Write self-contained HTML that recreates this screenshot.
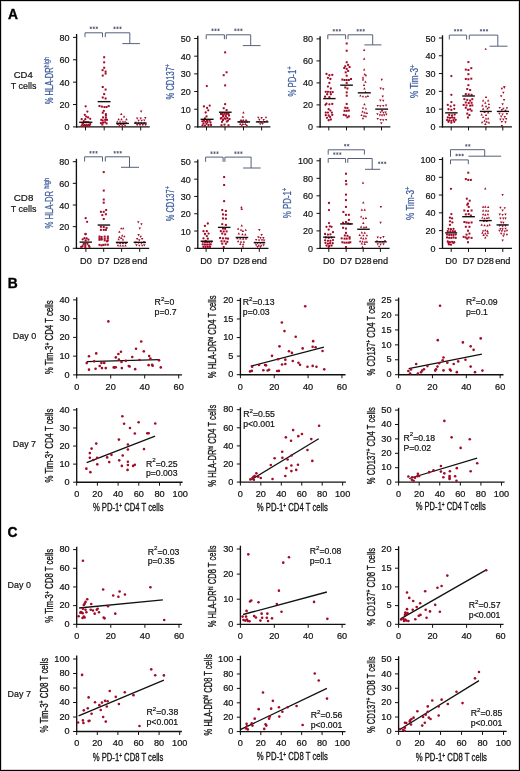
<!DOCTYPE html>
<html><head><meta charset="utf-8"><style>
html,body{margin:0;padding:0;background:#fff;}
svg{display:block;font-family:"Liberation Sans", sans-serif;will-change:transform;}
</style></head><body>
<svg width="520" height="771" viewBox="0 0 520 771">
<rect width="520" height="771" fill="#fff"/>
<rect x="1.5" y="1.5" width="517" height="768" fill="none" stroke="#d6d6d6" stroke-width="1"/>
<rect x="0.5" y="0.5" width="519" height="770" fill="none" stroke="#000" stroke-width="1"/>
<text x="7.70" y="287.80" font-size="13.8" text-anchor="start" fill="#000" font-weight="bold" stroke="#000" stroke-width="0.35" >B</text>
<text x="7.50" y="537.00" font-size="13.8" text-anchor="start" fill="#000" font-weight="bold" stroke="#000" stroke-width="0.35" >C</text>
<text x="8.10" y="18.80" font-size="13.8" text-anchor="start" fill="#000" font-weight="bold" stroke="#000" stroke-width="0.35" >A</text>
<text x="23.25" y="77.70" font-size="9.9" text-anchor="middle" fill="#111" font-weight="normal" stroke="#111" stroke-width="0.2" textLength="19.0" lengthAdjust="spacingAndGlyphs" >CD4</text>
<text x="23.55" y="88.50" font-size="9.9" text-anchor="middle" fill="#111" font-weight="normal" stroke="#111" stroke-width="0.2" textLength="25.6" lengthAdjust="spacingAndGlyphs" >T cells</text>
<text x="23.55" y="200.60" font-size="9.9" text-anchor="middle" fill="#111" font-weight="normal" stroke="#111" stroke-width="0.2" textLength="19.6" lengthAdjust="spacingAndGlyphs" >CD8</text>
<text x="23.55" y="211.70" font-size="9.9" text-anchor="middle" fill="#111" font-weight="normal" stroke="#111" stroke-width="0.2" textLength="25.6" lengthAdjust="spacingAndGlyphs" >T cells</text>
<line x1="76.60" y1="34.00" x2="76.60" y2="127.50" stroke="#111" stroke-width="1.35" />
<line x1="76.00" y1="126.90" x2="149.80" y2="126.90" stroke="#111" stroke-width="1.35" />
<line x1="73.00" y1="126.90" x2="76.60" y2="126.90" stroke="#111" stroke-width="1.0" />
<text x="69.60" y="130.40" font-size="9.8" text-anchor="end" fill="#111" font-weight="normal" stroke="#111" stroke-width="0.2" textLength="5.01" lengthAdjust="spacingAndGlyphs" >0</text>
<line x1="73.00" y1="104.53" x2="76.60" y2="104.53" stroke="#111" stroke-width="1.0" />
<text x="69.60" y="108.03" font-size="9.8" text-anchor="end" fill="#111" font-weight="normal" stroke="#111" stroke-width="0.2" textLength="10.03" lengthAdjust="spacingAndGlyphs" >20</text>
<line x1="73.00" y1="82.15" x2="76.60" y2="82.15" stroke="#111" stroke-width="1.0" />
<text x="69.60" y="85.65" font-size="9.8" text-anchor="end" fill="#111" font-weight="normal" stroke="#111" stroke-width="0.2" textLength="10.03" lengthAdjust="spacingAndGlyphs" >40</text>
<line x1="73.00" y1="59.78" x2="76.60" y2="59.78" stroke="#111" stroke-width="1.0" />
<text x="69.60" y="63.28" font-size="9.8" text-anchor="end" fill="#111" font-weight="normal" stroke="#111" stroke-width="0.2" textLength="10.03" lengthAdjust="spacingAndGlyphs" >60</text>
<line x1="73.00" y1="37.40" x2="76.60" y2="37.40" stroke="#111" stroke-width="1.0" />
<text x="69.60" y="40.90" font-size="9.8" text-anchor="end" fill="#111" font-weight="normal" stroke="#111" stroke-width="0.2" textLength="10.03" lengthAdjust="spacingAndGlyphs" >80</text>
<line x1="85.50" y1="126.90" x2="85.50" y2="130.40" stroke="#111" stroke-width="1.0" />
<line x1="104.20" y1="126.90" x2="104.20" y2="130.40" stroke="#111" stroke-width="1.0" />
<line x1="122.30" y1="126.90" x2="122.30" y2="130.40" stroke="#111" stroke-width="1.0" />
<line x1="140.70" y1="126.90" x2="140.70" y2="130.40" stroke="#111" stroke-width="1.0" />
<line x1="197.80" y1="35.80" x2="197.80" y2="127.50" stroke="#111" stroke-width="1.35" />
<line x1="197.20" y1="126.90" x2="270.40" y2="126.90" stroke="#111" stroke-width="1.35" />
<line x1="194.20" y1="126.90" x2="197.80" y2="126.90" stroke="#111" stroke-width="1.0" />
<text x="190.80" y="130.40" font-size="9.8" text-anchor="end" fill="#111" font-weight="normal" stroke="#111" stroke-width="0.2" textLength="5.01" lengthAdjust="spacingAndGlyphs" >0</text>
<line x1="194.20" y1="109.22" x2="197.80" y2="109.22" stroke="#111" stroke-width="1.0" />
<text x="190.80" y="112.72" font-size="9.8" text-anchor="end" fill="#111" font-weight="normal" stroke="#111" stroke-width="0.2" textLength="10.03" lengthAdjust="spacingAndGlyphs" >10</text>
<line x1="194.20" y1="91.54" x2="197.80" y2="91.54" stroke="#111" stroke-width="1.0" />
<text x="190.80" y="95.04" font-size="9.8" text-anchor="end" fill="#111" font-weight="normal" stroke="#111" stroke-width="0.2" textLength="10.03" lengthAdjust="spacingAndGlyphs" >20</text>
<line x1="194.20" y1="73.86" x2="197.80" y2="73.86" stroke="#111" stroke-width="1.0" />
<text x="190.80" y="77.36" font-size="9.8" text-anchor="end" fill="#111" font-weight="normal" stroke="#111" stroke-width="0.2" textLength="10.03" lengthAdjust="spacingAndGlyphs" >30</text>
<line x1="194.20" y1="56.18" x2="197.80" y2="56.18" stroke="#111" stroke-width="1.0" />
<text x="190.80" y="59.68" font-size="9.8" text-anchor="end" fill="#111" font-weight="normal" stroke="#111" stroke-width="0.2" textLength="10.03" lengthAdjust="spacingAndGlyphs" >40</text>
<line x1="194.20" y1="38.50" x2="197.80" y2="38.50" stroke="#111" stroke-width="1.0" />
<text x="190.80" y="42.00" font-size="9.8" text-anchor="end" fill="#111" font-weight="normal" stroke="#111" stroke-width="0.2" textLength="10.03" lengthAdjust="spacingAndGlyphs" >50</text>
<line x1="206.50" y1="126.90" x2="206.50" y2="130.40" stroke="#111" stroke-width="1.0" />
<line x1="225.00" y1="126.90" x2="225.00" y2="130.40" stroke="#111" stroke-width="1.0" />
<line x1="243.50" y1="126.90" x2="243.50" y2="130.40" stroke="#111" stroke-width="1.0" />
<line x1="261.60" y1="126.90" x2="261.60" y2="130.40" stroke="#111" stroke-width="1.0" />
<line x1="320.10" y1="36.20" x2="320.10" y2="127.50" stroke="#111" stroke-width="1.35" />
<line x1="319.50" y1="126.90" x2="390.40" y2="126.90" stroke="#111" stroke-width="1.35" />
<line x1="316.50" y1="126.90" x2="320.10" y2="126.90" stroke="#111" stroke-width="1.0" />
<text x="313.10" y="130.40" font-size="9.8" text-anchor="end" fill="#111" font-weight="normal" stroke="#111" stroke-width="0.2" textLength="5.01" lengthAdjust="spacingAndGlyphs" >0</text>
<line x1="316.50" y1="104.90" x2="320.10" y2="104.90" stroke="#111" stroke-width="1.0" />
<text x="313.10" y="108.40" font-size="9.8" text-anchor="end" fill="#111" font-weight="normal" stroke="#111" stroke-width="0.2" textLength="10.03" lengthAdjust="spacingAndGlyphs" >20</text>
<line x1="316.50" y1="82.90" x2="320.10" y2="82.90" stroke="#111" stroke-width="1.0" />
<text x="313.10" y="86.40" font-size="9.8" text-anchor="end" fill="#111" font-weight="normal" stroke="#111" stroke-width="0.2" textLength="10.03" lengthAdjust="spacingAndGlyphs" >40</text>
<line x1="316.50" y1="60.90" x2="320.10" y2="60.90" stroke="#111" stroke-width="1.0" />
<text x="313.10" y="64.40" font-size="9.8" text-anchor="end" fill="#111" font-weight="normal" stroke="#111" stroke-width="0.2" textLength="10.03" lengthAdjust="spacingAndGlyphs" >60</text>
<line x1="316.50" y1="38.90" x2="320.10" y2="38.90" stroke="#111" stroke-width="1.0" />
<text x="313.10" y="42.40" font-size="9.8" text-anchor="end" fill="#111" font-weight="normal" stroke="#111" stroke-width="0.2" textLength="10.03" lengthAdjust="spacingAndGlyphs" >80</text>
<line x1="328.80" y1="126.90" x2="328.80" y2="130.40" stroke="#111" stroke-width="1.0" />
<line x1="346.50" y1="126.90" x2="346.50" y2="130.40" stroke="#111" stroke-width="1.0" />
<line x1="364.20" y1="126.90" x2="364.20" y2="130.40" stroke="#111" stroke-width="1.0" />
<line x1="381.50" y1="126.90" x2="381.50" y2="130.40" stroke="#111" stroke-width="1.0" />
<line x1="442.50" y1="35.30" x2="442.50" y2="127.50" stroke="#111" stroke-width="1.35" />
<line x1="441.90" y1="126.90" x2="511.90" y2="126.90" stroke="#111" stroke-width="1.35" />
<line x1="438.90" y1="126.90" x2="442.50" y2="126.90" stroke="#111" stroke-width="1.0" />
<text x="435.50" y="130.40" font-size="9.8" text-anchor="end" fill="#111" font-weight="normal" stroke="#111" stroke-width="0.2" textLength="5.01" lengthAdjust="spacingAndGlyphs" >0</text>
<line x1="438.90" y1="109.12" x2="442.50" y2="109.12" stroke="#111" stroke-width="1.0" />
<text x="435.50" y="112.62" font-size="9.8" text-anchor="end" fill="#111" font-weight="normal" stroke="#111" stroke-width="0.2" textLength="10.03" lengthAdjust="spacingAndGlyphs" >10</text>
<line x1="438.90" y1="91.34" x2="442.50" y2="91.34" stroke="#111" stroke-width="1.0" />
<text x="435.50" y="94.84" font-size="9.8" text-anchor="end" fill="#111" font-weight="normal" stroke="#111" stroke-width="0.2" textLength="10.03" lengthAdjust="spacingAndGlyphs" >20</text>
<line x1="438.90" y1="73.56" x2="442.50" y2="73.56" stroke="#111" stroke-width="1.0" />
<text x="435.50" y="77.06" font-size="9.8" text-anchor="end" fill="#111" font-weight="normal" stroke="#111" stroke-width="0.2" textLength="10.03" lengthAdjust="spacingAndGlyphs" >30</text>
<line x1="438.90" y1="55.78" x2="442.50" y2="55.78" stroke="#111" stroke-width="1.0" />
<text x="435.50" y="59.28" font-size="9.8" text-anchor="end" fill="#111" font-weight="normal" stroke="#111" stroke-width="0.2" textLength="10.03" lengthAdjust="spacingAndGlyphs" >40</text>
<line x1="438.90" y1="38.00" x2="442.50" y2="38.00" stroke="#111" stroke-width="1.0" />
<text x="435.50" y="41.50" font-size="9.8" text-anchor="end" fill="#111" font-weight="normal" stroke="#111" stroke-width="0.2" textLength="10.03" lengthAdjust="spacingAndGlyphs" >50</text>
<line x1="451.20" y1="126.90" x2="451.20" y2="130.40" stroke="#111" stroke-width="1.0" />
<line x1="468.50" y1="126.90" x2="468.50" y2="130.40" stroke="#111" stroke-width="1.0" />
<line x1="485.90" y1="126.90" x2="485.90" y2="130.40" stroke="#111" stroke-width="1.0" />
<line x1="502.80" y1="126.90" x2="502.80" y2="130.40" stroke="#111" stroke-width="1.0" />
<line x1="76.40" y1="158.80" x2="76.40" y2="248.90" stroke="#111" stroke-width="1.35" />
<line x1="75.80" y1="248.30" x2="149.20" y2="248.30" stroke="#111" stroke-width="1.35" />
<line x1="72.80" y1="248.30" x2="76.40" y2="248.30" stroke="#111" stroke-width="1.0" />
<text x="69.40" y="251.80" font-size="9.8" text-anchor="end" fill="#111" font-weight="normal" stroke="#111" stroke-width="0.2" textLength="5.01" lengthAdjust="spacingAndGlyphs" >0</text>
<line x1="72.80" y1="226.65" x2="76.40" y2="226.65" stroke="#111" stroke-width="1.0" />
<text x="69.40" y="230.15" font-size="9.8" text-anchor="end" fill="#111" font-weight="normal" stroke="#111" stroke-width="0.2" textLength="10.03" lengthAdjust="spacingAndGlyphs" >20</text>
<line x1="72.80" y1="205.00" x2="76.40" y2="205.00" stroke="#111" stroke-width="1.0" />
<text x="69.40" y="208.50" font-size="9.8" text-anchor="end" fill="#111" font-weight="normal" stroke="#111" stroke-width="0.2" textLength="10.03" lengthAdjust="spacingAndGlyphs" >40</text>
<line x1="72.80" y1="183.35" x2="76.40" y2="183.35" stroke="#111" stroke-width="1.0" />
<text x="69.40" y="186.85" font-size="9.8" text-anchor="end" fill="#111" font-weight="normal" stroke="#111" stroke-width="0.2" textLength="10.03" lengthAdjust="spacingAndGlyphs" >60</text>
<line x1="72.80" y1="161.70" x2="76.40" y2="161.70" stroke="#111" stroke-width="1.0" />
<text x="69.40" y="165.20" font-size="9.8" text-anchor="end" fill="#111" font-weight="normal" stroke="#111" stroke-width="0.2" textLength="10.03" lengthAdjust="spacingAndGlyphs" >80</text>
<line x1="85.90" y1="248.30" x2="85.90" y2="251.80" stroke="#111" stroke-width="1.0" />
<line x1="103.70" y1="248.30" x2="103.70" y2="251.80" stroke="#111" stroke-width="1.0" />
<line x1="121.60" y1="248.30" x2="121.60" y2="251.80" stroke="#111" stroke-width="1.0" />
<line x1="139.70" y1="248.30" x2="139.70" y2="251.80" stroke="#111" stroke-width="1.0" />
<text x="85.90" y="263.80" font-size="9.2" text-anchor="middle" fill="#111" font-weight="normal" stroke="#111" stroke-width="0.2" >D0</text>
<text x="103.70" y="263.80" font-size="9.2" text-anchor="middle" fill="#111" font-weight="normal" stroke="#111" stroke-width="0.2" >D7</text>
<text x="121.60" y="263.80" font-size="9.2" text-anchor="middle" fill="#111" font-weight="normal" stroke="#111" stroke-width="0.2" >D28</text>
<text x="139.70" y="263.80" font-size="9.2" text-anchor="middle" fill="#111" font-weight="normal" stroke="#111" stroke-width="0.2" >end</text>
<line x1="197.80" y1="159.40" x2="197.80" y2="248.90" stroke="#111" stroke-width="1.35" />
<line x1="197.20" y1="248.30" x2="268.50" y2="248.30" stroke="#111" stroke-width="1.35" />
<line x1="194.20" y1="248.30" x2="197.80" y2="248.30" stroke="#111" stroke-width="1.0" />
<text x="190.80" y="251.80" font-size="9.8" text-anchor="end" fill="#111" font-weight="normal" stroke="#111" stroke-width="0.2" textLength="5.01" lengthAdjust="spacingAndGlyphs" >0</text>
<line x1="194.20" y1="231.02" x2="197.80" y2="231.02" stroke="#111" stroke-width="1.0" />
<text x="190.80" y="234.52" font-size="9.8" text-anchor="end" fill="#111" font-weight="normal" stroke="#111" stroke-width="0.2" textLength="10.03" lengthAdjust="spacingAndGlyphs" >10</text>
<line x1="194.20" y1="213.74" x2="197.80" y2="213.74" stroke="#111" stroke-width="1.0" />
<text x="190.80" y="217.24" font-size="9.8" text-anchor="end" fill="#111" font-weight="normal" stroke="#111" stroke-width="0.2" textLength="10.03" lengthAdjust="spacingAndGlyphs" >20</text>
<line x1="194.20" y1="196.46" x2="197.80" y2="196.46" stroke="#111" stroke-width="1.0" />
<text x="190.80" y="199.96" font-size="9.8" text-anchor="end" fill="#111" font-weight="normal" stroke="#111" stroke-width="0.2" textLength="10.03" lengthAdjust="spacingAndGlyphs" >30</text>
<line x1="194.20" y1="179.18" x2="197.80" y2="179.18" stroke="#111" stroke-width="1.0" />
<text x="190.80" y="182.68" font-size="9.8" text-anchor="end" fill="#111" font-weight="normal" stroke="#111" stroke-width="0.2" textLength="10.03" lengthAdjust="spacingAndGlyphs" >40</text>
<line x1="194.20" y1="161.90" x2="197.80" y2="161.90" stroke="#111" stroke-width="1.0" />
<text x="190.80" y="165.40" font-size="9.8" text-anchor="end" fill="#111" font-weight="normal" stroke="#111" stroke-width="0.2" textLength="10.03" lengthAdjust="spacingAndGlyphs" >50</text>
<line x1="206.10" y1="248.30" x2="206.10" y2="251.80" stroke="#111" stroke-width="1.0" />
<line x1="223.50" y1="248.30" x2="223.50" y2="251.80" stroke="#111" stroke-width="1.0" />
<line x1="241.50" y1="248.30" x2="241.50" y2="251.80" stroke="#111" stroke-width="1.0" />
<line x1="259.30" y1="248.30" x2="259.30" y2="251.80" stroke="#111" stroke-width="1.0" />
<text x="206.10" y="263.80" font-size="9.2" text-anchor="middle" fill="#111" font-weight="normal" stroke="#111" stroke-width="0.2" >D0</text>
<text x="223.50" y="263.80" font-size="9.2" text-anchor="middle" fill="#111" font-weight="normal" stroke="#111" stroke-width="0.2" >D7</text>
<text x="241.50" y="263.80" font-size="9.2" text-anchor="middle" fill="#111" font-weight="normal" stroke="#111" stroke-width="0.2" >D28</text>
<text x="259.30" y="263.80" font-size="9.2" text-anchor="middle" fill="#111" font-weight="normal" stroke="#111" stroke-width="0.2" >end</text>
<line x1="320.10" y1="158.00" x2="320.10" y2="249.00" stroke="#111" stroke-width="1.35" />
<line x1="319.50" y1="248.40" x2="389.60" y2="248.40" stroke="#111" stroke-width="1.35" />
<line x1="316.50" y1="248.40" x2="320.10" y2="248.40" stroke="#111" stroke-width="1.0" />
<text x="313.10" y="251.90" font-size="9.8" text-anchor="end" fill="#111" font-weight="normal" stroke="#111" stroke-width="0.2" textLength="5.01" lengthAdjust="spacingAndGlyphs" >0</text>
<line x1="316.50" y1="230.88" x2="320.10" y2="230.88" stroke="#111" stroke-width="1.0" />
<text x="313.10" y="234.38" font-size="9.8" text-anchor="end" fill="#111" font-weight="normal" stroke="#111" stroke-width="0.2" textLength="10.03" lengthAdjust="spacingAndGlyphs" >20</text>
<line x1="316.50" y1="213.36" x2="320.10" y2="213.36" stroke="#111" stroke-width="1.0" />
<text x="313.10" y="216.86" font-size="9.8" text-anchor="end" fill="#111" font-weight="normal" stroke="#111" stroke-width="0.2" textLength="10.03" lengthAdjust="spacingAndGlyphs" >40</text>
<line x1="316.50" y1="195.84" x2="320.10" y2="195.84" stroke="#111" stroke-width="1.0" />
<text x="313.10" y="199.34" font-size="9.8" text-anchor="end" fill="#111" font-weight="normal" stroke="#111" stroke-width="0.2" textLength="10.03" lengthAdjust="spacingAndGlyphs" >60</text>
<line x1="316.50" y1="178.32" x2="320.10" y2="178.32" stroke="#111" stroke-width="1.0" />
<text x="313.10" y="181.82" font-size="9.8" text-anchor="end" fill="#111" font-weight="normal" stroke="#111" stroke-width="0.2" textLength="10.03" lengthAdjust="spacingAndGlyphs" >80</text>
<line x1="316.50" y1="160.80" x2="320.10" y2="160.80" stroke="#111" stroke-width="1.0" />
<text x="313.10" y="164.30" font-size="9.8" text-anchor="end" fill="#111" font-weight="normal" stroke="#111" stroke-width="0.2" textLength="15.04" lengthAdjust="spacingAndGlyphs" >100</text>
<line x1="328.80" y1="248.40" x2="328.80" y2="251.90" stroke="#111" stroke-width="1.0" />
<line x1="346.20" y1="248.40" x2="346.20" y2="251.90" stroke="#111" stroke-width="1.0" />
<line x1="363.20" y1="248.40" x2="363.20" y2="251.90" stroke="#111" stroke-width="1.0" />
<line x1="380.40" y1="248.40" x2="380.40" y2="251.90" stroke="#111" stroke-width="1.0" />
<text x="328.80" y="263.80" font-size="9.2" text-anchor="middle" fill="#111" font-weight="normal" stroke="#111" stroke-width="0.2" >D0</text>
<text x="346.20" y="263.80" font-size="9.2" text-anchor="middle" fill="#111" font-weight="normal" stroke="#111" stroke-width="0.2" >D7</text>
<text x="363.20" y="263.80" font-size="9.2" text-anchor="middle" fill="#111" font-weight="normal" stroke="#111" stroke-width="0.2" >D28</text>
<text x="380.40" y="263.80" font-size="9.2" text-anchor="middle" fill="#111" font-weight="normal" stroke="#111" stroke-width="0.2" >end</text>
<line x1="442.50" y1="157.30" x2="442.50" y2="249.00" stroke="#111" stroke-width="1.35" />
<line x1="441.90" y1="248.40" x2="511.90" y2="248.40" stroke="#111" stroke-width="1.35" />
<line x1="438.90" y1="248.40" x2="442.50" y2="248.40" stroke="#111" stroke-width="1.0" />
<text x="435.50" y="251.90" font-size="9.8" text-anchor="end" fill="#111" font-weight="normal" stroke="#111" stroke-width="0.2" textLength="5.01" lengthAdjust="spacingAndGlyphs" >0</text>
<line x1="438.90" y1="230.62" x2="442.50" y2="230.62" stroke="#111" stroke-width="1.0" />
<text x="435.50" y="234.12" font-size="9.8" text-anchor="end" fill="#111" font-weight="normal" stroke="#111" stroke-width="0.2" textLength="10.03" lengthAdjust="spacingAndGlyphs" >20</text>
<line x1="438.90" y1="212.84" x2="442.50" y2="212.84" stroke="#111" stroke-width="1.0" />
<text x="435.50" y="216.34" font-size="9.8" text-anchor="end" fill="#111" font-weight="normal" stroke="#111" stroke-width="0.2" textLength="10.03" lengthAdjust="spacingAndGlyphs" >40</text>
<line x1="438.90" y1="195.06" x2="442.50" y2="195.06" stroke="#111" stroke-width="1.0" />
<text x="435.50" y="198.56" font-size="9.8" text-anchor="end" fill="#111" font-weight="normal" stroke="#111" stroke-width="0.2" textLength="10.03" lengthAdjust="spacingAndGlyphs" >60</text>
<line x1="438.90" y1="177.28" x2="442.50" y2="177.28" stroke="#111" stroke-width="1.0" />
<text x="435.50" y="180.78" font-size="9.8" text-anchor="end" fill="#111" font-weight="normal" stroke="#111" stroke-width="0.2" textLength="10.03" lengthAdjust="spacingAndGlyphs" >80</text>
<line x1="438.90" y1="159.50" x2="442.50" y2="159.50" stroke="#111" stroke-width="1.0" />
<text x="435.50" y="163.00" font-size="9.8" text-anchor="end" fill="#111" font-weight="normal" stroke="#111" stroke-width="0.2" textLength="15.04" lengthAdjust="spacingAndGlyphs" >100</text>
<line x1="451.20" y1="248.40" x2="451.20" y2="251.90" stroke="#111" stroke-width="1.0" />
<line x1="468.50" y1="248.40" x2="468.50" y2="251.90" stroke="#111" stroke-width="1.0" />
<line x1="485.50" y1="248.40" x2="485.50" y2="251.90" stroke="#111" stroke-width="1.0" />
<line x1="502.80" y1="248.40" x2="502.80" y2="251.90" stroke="#111" stroke-width="1.0" />
<text x="451.20" y="263.80" font-size="9.2" text-anchor="middle" fill="#111" font-weight="normal" stroke="#111" stroke-width="0.2" >D0</text>
<text x="468.50" y="263.80" font-size="9.2" text-anchor="middle" fill="#111" font-weight="normal" stroke="#111" stroke-width="0.2" >D7</text>
<text x="485.50" y="263.80" font-size="9.2" text-anchor="middle" fill="#111" font-weight="normal" stroke="#111" stroke-width="0.2" >D28</text>
<text x="502.80" y="263.80" font-size="9.2" text-anchor="middle" fill="#111" font-weight="normal" stroke="#111" stroke-width="0.2" >end</text>
<text transform="translate(52.80,104.20) rotate(-90)" x="0" y="0" font-size="10.2" fill="#3d5d9c" font-weight="normal" stroke="#3d5d9c" stroke-width="0.25" textLength="47.40" lengthAdjust="spacingAndGlyphs">% HLA-DR<tspan dy="-3.9" font-size="7.6">high</tspan></text>
<text transform="translate(173.90,99.40) rotate(-90)" x="0" y="0" font-size="10.2" fill="#3d5d9c" font-weight="normal" stroke="#3d5d9c" stroke-width="0.25" textLength="35.50" lengthAdjust="spacingAndGlyphs">% CD137<tspan dy="-3.9" font-size="7.6">+</tspan></text>
<text transform="translate(296.30,96.60) rotate(-90)" x="0" y="0" font-size="10.2" fill="#3d5d9c" font-weight="normal" stroke="#3d5d9c" stroke-width="0.25" textLength="30.30" lengthAdjust="spacingAndGlyphs">% PD-1<tspan dy="-3.9" font-size="7.6">+</tspan></text>
<text transform="translate(418.40,98.10) rotate(-90)" x="0" y="0" font-size="10.2" fill="#3d5d9c" font-weight="normal" stroke="#3d5d9c" stroke-width="0.25" textLength="33.60" lengthAdjust="spacingAndGlyphs">% Tim-3<tspan dy="-3.9" font-size="7.6">+</tspan></text>
<text transform="translate(53.00,228.50) rotate(-90)" x="0" y="0" font-size="10.2" fill="#3d5d9c" font-weight="normal" stroke="#3d5d9c" stroke-width="0.25" textLength="50.70" lengthAdjust="spacingAndGlyphs">% HLA-DR <tspan dy="-3.9" font-size="7.6">high</tspan></text>
<text transform="translate(173.90,221.30) rotate(-90)" x="0" y="0" font-size="10.2" fill="#3d5d9c" font-weight="normal" stroke="#3d5d9c" stroke-width="0.25" textLength="35.20" lengthAdjust="spacingAndGlyphs">% CD137<tspan dy="-3.9" font-size="7.6">+</tspan></text>
<text transform="translate(291.00,218.20) rotate(-90)" x="0" y="0" font-size="10.2" fill="#3d5d9c" font-weight="normal" stroke="#3d5d9c" stroke-width="0.25" textLength="30.50" lengthAdjust="spacingAndGlyphs">% PD-1<tspan dy="-3.9" font-size="7.6">+</tspan></text>
<text transform="translate(413.60,220.00) rotate(-90)" x="0" y="0" font-size="10.2" fill="#3d5d9c" font-weight="normal" stroke="#3d5d9c" stroke-width="0.25" textLength="33.50" lengthAdjust="spacingAndGlyphs">% Tim-3<tspan dy="-3.9" font-size="7.6">+</tspan></text>
<polyline points="85.00,37.20 85.00,32.80 102.50,32.80 102.50,37.20" fill="none" stroke="#56607a" stroke-width="1.0"/>
<polyline points="105.30,37.20 105.30,32.80 129.80,32.80 129.80,43.60" fill="none" stroke="#56607a" stroke-width="1.0"/>
<line x1="122.30" y1="43.60" x2="139.90" y2="43.60" stroke="#56607a" stroke-width="1.0" />
<path d="M90.80,26.55L90.80,29.05M89.72,27.18L91.88,28.43M89.72,28.43L91.88,27.18M93.80,26.55L93.80,29.05M92.72,27.18L94.88,28.43M92.72,28.43L94.88,27.18M96.80,26.55L96.80,29.05M95.72,27.18L97.88,28.43M95.72,28.43L97.88,27.18" stroke="#56607a" stroke-width="0.85" fill="none"/>
<path d="M114.50,26.55L114.50,29.05M113.42,27.18L115.58,28.43M113.42,28.43L115.58,27.18M117.50,26.55L117.50,29.05M116.42,27.18L118.58,28.43M116.42,28.43L118.58,27.18M120.50,26.55L120.50,29.05M119.42,27.18L121.58,28.43M119.42,28.43L121.58,27.18" stroke="#56607a" stroke-width="0.85" fill="none"/>
<polyline points="206.20,39.20 206.20,34.80 224.40,34.80 224.40,39.20" fill="none" stroke="#56607a" stroke-width="1.0"/>
<polyline points="226.30,39.20 226.30,34.80 250.70,34.80 250.70,45.60" fill="none" stroke="#56607a" stroke-width="1.0"/>
<line x1="242.80" y1="45.60" x2="260.60" y2="45.60" stroke="#56607a" stroke-width="1.0" />
<path d="M212.50,28.55L212.50,31.05M211.42,29.18L213.58,30.43M211.42,30.43L213.58,29.18M215.50,28.55L215.50,31.05M214.42,29.18L216.58,30.43M214.42,30.43L216.58,29.18M218.50,28.55L218.50,31.05M217.42,29.18L219.58,30.43M217.42,30.43L219.58,29.18" stroke="#56607a" stroke-width="0.85" fill="none"/>
<path d="M235.40,28.55L235.40,31.05M234.32,29.18L236.48,30.43M234.32,30.43L236.48,29.18M238.40,28.55L238.40,31.05M237.32,29.18L239.48,30.43M237.32,30.43L239.48,29.18M241.40,28.55L241.40,31.05M240.32,29.18L242.48,30.43M240.32,30.43L242.48,29.18" stroke="#56607a" stroke-width="0.85" fill="none"/>
<polyline points="327.80,39.20 327.80,34.80 345.60,34.80 345.60,39.20" fill="none" stroke="#56607a" stroke-width="1.0"/>
<polyline points="348.00,39.20 348.00,34.80 372.70,34.80 372.70,44.90" fill="none" stroke="#56607a" stroke-width="1.0"/>
<line x1="364.40" y1="44.90" x2="381.50" y2="44.90" stroke="#56607a" stroke-width="1.0" />
<path d="M333.80,29.05L333.80,31.55M332.72,29.68L334.88,30.93M332.72,30.93L334.88,29.68M336.80,29.05L336.80,31.55M335.72,29.68L337.88,30.93M335.72,30.93L337.88,29.68M339.80,29.05L339.80,31.55M338.72,29.68L340.88,30.93M338.72,30.93L340.88,29.68" stroke="#56607a" stroke-width="0.85" fill="none"/>
<path d="M357.70,29.05L357.70,31.55M356.62,29.68L358.78,30.93M356.62,30.93L358.78,29.68M360.70,29.05L360.70,31.55M359.62,29.68L361.78,30.93M359.62,30.93L361.78,29.68M363.70,29.05L363.70,31.55M362.62,29.68L364.78,30.93M362.62,30.93L364.78,29.68" stroke="#56607a" stroke-width="0.85" fill="none"/>
<polyline points="449.30,39.50 449.30,35.10 466.60,35.10 466.60,39.50" fill="none" stroke="#56607a" stroke-width="1.0"/>
<polyline points="469.30,39.50 469.30,35.10 497.80,35.10 497.80,46.20" fill="none" stroke="#56607a" stroke-width="1.0"/>
<line x1="489.50" y1="46.20" x2="507.50" y2="46.20" stroke="#56607a" stroke-width="1.0" />
<path d="M455.10,29.05L455.10,31.55M454.02,29.68L456.18,30.93M454.02,30.93L456.18,29.68M458.10,29.05L458.10,31.55M457.02,29.68L459.18,30.93M457.02,30.93L459.18,29.68M461.10,29.05L461.10,31.55M460.02,29.68L462.18,30.93M460.02,30.93L462.18,29.68" stroke="#56607a" stroke-width="0.85" fill="none"/>
<path d="M481.00,29.05L481.00,31.55M479.92,29.68L482.08,30.93M479.92,30.93L482.08,29.68M484.00,29.05L484.00,31.55M482.92,29.68L485.08,30.93M482.92,30.93L485.08,29.68M487.00,29.05L487.00,31.55M485.92,29.68L488.08,30.93M485.92,30.93L488.08,29.68" stroke="#56607a" stroke-width="0.85" fill="none"/>
<polyline points="84.60,161.50 84.60,156.80 102.50,156.80 102.50,161.50" fill="none" stroke="#56607a" stroke-width="1.0"/>
<polyline points="105.30,161.50 105.30,156.80 129.50,156.80 129.50,167.30" fill="none" stroke="#56607a" stroke-width="1.0"/>
<line x1="121.00" y1="167.30" x2="139.00" y2="167.30" stroke="#56607a" stroke-width="1.0" />
<path d="M90.50,151.05L90.50,153.55M89.42,151.68L91.58,152.93M89.42,152.93L91.58,151.68M93.50,151.05L93.50,153.55M92.42,151.68L94.58,152.93M92.42,152.93L94.58,151.68M96.50,151.05L96.50,153.55M95.42,151.68L97.58,152.93M95.42,152.93L97.58,151.68" stroke="#56607a" stroke-width="0.85" fill="none"/>
<path d="M114.70,151.05L114.70,153.55M113.62,151.68L115.78,152.93M113.62,152.93L115.78,151.68M117.70,151.05L117.70,153.55M116.62,151.68L118.78,152.93M116.62,152.93L118.78,151.68M120.70,151.05L120.70,153.55M119.62,151.68L121.78,152.93M119.62,152.93L121.78,151.68" stroke="#56607a" stroke-width="0.85" fill="none"/>
<polyline points="205.60,161.80 205.60,157.10 223.10,157.10 223.10,161.80" fill="none" stroke="#56607a" stroke-width="1.0"/>
<polyline points="224.90,161.80 224.90,157.10 251.10,157.10 251.10,168.00" fill="none" stroke="#56607a" stroke-width="1.0"/>
<line x1="243.10" y1="168.00" x2="260.60" y2="168.00" stroke="#56607a" stroke-width="1.0" />
<path d="M211.50,151.45L211.50,153.95M210.42,152.07L212.58,153.32M210.42,153.32L212.58,152.07M214.50,151.45L214.50,153.95M213.42,152.07L215.58,153.32M213.42,153.32L215.58,152.07M217.50,151.45L217.50,153.95M216.42,152.07L218.58,153.32M216.42,153.32L218.58,152.07" stroke="#56607a" stroke-width="0.85" fill="none"/>
<path d="M235.40,151.45L235.40,153.95M234.32,152.07L236.48,153.32M234.32,153.32L236.48,152.07M238.40,151.45L238.40,153.95M237.32,152.07L239.48,153.32M237.32,153.32L239.48,152.07M241.40,151.45L241.40,153.95M240.32,152.07L242.48,153.32M240.32,153.32L242.48,152.07" stroke="#56607a" stroke-width="0.85" fill="none"/>
<polyline points="328.20,154.60 328.20,149.80 364.40,149.80 364.40,154.60" fill="none" stroke="#56607a" stroke-width="1.0"/>
<path d="M345.20,143.95L345.20,146.45M344.12,144.57L346.28,145.82M344.12,145.82L346.28,144.57M348.20,143.95L348.20,146.45M347.12,144.57L349.28,145.82M347.12,145.82L349.28,144.57" stroke="#56607a" stroke-width="0.85" fill="none"/>
<path d="M334.30,152.35L334.30,154.85M333.22,152.97L335.38,154.22M333.22,154.22L335.38,152.97M337.30,152.35L337.30,154.85M336.22,152.97L338.38,154.22M336.22,154.22L338.38,152.97M340.30,152.35L340.30,154.85M339.22,152.97L341.38,154.22M339.22,154.22L341.38,152.97" stroke="#56607a" stroke-width="0.85" fill="none"/>
<polyline points="328.20,162.80 328.20,158.50 345.60,158.50 345.60,162.80" fill="none" stroke="#56607a" stroke-width="1.0"/>
<polyline points="347.80,162.80 347.80,158.50 372.20,158.50 372.20,169.30" fill="none" stroke="#56607a" stroke-width="1.0"/>
<line x1="365.00" y1="169.30" x2="380.20" y2="169.30" stroke="#56607a" stroke-width="1.0" />
<path d="M379.20,161.55L379.20,164.05M378.12,162.18L380.28,163.43M378.12,163.43L380.28,162.18M382.20,161.55L382.20,164.05M381.12,162.18L383.28,163.43M381.12,163.43L383.28,162.18M385.20,161.55L385.20,164.05M384.12,162.18L386.28,163.43M384.12,163.43L386.28,162.18" stroke="#56607a" stroke-width="0.85" fill="none"/>
<polyline points="450.50,156.80 450.50,149.70 484.70,149.70 484.70,156.20" fill="none" stroke="#56607a" stroke-width="1.0"/>
<line x1="468.50" y1="156.20" x2="501.20" y2="156.20" stroke="#56607a" stroke-width="1.0" />
<path d="M466.30,144.15L466.30,146.65M465.22,144.78L467.38,146.03M465.22,146.03L467.38,144.78M469.30,144.15L469.30,146.65M468.22,144.78L470.38,146.03M468.22,146.03L470.38,144.78" stroke="#56607a" stroke-width="0.85" fill="none"/>
<path d="M456.60,153.75L456.60,156.25M455.52,154.38L457.68,155.62M455.52,155.62L457.68,154.38M459.60,153.75L459.60,156.25M458.52,154.38L460.68,155.62M458.52,155.62L460.68,154.38M462.60,153.75L462.60,156.25M461.52,154.38L463.68,155.62M461.52,155.62L463.68,154.38" stroke="#56607a" stroke-width="0.85" fill="none"/>
<polyline points="450.50,164.20 450.50,159.90 468.30,159.90 468.30,164.20" fill="none" stroke="#56607a" stroke-width="1.0"/>
<line x1="76.70" y1="297.20" x2="76.70" y2="375.50" stroke="#111" stroke-width="1.35" />
<line x1="76.10" y1="374.90" x2="182.00" y2="374.90" stroke="#111" stroke-width="1.35" />
<line x1="73.10" y1="374.90" x2="76.70" y2="374.90" stroke="#111" stroke-width="1.0" />
<text x="69.70" y="377.60" font-size="8.5" text-anchor="end" fill="#111" font-weight="normal" stroke="#111" stroke-width="0.2" textLength="5.10" lengthAdjust="spacingAndGlyphs" >0</text>
<line x1="73.10" y1="356.15" x2="76.70" y2="356.15" stroke="#111" stroke-width="1.0" />
<text x="69.70" y="358.85" font-size="8.5" text-anchor="end" fill="#111" font-weight="normal" stroke="#111" stroke-width="0.2" textLength="10.21" lengthAdjust="spacingAndGlyphs" >10</text>
<line x1="73.10" y1="337.40" x2="76.70" y2="337.40" stroke="#111" stroke-width="1.0" />
<text x="69.70" y="340.10" font-size="8.5" text-anchor="end" fill="#111" font-weight="normal" stroke="#111" stroke-width="0.2" textLength="10.21" lengthAdjust="spacingAndGlyphs" >20</text>
<line x1="73.10" y1="318.65" x2="76.70" y2="318.65" stroke="#111" stroke-width="1.0" />
<text x="69.70" y="321.35" font-size="8.5" text-anchor="end" fill="#111" font-weight="normal" stroke="#111" stroke-width="0.2" textLength="10.21" lengthAdjust="spacingAndGlyphs" >30</text>
<line x1="73.10" y1="299.90" x2="76.70" y2="299.90" stroke="#111" stroke-width="1.0" />
<text x="69.70" y="302.60" font-size="8.5" text-anchor="end" fill="#111" font-weight="normal" stroke="#111" stroke-width="0.2" textLength="10.21" lengthAdjust="spacingAndGlyphs" >40</text>
<line x1="76.70" y1="374.90" x2="76.70" y2="378.40" stroke="#111" stroke-width="1.0" />
<text x="76.70" y="389.60" font-size="8.5" text-anchor="middle" fill="#111" font-weight="normal" stroke="#111" stroke-width="0.2" textLength="5.10" lengthAdjust="spacingAndGlyphs" >0</text>
<line x1="110.70" y1="374.90" x2="110.70" y2="378.40" stroke="#111" stroke-width="1.0" />
<text x="110.70" y="389.60" font-size="8.5" text-anchor="middle" fill="#111" font-weight="normal" stroke="#111" stroke-width="0.2" textLength="10.21" lengthAdjust="spacingAndGlyphs" >20</text>
<line x1="144.70" y1="374.90" x2="144.70" y2="378.40" stroke="#111" stroke-width="1.0" />
<text x="144.70" y="389.60" font-size="8.5" text-anchor="middle" fill="#111" font-weight="normal" stroke="#111" stroke-width="0.2" textLength="10.21" lengthAdjust="spacingAndGlyphs" >40</text>
<line x1="178.70" y1="374.90" x2="178.70" y2="378.40" stroke="#111" stroke-width="1.0" />
<text x="178.70" y="389.60" font-size="8.5" text-anchor="middle" fill="#111" font-weight="normal" stroke="#111" stroke-width="0.2" textLength="10.21" lengthAdjust="spacingAndGlyphs" >60</text>
<line x1="240.40" y1="298.00" x2="240.40" y2="375.30" stroke="#111" stroke-width="1.35" />
<line x1="239.80" y1="374.70" x2="345.50" y2="374.70" stroke="#111" stroke-width="1.35" />
<line x1="236.80" y1="374.70" x2="240.40" y2="374.70" stroke="#111" stroke-width="1.0" />
<text x="233.40" y="377.40" font-size="8.5" text-anchor="end" fill="#111" font-weight="normal" stroke="#111" stroke-width="0.2" textLength="5.10" lengthAdjust="spacingAndGlyphs" >0</text>
<line x1="236.80" y1="356.12" x2="240.40" y2="356.12" stroke="#111" stroke-width="1.0" />
<text x="233.40" y="358.82" font-size="8.5" text-anchor="end" fill="#111" font-weight="normal" stroke="#111" stroke-width="0.2" textLength="5.10" lengthAdjust="spacingAndGlyphs" >5</text>
<line x1="236.80" y1="337.55" x2="240.40" y2="337.55" stroke="#111" stroke-width="1.0" />
<text x="233.40" y="340.25" font-size="8.5" text-anchor="end" fill="#111" font-weight="normal" stroke="#111" stroke-width="0.2" textLength="10.21" lengthAdjust="spacingAndGlyphs" >10</text>
<line x1="236.80" y1="318.97" x2="240.40" y2="318.97" stroke="#111" stroke-width="1.0" />
<text x="233.40" y="321.67" font-size="8.5" text-anchor="end" fill="#111" font-weight="normal" stroke="#111" stroke-width="0.2" textLength="10.21" lengthAdjust="spacingAndGlyphs" >15</text>
<line x1="236.80" y1="300.40" x2="240.40" y2="300.40" stroke="#111" stroke-width="1.0" />
<text x="233.40" y="303.10" font-size="8.5" text-anchor="end" fill="#111" font-weight="normal" stroke="#111" stroke-width="0.2" textLength="10.21" lengthAdjust="spacingAndGlyphs" >20</text>
<line x1="240.40" y1="374.70" x2="240.40" y2="378.20" stroke="#111" stroke-width="1.0" />
<text x="240.40" y="389.60" font-size="8.5" text-anchor="middle" fill="#111" font-weight="normal" stroke="#111" stroke-width="0.2" textLength="5.10" lengthAdjust="spacingAndGlyphs" >0</text>
<line x1="274.25" y1="374.70" x2="274.25" y2="378.20" stroke="#111" stroke-width="1.0" />
<text x="274.25" y="389.60" font-size="8.5" text-anchor="middle" fill="#111" font-weight="normal" stroke="#111" stroke-width="0.2" textLength="10.21" lengthAdjust="spacingAndGlyphs" >20</text>
<line x1="308.10" y1="374.70" x2="308.10" y2="378.20" stroke="#111" stroke-width="1.0" />
<text x="308.10" y="389.60" font-size="8.5" text-anchor="middle" fill="#111" font-weight="normal" stroke="#111" stroke-width="0.2" textLength="10.21" lengthAdjust="spacingAndGlyphs" >40</text>
<line x1="341.95" y1="374.70" x2="341.95" y2="378.20" stroke="#111" stroke-width="1.0" />
<text x="341.95" y="389.60" font-size="8.5" text-anchor="middle" fill="#111" font-weight="normal" stroke="#111" stroke-width="0.2" textLength="10.21" lengthAdjust="spacingAndGlyphs" >60</text>
<line x1="398.60" y1="297.60" x2="398.60" y2="375.30" stroke="#111" stroke-width="1.35" />
<line x1="398.00" y1="374.70" x2="503.50" y2="374.70" stroke="#111" stroke-width="1.35" />
<line x1="395.00" y1="374.70" x2="398.60" y2="374.70" stroke="#111" stroke-width="1.0" />
<text x="391.60" y="377.40" font-size="8.5" text-anchor="end" fill="#111" font-weight="normal" stroke="#111" stroke-width="0.2" textLength="5.10" lengthAdjust="spacingAndGlyphs" >0</text>
<line x1="395.00" y1="359.78" x2="398.60" y2="359.78" stroke="#111" stroke-width="1.0" />
<text x="391.60" y="362.48" font-size="8.5" text-anchor="end" fill="#111" font-weight="normal" stroke="#111" stroke-width="0.2" textLength="5.10" lengthAdjust="spacingAndGlyphs" >5</text>
<line x1="395.00" y1="344.86" x2="398.60" y2="344.86" stroke="#111" stroke-width="1.0" />
<text x="391.60" y="347.56" font-size="8.5" text-anchor="end" fill="#111" font-weight="normal" stroke="#111" stroke-width="0.2" textLength="10.21" lengthAdjust="spacingAndGlyphs" >10</text>
<line x1="395.00" y1="329.94" x2="398.60" y2="329.94" stroke="#111" stroke-width="1.0" />
<text x="391.60" y="332.64" font-size="8.5" text-anchor="end" fill="#111" font-weight="normal" stroke="#111" stroke-width="0.2" textLength="10.21" lengthAdjust="spacingAndGlyphs" >15</text>
<line x1="395.00" y1="315.02" x2="398.60" y2="315.02" stroke="#111" stroke-width="1.0" />
<text x="391.60" y="317.72" font-size="8.5" text-anchor="end" fill="#111" font-weight="normal" stroke="#111" stroke-width="0.2" textLength="10.21" lengthAdjust="spacingAndGlyphs" >20</text>
<line x1="395.00" y1="300.10" x2="398.60" y2="300.10" stroke="#111" stroke-width="1.0" />
<text x="391.60" y="302.80" font-size="8.5" text-anchor="end" fill="#111" font-weight="normal" stroke="#111" stroke-width="0.2" textLength="10.21" lengthAdjust="spacingAndGlyphs" >25</text>
<line x1="398.60" y1="374.70" x2="398.60" y2="378.20" stroke="#111" stroke-width="1.0" />
<text x="398.60" y="389.60" font-size="8.5" text-anchor="middle" fill="#111" font-weight="normal" stroke="#111" stroke-width="0.2" textLength="5.10" lengthAdjust="spacingAndGlyphs" >0</text>
<line x1="432.45" y1="374.70" x2="432.45" y2="378.20" stroke="#111" stroke-width="1.0" />
<text x="432.45" y="389.60" font-size="8.5" text-anchor="middle" fill="#111" font-weight="normal" stroke="#111" stroke-width="0.2" textLength="10.21" lengthAdjust="spacingAndGlyphs" >20</text>
<line x1="466.30" y1="374.70" x2="466.30" y2="378.20" stroke="#111" stroke-width="1.0" />
<text x="466.30" y="389.60" font-size="8.5" text-anchor="middle" fill="#111" font-weight="normal" stroke="#111" stroke-width="0.2" textLength="10.21" lengthAdjust="spacingAndGlyphs" >40</text>
<line x1="500.15" y1="374.70" x2="500.15" y2="378.20" stroke="#111" stroke-width="1.0" />
<text x="500.15" y="389.60" font-size="8.5" text-anchor="middle" fill="#111" font-weight="normal" stroke="#111" stroke-width="0.2" textLength="10.21" lengthAdjust="spacingAndGlyphs" >60</text>
<line x1="76.70" y1="408.00" x2="76.70" y2="482.80" stroke="#111" stroke-width="1.35" />
<line x1="76.10" y1="482.20" x2="182.60" y2="482.20" stroke="#111" stroke-width="1.35" />
<line x1="73.10" y1="482.20" x2="76.70" y2="482.20" stroke="#111" stroke-width="1.0" />
<text x="69.70" y="484.90" font-size="8.5" text-anchor="end" fill="#111" font-weight="normal" stroke="#111" stroke-width="0.2" textLength="5.10" lengthAdjust="spacingAndGlyphs" >0</text>
<line x1="73.10" y1="464.12" x2="76.70" y2="464.12" stroke="#111" stroke-width="1.0" />
<text x="69.70" y="466.82" font-size="8.5" text-anchor="end" fill="#111" font-weight="normal" stroke="#111" stroke-width="0.2" textLength="10.21" lengthAdjust="spacingAndGlyphs" >10</text>
<line x1="73.10" y1="446.05" x2="76.70" y2="446.05" stroke="#111" stroke-width="1.0" />
<text x="69.70" y="448.75" font-size="8.5" text-anchor="end" fill="#111" font-weight="normal" stroke="#111" stroke-width="0.2" textLength="10.21" lengthAdjust="spacingAndGlyphs" >20</text>
<line x1="73.10" y1="427.97" x2="76.70" y2="427.97" stroke="#111" stroke-width="1.0" />
<text x="69.70" y="430.67" font-size="8.5" text-anchor="end" fill="#111" font-weight="normal" stroke="#111" stroke-width="0.2" textLength="10.21" lengthAdjust="spacingAndGlyphs" >30</text>
<line x1="73.10" y1="409.90" x2="76.70" y2="409.90" stroke="#111" stroke-width="1.0" />
<text x="69.70" y="412.60" font-size="8.5" text-anchor="end" fill="#111" font-weight="normal" stroke="#111" stroke-width="0.2" textLength="10.21" lengthAdjust="spacingAndGlyphs" >40</text>
<line x1="76.70" y1="482.20" x2="76.70" y2="485.70" stroke="#111" stroke-width="1.0" />
<text x="76.70" y="497.20" font-size="8.5" text-anchor="middle" fill="#111" font-weight="normal" stroke="#111" stroke-width="0.2" textLength="5.10" lengthAdjust="spacingAndGlyphs" >0</text>
<line x1="97.40" y1="482.20" x2="97.40" y2="485.70" stroke="#111" stroke-width="1.0" />
<text x="97.40" y="497.20" font-size="8.5" text-anchor="middle" fill="#111" font-weight="normal" stroke="#111" stroke-width="0.2" textLength="10.21" lengthAdjust="spacingAndGlyphs" >20</text>
<line x1="118.10" y1="482.20" x2="118.10" y2="485.70" stroke="#111" stroke-width="1.0" />
<text x="118.10" y="497.20" font-size="8.5" text-anchor="middle" fill="#111" font-weight="normal" stroke="#111" stroke-width="0.2" textLength="10.21" lengthAdjust="spacingAndGlyphs" >40</text>
<line x1="138.80" y1="482.20" x2="138.80" y2="485.70" stroke="#111" stroke-width="1.0" />
<text x="138.80" y="497.20" font-size="8.5" text-anchor="middle" fill="#111" font-weight="normal" stroke="#111" stroke-width="0.2" textLength="10.21" lengthAdjust="spacingAndGlyphs" >60</text>
<line x1="159.50" y1="482.20" x2="159.50" y2="485.70" stroke="#111" stroke-width="1.0" />
<text x="159.50" y="497.20" font-size="8.5" text-anchor="middle" fill="#111" font-weight="normal" stroke="#111" stroke-width="0.2" textLength="10.21" lengthAdjust="spacingAndGlyphs" >80</text>
<line x1="180.20" y1="482.20" x2="180.20" y2="485.70" stroke="#111" stroke-width="1.0" />
<text x="180.20" y="497.20" font-size="8.5" text-anchor="middle" fill="#111" font-weight="normal" stroke="#111" stroke-width="0.2" textLength="15.31" lengthAdjust="spacingAndGlyphs" >100</text>
<line x1="240.40" y1="407.40" x2="240.40" y2="482.70" stroke="#111" stroke-width="1.35" />
<line x1="239.80" y1="482.10" x2="345.90" y2="482.10" stroke="#111" stroke-width="1.35" />
<line x1="236.80" y1="482.10" x2="240.40" y2="482.10" stroke="#111" stroke-width="1.0" />
<text x="233.40" y="484.80" font-size="8.5" text-anchor="end" fill="#111" font-weight="normal" stroke="#111" stroke-width="0.2" textLength="5.10" lengthAdjust="spacingAndGlyphs" >0</text>
<line x1="236.80" y1="464.00" x2="240.40" y2="464.00" stroke="#111" stroke-width="1.0" />
<text x="233.40" y="466.70" font-size="8.5" text-anchor="end" fill="#111" font-weight="normal" stroke="#111" stroke-width="0.2" textLength="10.21" lengthAdjust="spacingAndGlyphs" >20</text>
<line x1="236.80" y1="445.90" x2="240.40" y2="445.90" stroke="#111" stroke-width="1.0" />
<text x="233.40" y="448.60" font-size="8.5" text-anchor="end" fill="#111" font-weight="normal" stroke="#111" stroke-width="0.2" textLength="10.21" lengthAdjust="spacingAndGlyphs" >40</text>
<line x1="236.80" y1="427.80" x2="240.40" y2="427.80" stroke="#111" stroke-width="1.0" />
<text x="233.40" y="430.50" font-size="8.5" text-anchor="end" fill="#111" font-weight="normal" stroke="#111" stroke-width="0.2" textLength="10.21" lengthAdjust="spacingAndGlyphs" >60</text>
<line x1="236.80" y1="409.70" x2="240.40" y2="409.70" stroke="#111" stroke-width="1.0" />
<text x="233.40" y="412.40" font-size="8.5" text-anchor="end" fill="#111" font-weight="normal" stroke="#111" stroke-width="0.2" textLength="10.21" lengthAdjust="spacingAndGlyphs" >80</text>
<line x1="240.40" y1="482.10" x2="240.40" y2="485.60" stroke="#111" stroke-width="1.0" />
<text x="240.40" y="497.20" font-size="8.5" text-anchor="middle" fill="#111" font-weight="normal" stroke="#111" stroke-width="0.2" textLength="5.10" lengthAdjust="spacingAndGlyphs" >0</text>
<line x1="260.85" y1="482.10" x2="260.85" y2="485.60" stroke="#111" stroke-width="1.0" />
<text x="260.85" y="497.20" font-size="8.5" text-anchor="middle" fill="#111" font-weight="normal" stroke="#111" stroke-width="0.2" textLength="10.21" lengthAdjust="spacingAndGlyphs" >20</text>
<line x1="281.30" y1="482.10" x2="281.30" y2="485.60" stroke="#111" stroke-width="1.0" />
<text x="281.30" y="497.20" font-size="8.5" text-anchor="middle" fill="#111" font-weight="normal" stroke="#111" stroke-width="0.2" textLength="10.21" lengthAdjust="spacingAndGlyphs" >40</text>
<line x1="301.75" y1="482.10" x2="301.75" y2="485.60" stroke="#111" stroke-width="1.0" />
<text x="301.75" y="497.20" font-size="8.5" text-anchor="middle" fill="#111" font-weight="normal" stroke="#111" stroke-width="0.2" textLength="10.21" lengthAdjust="spacingAndGlyphs" >60</text>
<line x1="322.20" y1="482.10" x2="322.20" y2="485.60" stroke="#111" stroke-width="1.0" />
<text x="322.20" y="497.20" font-size="8.5" text-anchor="middle" fill="#111" font-weight="normal" stroke="#111" stroke-width="0.2" textLength="10.21" lengthAdjust="spacingAndGlyphs" >80</text>
<line x1="342.65" y1="482.10" x2="342.65" y2="485.60" stroke="#111" stroke-width="1.0" />
<text x="342.65" y="497.20" font-size="8.5" text-anchor="middle" fill="#111" font-weight="normal" stroke="#111" stroke-width="0.2" textLength="15.31" lengthAdjust="spacingAndGlyphs" >100</text>
<line x1="398.60" y1="407.80" x2="398.60" y2="482.70" stroke="#111" stroke-width="1.35" />
<line x1="398.00" y1="482.10" x2="504.60" y2="482.10" stroke="#111" stroke-width="1.35" />
<line x1="395.00" y1="482.10" x2="398.60" y2="482.10" stroke="#111" stroke-width="1.0" />
<text x="391.60" y="484.80" font-size="8.5" text-anchor="end" fill="#111" font-weight="normal" stroke="#111" stroke-width="0.2" textLength="5.10" lengthAdjust="spacingAndGlyphs" >0</text>
<line x1="395.00" y1="467.70" x2="398.60" y2="467.70" stroke="#111" stroke-width="1.0" />
<text x="391.60" y="470.40" font-size="8.5" text-anchor="end" fill="#111" font-weight="normal" stroke="#111" stroke-width="0.2" textLength="10.21" lengthAdjust="spacingAndGlyphs" >10</text>
<line x1="395.00" y1="453.30" x2="398.60" y2="453.30" stroke="#111" stroke-width="1.0" />
<text x="391.60" y="456.00" font-size="8.5" text-anchor="end" fill="#111" font-weight="normal" stroke="#111" stroke-width="0.2" textLength="10.21" lengthAdjust="spacingAndGlyphs" >20</text>
<line x1="395.00" y1="438.90" x2="398.60" y2="438.90" stroke="#111" stroke-width="1.0" />
<text x="391.60" y="441.60" font-size="8.5" text-anchor="end" fill="#111" font-weight="normal" stroke="#111" stroke-width="0.2" textLength="10.21" lengthAdjust="spacingAndGlyphs" >30</text>
<line x1="395.00" y1="424.50" x2="398.60" y2="424.50" stroke="#111" stroke-width="1.0" />
<text x="391.60" y="427.20" font-size="8.5" text-anchor="end" fill="#111" font-weight="normal" stroke="#111" stroke-width="0.2" textLength="10.21" lengthAdjust="spacingAndGlyphs" >40</text>
<line x1="395.00" y1="410.10" x2="398.60" y2="410.10" stroke="#111" stroke-width="1.0" />
<text x="391.60" y="412.80" font-size="8.5" text-anchor="end" fill="#111" font-weight="normal" stroke="#111" stroke-width="0.2" textLength="10.21" lengthAdjust="spacingAndGlyphs" >50</text>
<line x1="398.60" y1="482.10" x2="398.60" y2="485.60" stroke="#111" stroke-width="1.0" />
<text x="398.60" y="497.20" font-size="8.5" text-anchor="middle" fill="#111" font-weight="normal" stroke="#111" stroke-width="0.2" textLength="5.10" lengthAdjust="spacingAndGlyphs" >0</text>
<line x1="419.18" y1="482.10" x2="419.18" y2="485.60" stroke="#111" stroke-width="1.0" />
<text x="419.18" y="497.20" font-size="8.5" text-anchor="middle" fill="#111" font-weight="normal" stroke="#111" stroke-width="0.2" textLength="10.21" lengthAdjust="spacingAndGlyphs" >20</text>
<line x1="439.76" y1="482.10" x2="439.76" y2="485.60" stroke="#111" stroke-width="1.0" />
<text x="439.76" y="497.20" font-size="8.5" text-anchor="middle" fill="#111" font-weight="normal" stroke="#111" stroke-width="0.2" textLength="10.21" lengthAdjust="spacingAndGlyphs" >40</text>
<line x1="460.34" y1="482.10" x2="460.34" y2="485.60" stroke="#111" stroke-width="1.0" />
<text x="460.34" y="497.20" font-size="8.5" text-anchor="middle" fill="#111" font-weight="normal" stroke="#111" stroke-width="0.2" textLength="10.21" lengthAdjust="spacingAndGlyphs" >60</text>
<line x1="480.92" y1="482.10" x2="480.92" y2="485.60" stroke="#111" stroke-width="1.0" />
<text x="480.92" y="497.20" font-size="8.5" text-anchor="middle" fill="#111" font-weight="normal" stroke="#111" stroke-width="0.2" textLength="10.21" lengthAdjust="spacingAndGlyphs" >80</text>
<line x1="501.50" y1="482.10" x2="501.50" y2="485.60" stroke="#111" stroke-width="1.0" />
<text x="501.50" y="497.20" font-size="8.5" text-anchor="middle" fill="#111" font-weight="normal" stroke="#111" stroke-width="0.2" textLength="15.31" lengthAdjust="spacingAndGlyphs" >100</text>
<line x1="76.70" y1="546.80" x2="76.70" y2="624.90" stroke="#111" stroke-width="1.35" />
<line x1="76.10" y1="624.30" x2="181.90" y2="624.30" stroke="#111" stroke-width="1.35" />
<line x1="73.10" y1="624.30" x2="76.70" y2="624.30" stroke="#111" stroke-width="1.0" />
<text x="69.70" y="627.00" font-size="8.5" text-anchor="end" fill="#111" font-weight="normal" stroke="#111" stroke-width="0.2" textLength="5.10" lengthAdjust="spacingAndGlyphs" >0</text>
<line x1="73.10" y1="605.62" x2="76.70" y2="605.62" stroke="#111" stroke-width="1.0" />
<text x="69.70" y="608.33" font-size="8.5" text-anchor="end" fill="#111" font-weight="normal" stroke="#111" stroke-width="0.2" textLength="10.21" lengthAdjust="spacingAndGlyphs" >20</text>
<line x1="73.10" y1="586.95" x2="76.70" y2="586.95" stroke="#111" stroke-width="1.0" />
<text x="69.70" y="589.65" font-size="8.5" text-anchor="end" fill="#111" font-weight="normal" stroke="#111" stroke-width="0.2" textLength="10.21" lengthAdjust="spacingAndGlyphs" >40</text>
<line x1="73.10" y1="568.27" x2="76.70" y2="568.27" stroke="#111" stroke-width="1.0" />
<text x="69.70" y="570.98" font-size="8.5" text-anchor="end" fill="#111" font-weight="normal" stroke="#111" stroke-width="0.2" textLength="10.21" lengthAdjust="spacingAndGlyphs" >60</text>
<line x1="73.10" y1="549.60" x2="76.70" y2="549.60" stroke="#111" stroke-width="1.0" />
<text x="69.70" y="552.30" font-size="8.5" text-anchor="end" fill="#111" font-weight="normal" stroke="#111" stroke-width="0.2" textLength="10.21" lengthAdjust="spacingAndGlyphs" >80</text>
<line x1="76.70" y1="624.30" x2="76.70" y2="627.80" stroke="#111" stroke-width="1.0" />
<text x="76.70" y="638.80" font-size="8.5" text-anchor="middle" fill="#111" font-weight="normal" stroke="#111" stroke-width="0.2" textLength="5.10" lengthAdjust="spacingAndGlyphs" >0</text>
<line x1="110.80" y1="624.30" x2="110.80" y2="627.80" stroke="#111" stroke-width="1.0" />
<text x="110.80" y="638.80" font-size="8.5" text-anchor="middle" fill="#111" font-weight="normal" stroke="#111" stroke-width="0.2" textLength="10.21" lengthAdjust="spacingAndGlyphs" >20</text>
<line x1="144.90" y1="624.30" x2="144.90" y2="627.80" stroke="#111" stroke-width="1.0" />
<text x="144.90" y="638.80" font-size="8.5" text-anchor="middle" fill="#111" font-weight="normal" stroke="#111" stroke-width="0.2" textLength="10.21" lengthAdjust="spacingAndGlyphs" >40</text>
<line x1="179.00" y1="624.30" x2="179.00" y2="627.80" stroke="#111" stroke-width="1.0" />
<text x="179.00" y="638.80" font-size="8.5" text-anchor="middle" fill="#111" font-weight="normal" stroke="#111" stroke-width="0.2" textLength="10.21" lengthAdjust="spacingAndGlyphs" >60</text>
<line x1="240.40" y1="545.70" x2="240.40" y2="624.90" stroke="#111" stroke-width="1.35" />
<line x1="239.80" y1="624.30" x2="345.50" y2="624.30" stroke="#111" stroke-width="1.35" />
<line x1="236.80" y1="624.30" x2="240.40" y2="624.30" stroke="#111" stroke-width="1.0" />
<text x="233.40" y="627.00" font-size="8.5" text-anchor="end" fill="#111" font-weight="normal" stroke="#111" stroke-width="0.2" textLength="5.10" lengthAdjust="spacingAndGlyphs" >0</text>
<line x1="236.80" y1="599.20" x2="240.40" y2="599.20" stroke="#111" stroke-width="1.0" />
<text x="233.40" y="601.90" font-size="8.5" text-anchor="end" fill="#111" font-weight="normal" stroke="#111" stroke-width="0.2" textLength="10.21" lengthAdjust="spacingAndGlyphs" >10</text>
<line x1="236.80" y1="574.10" x2="240.40" y2="574.10" stroke="#111" stroke-width="1.0" />
<text x="233.40" y="576.80" font-size="8.5" text-anchor="end" fill="#111" font-weight="normal" stroke="#111" stroke-width="0.2" textLength="10.21" lengthAdjust="spacingAndGlyphs" >20</text>
<line x1="236.80" y1="549.00" x2="240.40" y2="549.00" stroke="#111" stroke-width="1.0" />
<text x="233.40" y="551.70" font-size="8.5" text-anchor="end" fill="#111" font-weight="normal" stroke="#111" stroke-width="0.2" textLength="10.21" lengthAdjust="spacingAndGlyphs" >30</text>
<line x1="240.40" y1="624.30" x2="240.40" y2="627.80" stroke="#111" stroke-width="1.0" />
<text x="240.40" y="638.80" font-size="8.5" text-anchor="middle" fill="#111" font-weight="normal" stroke="#111" stroke-width="0.2" textLength="5.10" lengthAdjust="spacingAndGlyphs" >0</text>
<line x1="274.30" y1="624.30" x2="274.30" y2="627.80" stroke="#111" stroke-width="1.0" />
<text x="274.30" y="638.80" font-size="8.5" text-anchor="middle" fill="#111" font-weight="normal" stroke="#111" stroke-width="0.2" textLength="10.21" lengthAdjust="spacingAndGlyphs" >20</text>
<line x1="308.20" y1="624.30" x2="308.20" y2="627.80" stroke="#111" stroke-width="1.0" />
<text x="308.20" y="638.80" font-size="8.5" text-anchor="middle" fill="#111" font-weight="normal" stroke="#111" stroke-width="0.2" textLength="10.21" lengthAdjust="spacingAndGlyphs" >40</text>
<line x1="342.10" y1="624.30" x2="342.10" y2="627.80" stroke="#111" stroke-width="1.0" />
<text x="342.10" y="638.80" font-size="8.5" text-anchor="middle" fill="#111" font-weight="normal" stroke="#111" stroke-width="0.2" textLength="10.21" lengthAdjust="spacingAndGlyphs" >60</text>
<line x1="398.60" y1="546.20" x2="398.60" y2="624.90" stroke="#111" stroke-width="1.35" />
<line x1="398.00" y1="624.30" x2="503.50" y2="624.30" stroke="#111" stroke-width="1.35" />
<line x1="395.00" y1="624.30" x2="398.60" y2="624.30" stroke="#111" stroke-width="1.0" />
<text x="391.60" y="627.00" font-size="8.5" text-anchor="end" fill="#111" font-weight="normal" stroke="#111" stroke-width="0.2" textLength="5.10" lengthAdjust="spacingAndGlyphs" >0</text>
<line x1="395.00" y1="605.60" x2="398.60" y2="605.60" stroke="#111" stroke-width="1.0" />
<text x="391.60" y="608.30" font-size="8.5" text-anchor="end" fill="#111" font-weight="normal" stroke="#111" stroke-width="0.2" textLength="5.10" lengthAdjust="spacingAndGlyphs" >5</text>
<line x1="395.00" y1="586.90" x2="398.60" y2="586.90" stroke="#111" stroke-width="1.0" />
<text x="391.60" y="589.60" font-size="8.5" text-anchor="end" fill="#111" font-weight="normal" stroke="#111" stroke-width="0.2" textLength="10.21" lengthAdjust="spacingAndGlyphs" >10</text>
<line x1="395.00" y1="568.20" x2="398.60" y2="568.20" stroke="#111" stroke-width="1.0" />
<text x="391.60" y="570.90" font-size="8.5" text-anchor="end" fill="#111" font-weight="normal" stroke="#111" stroke-width="0.2" textLength="10.21" lengthAdjust="spacingAndGlyphs" >15</text>
<line x1="395.00" y1="549.50" x2="398.60" y2="549.50" stroke="#111" stroke-width="1.0" />
<text x="391.60" y="552.20" font-size="8.5" text-anchor="end" fill="#111" font-weight="normal" stroke="#111" stroke-width="0.2" textLength="10.21" lengthAdjust="spacingAndGlyphs" >20</text>
<line x1="398.60" y1="624.30" x2="398.60" y2="627.80" stroke="#111" stroke-width="1.0" />
<text x="398.60" y="638.80" font-size="8.5" text-anchor="middle" fill="#111" font-weight="normal" stroke="#111" stroke-width="0.2" textLength="5.10" lengthAdjust="spacingAndGlyphs" >0</text>
<line x1="432.60" y1="624.30" x2="432.60" y2="627.80" stroke="#111" stroke-width="1.0" />
<text x="432.60" y="638.80" font-size="8.5" text-anchor="middle" fill="#111" font-weight="normal" stroke="#111" stroke-width="0.2" textLength="10.21" lengthAdjust="spacingAndGlyphs" >20</text>
<line x1="466.60" y1="624.30" x2="466.60" y2="627.80" stroke="#111" stroke-width="1.0" />
<text x="466.60" y="638.80" font-size="8.5" text-anchor="middle" fill="#111" font-weight="normal" stroke="#111" stroke-width="0.2" textLength="10.21" lengthAdjust="spacingAndGlyphs" >40</text>
<line x1="500.60" y1="624.30" x2="500.60" y2="627.80" stroke="#111" stroke-width="1.0" />
<text x="500.60" y="638.80" font-size="8.5" text-anchor="middle" fill="#111" font-weight="normal" stroke="#111" stroke-width="0.2" textLength="10.21" lengthAdjust="spacingAndGlyphs" >60</text>
<line x1="76.70" y1="655.60" x2="76.70" y2="732.10" stroke="#111" stroke-width="1.35" />
<line x1="76.10" y1="731.50" x2="181.90" y2="731.50" stroke="#111" stroke-width="1.35" />
<line x1="73.10" y1="731.50" x2="76.70" y2="731.50" stroke="#111" stroke-width="1.0" />
<text x="69.70" y="734.20" font-size="8.5" text-anchor="end" fill="#111" font-weight="normal" stroke="#111" stroke-width="0.2" textLength="5.10" lengthAdjust="spacingAndGlyphs" >0</text>
<line x1="73.10" y1="717.00" x2="76.70" y2="717.00" stroke="#111" stroke-width="1.0" />
<text x="69.70" y="719.70" font-size="8.5" text-anchor="end" fill="#111" font-weight="normal" stroke="#111" stroke-width="0.2" textLength="10.21" lengthAdjust="spacingAndGlyphs" >20</text>
<line x1="73.10" y1="702.50" x2="76.70" y2="702.50" stroke="#111" stroke-width="1.0" />
<text x="69.70" y="705.20" font-size="8.5" text-anchor="end" fill="#111" font-weight="normal" stroke="#111" stroke-width="0.2" textLength="10.21" lengthAdjust="spacingAndGlyphs" >40</text>
<line x1="73.10" y1="688.00" x2="76.70" y2="688.00" stroke="#111" stroke-width="1.0" />
<text x="69.70" y="690.70" font-size="8.5" text-anchor="end" fill="#111" font-weight="normal" stroke="#111" stroke-width="0.2" textLength="10.21" lengthAdjust="spacingAndGlyphs" >60</text>
<line x1="73.10" y1="673.50" x2="76.70" y2="673.50" stroke="#111" stroke-width="1.0" />
<text x="69.70" y="676.20" font-size="8.5" text-anchor="end" fill="#111" font-weight="normal" stroke="#111" stroke-width="0.2" textLength="10.21" lengthAdjust="spacingAndGlyphs" >80</text>
<line x1="73.10" y1="659.00" x2="76.70" y2="659.00" stroke="#111" stroke-width="1.0" />
<text x="69.70" y="661.70" font-size="8.5" text-anchor="end" fill="#111" font-weight="normal" stroke="#111" stroke-width="0.2" textLength="15.31" lengthAdjust="spacingAndGlyphs" >100</text>
<line x1="76.70" y1="731.50" x2="76.70" y2="735.00" stroke="#111" stroke-width="1.0" />
<text x="76.70" y="745.80" font-size="8.5" text-anchor="middle" fill="#111" font-weight="normal" stroke="#111" stroke-width="0.2" textLength="5.10" lengthAdjust="spacingAndGlyphs" >0</text>
<line x1="97.30" y1="731.50" x2="97.30" y2="735.00" stroke="#111" stroke-width="1.0" />
<text x="97.30" y="745.80" font-size="8.5" text-anchor="middle" fill="#111" font-weight="normal" stroke="#111" stroke-width="0.2" textLength="10.21" lengthAdjust="spacingAndGlyphs" >20</text>
<line x1="117.90" y1="731.50" x2="117.90" y2="735.00" stroke="#111" stroke-width="1.0" />
<text x="117.90" y="745.80" font-size="8.5" text-anchor="middle" fill="#111" font-weight="normal" stroke="#111" stroke-width="0.2" textLength="10.21" lengthAdjust="spacingAndGlyphs" >40</text>
<line x1="138.50" y1="731.50" x2="138.50" y2="735.00" stroke="#111" stroke-width="1.0" />
<text x="138.50" y="745.80" font-size="8.5" text-anchor="middle" fill="#111" font-weight="normal" stroke="#111" stroke-width="0.2" textLength="10.21" lengthAdjust="spacingAndGlyphs" >60</text>
<line x1="159.10" y1="731.50" x2="159.10" y2="735.00" stroke="#111" stroke-width="1.0" />
<text x="159.10" y="745.80" font-size="8.5" text-anchor="middle" fill="#111" font-weight="normal" stroke="#111" stroke-width="0.2" textLength="10.21" lengthAdjust="spacingAndGlyphs" >80</text>
<line x1="179.70" y1="731.50" x2="179.70" y2="735.00" stroke="#111" stroke-width="1.0" />
<text x="179.70" y="745.80" font-size="8.5" text-anchor="middle" fill="#111" font-weight="normal" stroke="#111" stroke-width="0.2" textLength="15.31" lengthAdjust="spacingAndGlyphs" >100</text>
<line x1="240.40" y1="655.70" x2="240.40" y2="732.20" stroke="#111" stroke-width="1.35" />
<line x1="239.80" y1="731.60" x2="345.50" y2="731.60" stroke="#111" stroke-width="1.35" />
<line x1="236.80" y1="731.60" x2="240.40" y2="731.60" stroke="#111" stroke-width="1.0" />
<text x="233.40" y="734.30" font-size="8.5" text-anchor="end" fill="#111" font-weight="normal" stroke="#111" stroke-width="0.2" textLength="5.10" lengthAdjust="spacingAndGlyphs" >0</text>
<line x1="236.80" y1="717.20" x2="240.40" y2="717.20" stroke="#111" stroke-width="1.0" />
<text x="233.40" y="719.90" font-size="8.5" text-anchor="end" fill="#111" font-weight="normal" stroke="#111" stroke-width="0.2" textLength="10.21" lengthAdjust="spacingAndGlyphs" >20</text>
<line x1="236.80" y1="702.80" x2="240.40" y2="702.80" stroke="#111" stroke-width="1.0" />
<text x="233.40" y="705.50" font-size="8.5" text-anchor="end" fill="#111" font-weight="normal" stroke="#111" stroke-width="0.2" textLength="10.21" lengthAdjust="spacingAndGlyphs" >40</text>
<line x1="236.80" y1="688.40" x2="240.40" y2="688.40" stroke="#111" stroke-width="1.0" />
<text x="233.40" y="691.10" font-size="8.5" text-anchor="end" fill="#111" font-weight="normal" stroke="#111" stroke-width="0.2" textLength="10.21" lengthAdjust="spacingAndGlyphs" >60</text>
<line x1="236.80" y1="674.00" x2="240.40" y2="674.00" stroke="#111" stroke-width="1.0" />
<text x="233.40" y="676.70" font-size="8.5" text-anchor="end" fill="#111" font-weight="normal" stroke="#111" stroke-width="0.2" textLength="10.21" lengthAdjust="spacingAndGlyphs" >80</text>
<line x1="236.80" y1="659.60" x2="240.40" y2="659.60" stroke="#111" stroke-width="1.0" />
<text x="233.40" y="662.30" font-size="8.5" text-anchor="end" fill="#111" font-weight="normal" stroke="#111" stroke-width="0.2" textLength="15.31" lengthAdjust="spacingAndGlyphs" >100</text>
<line x1="240.40" y1="731.60" x2="240.40" y2="735.10" stroke="#111" stroke-width="1.0" />
<text x="240.40" y="745.80" font-size="8.5" text-anchor="middle" fill="#111" font-weight="normal" stroke="#111" stroke-width="0.2" textLength="5.10" lengthAdjust="spacingAndGlyphs" >0</text>
<line x1="260.82" y1="731.60" x2="260.82" y2="735.10" stroke="#111" stroke-width="1.0" />
<text x="260.82" y="745.80" font-size="8.5" text-anchor="middle" fill="#111" font-weight="normal" stroke="#111" stroke-width="0.2" textLength="10.21" lengthAdjust="spacingAndGlyphs" >20</text>
<line x1="281.24" y1="731.60" x2="281.24" y2="735.10" stroke="#111" stroke-width="1.0" />
<text x="281.24" y="745.80" font-size="8.5" text-anchor="middle" fill="#111" font-weight="normal" stroke="#111" stroke-width="0.2" textLength="10.21" lengthAdjust="spacingAndGlyphs" >40</text>
<line x1="301.66" y1="731.60" x2="301.66" y2="735.10" stroke="#111" stroke-width="1.0" />
<text x="301.66" y="745.80" font-size="8.5" text-anchor="middle" fill="#111" font-weight="normal" stroke="#111" stroke-width="0.2" textLength="10.21" lengthAdjust="spacingAndGlyphs" >60</text>
<line x1="322.08" y1="731.60" x2="322.08" y2="735.10" stroke="#111" stroke-width="1.0" />
<text x="322.08" y="745.80" font-size="8.5" text-anchor="middle" fill="#111" font-weight="normal" stroke="#111" stroke-width="0.2" textLength="10.21" lengthAdjust="spacingAndGlyphs" >80</text>
<line x1="342.50" y1="731.60" x2="342.50" y2="735.10" stroke="#111" stroke-width="1.0" />
<text x="342.50" y="745.80" font-size="8.5" text-anchor="middle" fill="#111" font-weight="normal" stroke="#111" stroke-width="0.2" textLength="15.31" lengthAdjust="spacingAndGlyphs" >100</text>
<line x1="398.60" y1="656.20" x2="398.60" y2="732.00" stroke="#111" stroke-width="1.35" />
<line x1="398.00" y1="731.40" x2="506.70" y2="731.40" stroke="#111" stroke-width="1.35" />
<line x1="395.00" y1="731.40" x2="398.60" y2="731.40" stroke="#111" stroke-width="1.0" />
<text x="391.60" y="734.10" font-size="8.5" text-anchor="end" fill="#111" font-weight="normal" stroke="#111" stroke-width="0.2" textLength="5.10" lengthAdjust="spacingAndGlyphs" >0</text>
<line x1="395.00" y1="717.02" x2="398.60" y2="717.02" stroke="#111" stroke-width="1.0" />
<text x="391.60" y="719.72" font-size="8.5" text-anchor="end" fill="#111" font-weight="normal" stroke="#111" stroke-width="0.2" textLength="10.21" lengthAdjust="spacingAndGlyphs" >10</text>
<line x1="395.00" y1="702.64" x2="398.60" y2="702.64" stroke="#111" stroke-width="1.0" />
<text x="391.60" y="705.34" font-size="8.5" text-anchor="end" fill="#111" font-weight="normal" stroke="#111" stroke-width="0.2" textLength="10.21" lengthAdjust="spacingAndGlyphs" >20</text>
<line x1="395.00" y1="688.26" x2="398.60" y2="688.26" stroke="#111" stroke-width="1.0" />
<text x="391.60" y="690.96" font-size="8.5" text-anchor="end" fill="#111" font-weight="normal" stroke="#111" stroke-width="0.2" textLength="10.21" lengthAdjust="spacingAndGlyphs" >30</text>
<line x1="395.00" y1="673.88" x2="398.60" y2="673.88" stroke="#111" stroke-width="1.0" />
<text x="391.60" y="676.58" font-size="8.5" text-anchor="end" fill="#111" font-weight="normal" stroke="#111" stroke-width="0.2" textLength="10.21" lengthAdjust="spacingAndGlyphs" >40</text>
<line x1="395.00" y1="659.50" x2="398.60" y2="659.50" stroke="#111" stroke-width="1.0" />
<text x="391.60" y="662.20" font-size="8.5" text-anchor="end" fill="#111" font-weight="normal" stroke="#111" stroke-width="0.2" textLength="10.21" lengthAdjust="spacingAndGlyphs" >50</text>
<line x1="398.60" y1="731.40" x2="398.60" y2="734.90" stroke="#111" stroke-width="1.0" />
<text x="398.60" y="745.80" font-size="8.5" text-anchor="middle" fill="#111" font-weight="normal" stroke="#111" stroke-width="0.2" textLength="5.10" lengthAdjust="spacingAndGlyphs" >0</text>
<line x1="419.58" y1="731.40" x2="419.58" y2="734.90" stroke="#111" stroke-width="1.0" />
<text x="419.58" y="745.80" font-size="8.5" text-anchor="middle" fill="#111" font-weight="normal" stroke="#111" stroke-width="0.2" textLength="10.21" lengthAdjust="spacingAndGlyphs" >20</text>
<line x1="440.56" y1="731.40" x2="440.56" y2="734.90" stroke="#111" stroke-width="1.0" />
<text x="440.56" y="745.80" font-size="8.5" text-anchor="middle" fill="#111" font-weight="normal" stroke="#111" stroke-width="0.2" textLength="10.21" lengthAdjust="spacingAndGlyphs" >40</text>
<line x1="461.54" y1="731.40" x2="461.54" y2="734.90" stroke="#111" stroke-width="1.0" />
<text x="461.54" y="745.80" font-size="8.5" text-anchor="middle" fill="#111" font-weight="normal" stroke="#111" stroke-width="0.2" textLength="10.21" lengthAdjust="spacingAndGlyphs" >60</text>
<line x1="482.52" y1="731.40" x2="482.52" y2="734.90" stroke="#111" stroke-width="1.0" />
<text x="482.52" y="745.80" font-size="8.5" text-anchor="middle" fill="#111" font-weight="normal" stroke="#111" stroke-width="0.2" textLength="10.21" lengthAdjust="spacingAndGlyphs" >80</text>
<line x1="503.50" y1="731.40" x2="503.50" y2="734.90" stroke="#111" stroke-width="1.0" />
<text x="503.50" y="745.80" font-size="8.5" text-anchor="middle" fill="#111" font-weight="normal" stroke="#111" stroke-width="0.2" textLength="15.31" lengthAdjust="spacingAndGlyphs" >100</text>
<text x="12.80" y="338.50" font-size="9.9" text-anchor="start" fill="#111" font-weight="normal" stroke="#111" stroke-width="0.2" textLength="23.5" lengthAdjust="spacingAndGlyphs" >Day 0</text>
<text x="12.80" y="447.20" font-size="9.9" text-anchor="start" fill="#111" font-weight="normal" stroke="#111" stroke-width="0.2" textLength="23.2" lengthAdjust="spacingAndGlyphs" >Day 7</text>
<text x="7.60" y="587.80" font-size="9.9" text-anchor="start" fill="#111" font-weight="normal" stroke="#111" stroke-width="0.2" textLength="23.3" lengthAdjust="spacingAndGlyphs" >Day 0</text>
<text x="7.60" y="696.50" font-size="9.9" text-anchor="start" fill="#111" font-weight="normal" stroke="#111" stroke-width="0.2" textLength="23.3" lengthAdjust="spacingAndGlyphs" >Day 7</text>
<text transform="translate(53.00,374.30) rotate(-90)" x="0" y="0" font-size="10.4" fill="#111" font-weight="normal" stroke="#111" stroke-width="0.3" textLength="74.00" lengthAdjust="spacingAndGlyphs">% Tim-3<tspan dy="-3.4" font-size="6.8">+</tspan><tspan dy="3.4"> CD4 T cells</tspan></text>
<text transform="translate(216.00,378.20) rotate(-90)" x="0" y="0" font-size="10.4" fill="#111" font-weight="normal" stroke="#111" stroke-width="0.3" textLength="82.80" lengthAdjust="spacingAndGlyphs">% HLA-DR<tspan dy="-3.4" font-size="6.8">hi</tspan><tspan dy="3.4"> CD4 T cells</tspan></text>
<text transform="translate(374.60,375.50) rotate(-90)" x="0" y="0" font-size="10.4" fill="#111" font-weight="normal" stroke="#111" stroke-width="0.3" textLength="77.10" lengthAdjust="spacingAndGlyphs">% CD137<tspan dy="-3.4" font-size="6.8">+</tspan><tspan dy="3.4"> CD4 T cells</tspan></text>
<text transform="translate(53.00,482.40) rotate(-90)" x="0" y="0" font-size="10.4" fill="#111" font-weight="normal" stroke="#111" stroke-width="0.3" textLength="73.70" lengthAdjust="spacingAndGlyphs">% Tim-3<tspan dy="-3.4" font-size="6.8">+</tspan><tspan dy="3.4"> CD4 T cells</tspan></text>
<text transform="translate(216.00,486.70) rotate(-90)" x="0" y="0" font-size="10.4" fill="#111" font-weight="normal" stroke="#111" stroke-width="0.3" textLength="82.00" lengthAdjust="spacingAndGlyphs">% HLA-DR<tspan dy="-3.4" font-size="6.8">hi</tspan><tspan dy="3.4"> CD4 T cells</tspan></text>
<text transform="translate(374.60,484.30) rotate(-90)" x="0" y="0" font-size="10.4" fill="#111" font-weight="normal" stroke="#111" stroke-width="0.3" textLength="77.10" lengthAdjust="spacingAndGlyphs">% CD137<tspan dy="-3.4" font-size="6.8">+</tspan><tspan dy="3.4"> CD4 T cells</tspan></text>
<text transform="translate(53.00,622.80) rotate(-90)" x="0" y="0" font-size="10.4" fill="#111" font-weight="normal" stroke="#111" stroke-width="0.3" textLength="74.10" lengthAdjust="spacingAndGlyphs">% Tim-3<tspan dy="-3.4" font-size="6.8">+</tspan><tspan dy="3.4"> CD8 T cells</tspan></text>
<text transform="translate(216.00,627.30) rotate(-90)" x="0" y="0" font-size="10.4" fill="#111" font-weight="normal" stroke="#111" stroke-width="0.3" textLength="81.90" lengthAdjust="spacingAndGlyphs">% HLA-DR<tspan dy="-3.4" font-size="6.8">hi</tspan><tspan dy="3.4"> CD8 T cells</tspan></text>
<text transform="translate(374.60,625.50) rotate(-90)" x="0" y="0" font-size="10.4" fill="#111" font-weight="normal" stroke="#111" stroke-width="0.3" textLength="77.70" lengthAdjust="spacingAndGlyphs">% CD137<tspan dy="-3.4" font-size="6.8">+</tspan><tspan dy="3.4"> CD8 T cells</tspan></text>
<text transform="translate(47.80,732.40) rotate(-90)" x="0" y="0" font-size="10.4" fill="#111" font-weight="normal" stroke="#111" stroke-width="0.3" textLength="74.60" lengthAdjust="spacingAndGlyphs">% Tim-3<tspan dy="-3.4" font-size="6.8">+</tspan><tspan dy="3.4"> CD8 T cells</tspan></text>
<text transform="translate(211.60,735.40) rotate(-90)" x="0" y="0" font-size="10.4" fill="#111" font-weight="normal" stroke="#111" stroke-width="0.3" textLength="81.30" lengthAdjust="spacingAndGlyphs">% HLA-DR<tspan dy="-3.4" font-size="6.8">hi</tspan><tspan dy="3.4"> CD8 T cells</tspan></text>
<text transform="translate(374.60,733.00) rotate(-90)" x="0" y="0" font-size="10.4" fill="#111" font-weight="normal" stroke="#111" stroke-width="0.3" textLength="76.50" lengthAdjust="spacingAndGlyphs">% CD137<tspan dy="-3.4" font-size="6.8">+</tspan><tspan dy="3.4"> CD8 T cells</tspan></text>
<text x="92.90" y="511.30" font-size="10.6" fill="#111" stroke="#111" stroke-width="0.3" textLength="70.70" lengthAdjust="spacingAndGlyphs">% PD-1<tspan dy="-2.9" font-size="6.6">+</tspan><tspan dy="2.9"> CD4 T cells</tspan></text>
<text x="256.80" y="511.00" font-size="10.6" fill="#111" stroke="#111" stroke-width="0.3" textLength="71.00" lengthAdjust="spacingAndGlyphs">% PD-1<tspan dy="-2.9" font-size="6.6">+</tspan><tspan dy="2.9"> CD4 T cells</tspan></text>
<text x="415.70" y="509.60" font-size="10.6" fill="#111" stroke="#111" stroke-width="0.3" textLength="70.00" lengthAdjust="spacingAndGlyphs">% PD-1<tspan dy="-2.9" font-size="6.6">+</tspan><tspan dy="2.9"> CD4 T cells</tspan></text>
<text x="92.80" y="761.00" font-size="10.6" fill="#111" stroke="#111" stroke-width="0.3" textLength="70.60" lengthAdjust="spacingAndGlyphs">% PD-1<tspan dy="-2.9" font-size="6.6">+</tspan><tspan dy="2.9"> CD8 T cells</tspan></text>
<text x="256.80" y="760.30" font-size="10.6" fill="#111" stroke="#111" stroke-width="0.3" textLength="71.00" lengthAdjust="spacingAndGlyphs">% PD-1<tspan dy="-2.9" font-size="6.6">+</tspan><tspan dy="2.9"> CD8 T cells</tspan></text>
<text x="415.70" y="760.50" font-size="10.6" fill="#111" stroke="#111" stroke-width="0.3" textLength="71.30" lengthAdjust="spacingAndGlyphs">% PD-1<tspan dy="-2.9" font-size="6.6">+</tspan><tspan dy="2.9"> CD8 T cells</tspan></text>
<text x="154.60" y="304.80" font-size="8.7" fill="#111" stroke="#111" stroke-width="0.2">R<tspan dy="-4.1" font-size="6.2">2</tspan><tspan dy="4.1">=0</tspan></text>
<text x="154.60" y="314.90" font-size="8.7" text-anchor="start" fill="#111" font-weight="normal" stroke="#111" stroke-width="0.2" >p=0.7</text>
<text x="242.80" y="304.80" font-size="8.7" fill="#111" stroke="#111" stroke-width="0.2">R<tspan dy="-4.1" font-size="6.2">2</tspan><tspan dy="4.1">=0.13</tspan></text>
<text x="242.80" y="314.80" font-size="8.7" text-anchor="start" fill="#111" font-weight="normal" stroke="#111" stroke-width="0.2" >p=0.03</text>
<text x="465.90" y="304.80" font-size="8.7" fill="#111" stroke="#111" stroke-width="0.2">R<tspan dy="-4.1" font-size="6.2">2</tspan><tspan dy="4.1">=0.09</tspan></text>
<text x="465.90" y="314.70" font-size="8.7" text-anchor="start" fill="#111" font-weight="normal" stroke="#111" stroke-width="0.2" >p=0.1</text>
<text x="145.90" y="466.50" font-size="8.7" fill="#111" stroke="#111" stroke-width="0.2">R<tspan dy="-4.1" font-size="6.2">2</tspan><tspan dy="4.1">=0.25</tspan></text>
<text x="145.90" y="476.30" font-size="8.7" text-anchor="start" fill="#111" font-weight="normal" stroke="#111" stroke-width="0.2" >p=0.003</text>
<text x="243.20" y="416.90" font-size="8.7" fill="#111" stroke="#111" stroke-width="0.2">R<tspan dy="-4.1" font-size="6.2">2</tspan><tspan dy="4.1">=0.55</tspan></text>
<text x="243.20" y="426.60" font-size="8.7" text-anchor="start" fill="#111" font-weight="normal" stroke="#111" stroke-width="0.2" >p&lt;0.001</text>
<text x="403.40" y="440.50" font-size="8.7" fill="#111" stroke="#111" stroke-width="0.2">R<tspan dy="-4.1" font-size="6.2">2</tspan><tspan dy="4.1">=0.18</tspan></text>
<text x="403.40" y="450.80" font-size="8.7" text-anchor="start" fill="#111" font-weight="normal" stroke="#111" stroke-width="0.2" >P=0.02</text>
<text x="147.70" y="554.50" font-size="8.7" fill="#111" stroke="#111" stroke-width="0.2">R<tspan dy="-4.1" font-size="6.2">2</tspan><tspan dy="4.1">=0.03</tspan></text>
<text x="147.70" y="564.20" font-size="8.7" text-anchor="start" fill="#111" font-weight="normal" stroke="#111" stroke-width="0.2" >p=0.35</text>
<text x="309.70" y="554.30" font-size="8.7" fill="#111" stroke="#111" stroke-width="0.2">R<tspan dy="-4.1" font-size="6.2">2</tspan><tspan dy="4.1">=0.08</tspan></text>
<text x="309.70" y="564.20" font-size="8.7" text-anchor="start" fill="#111" font-weight="normal" stroke="#111" stroke-width="0.2" >p=0.1</text>
<text x="468.80" y="608.00" font-size="8.7" fill="#111" stroke="#111" stroke-width="0.2">R<tspan dy="-4.1" font-size="6.2">2</tspan><tspan dy="4.1">=0.57</tspan></text>
<text x="468.80" y="618.30" font-size="8.7" text-anchor="start" fill="#111" font-weight="normal" stroke="#111" stroke-width="0.2" >p&lt;0.001</text>
<text x="146.50" y="715.20" font-size="8.7" fill="#111" stroke="#111" stroke-width="0.2">R<tspan dy="-4.1" font-size="6.2">2</tspan><tspan dy="4.1">=0.38</tspan></text>
<text x="146.50" y="725.40" font-size="8.7" text-anchor="start" fill="#111" font-weight="normal" stroke="#111" stroke-width="0.2" >p&lt;0.001</text>
<text x="310.70" y="717.60" font-size="8.7" fill="#111" stroke="#111" stroke-width="0.2">R<tspan dy="-4.1" font-size="6.2">2</tspan><tspan dy="4.1">=0.56</tspan></text>
<text x="310.70" y="727.60" font-size="8.7" text-anchor="start" fill="#111" font-weight="normal" stroke="#111" stroke-width="0.2" >p&lt;0.001</text>
<text x="470.70" y="716.00" font-size="8.7" fill="#111" stroke="#111" stroke-width="0.2">R<tspan dy="-4.1" font-size="6.2">2</tspan><tspan dy="4.1">=0.85</tspan></text>
<text x="470.70" y="726.20" font-size="8.7" text-anchor="start" fill="#111" font-weight="normal" stroke="#111" stroke-width="0.2" >p&lt;0.001</text>
<line x1="86.70" y1="361.60" x2="159.40" y2="359.60" stroke="#111" stroke-width="1.3" />
<line x1="250.70" y1="366.20" x2="323.90" y2="347.20" stroke="#111" stroke-width="1.3" />
<line x1="408.70" y1="368.70" x2="481.90" y2="354.20" stroke="#111" stroke-width="1.3" />
<line x1="86.70" y1="462.60" x2="155.10" y2="436.10" stroke="#111" stroke-width="1.3" />
<line x1="251.20" y1="479.70" x2="318.70" y2="438.70" stroke="#111" stroke-width="1.3" />
<line x1="409.20" y1="478.50" x2="477.10" y2="458.10" stroke="#111" stroke-width="1.3" />
<line x1="79.10" y1="608.00" x2="162.90" y2="599.80" stroke="#111" stroke-width="1.3" />
<line x1="243.10" y1="614.50" x2="326.90" y2="592.00" stroke="#111" stroke-width="1.3" />
<line x1="400.60" y1="618.90" x2="486.20" y2="569.90" stroke="#111" stroke-width="1.3" />
<line x1="78.60" y1="715.90" x2="163.90" y2="680.10" stroke="#111" stroke-width="1.3" />
<line x1="240.20" y1="729.70" x2="326.90" y2="688.40" stroke="#111" stroke-width="1.3" />
<line x1="399.40" y1="729.70" x2="479.00" y2="680.60" stroke="#111" stroke-width="1.3" />
<rect x="103.17" y="56.21" width="2.0" height="2.0" fill="#a20a26"/>
<rect x="103.17" y="61.33" width="2.0" height="2.0" fill="#a20a26"/>
<rect x="103.17" y="66.74" width="2.0" height="2.0" fill="#a20a26"/>
<rect x="101.60" y="69.16" width="2.0" height="2.0" fill="#a20a26"/>
<rect x="104.59" y="70.58" width="2.0" height="2.0" fill="#a20a26"/>
<rect x="104.59" y="72.57" width="2.0" height="2.0" fill="#a20a26"/>
<rect x="101.74" y="74.56" width="2.0" height="2.0" fill="#a20a26"/>
<circle cx="85.67" cy="106.34" r="1.15" fill="#a20a26"/>
<circle cx="87.38" cy="111.60" r="1.15" fill="#a20a26"/>
<circle cx="84.82" cy="114.87" r="1.15" fill="#a20a26"/>
<circle cx="86.24" cy="116.58" r="1.15" fill="#a20a26"/>
<circle cx="81.69" cy="119.14" r="1.15" fill="#a20a26"/>
<circle cx="85.25" cy="119.14" r="1.15" fill="#a20a26"/>
<circle cx="88.09" cy="117.43" r="1.15" fill="#a20a26"/>
<circle cx="90.22" cy="118.85" r="1.15" fill="#a20a26"/>
<circle cx="83.82" cy="121.27" r="1.15" fill="#a20a26"/>
<circle cx="85.96" cy="122.27" r="1.15" fill="#a20a26"/>
<circle cx="88.09" cy="122.27" r="1.15" fill="#a20a26"/>
<circle cx="82.40" cy="124.12" r="1.15" fill="#a20a26"/>
<circle cx="84.53" cy="124.83" r="1.15" fill="#a20a26"/>
<circle cx="86.67" cy="124.83" r="1.15" fill="#a20a26"/>
<circle cx="88.80" cy="124.83" r="1.15" fill="#a20a26"/>
<circle cx="81.69" cy="125.97" r="1.15" fill="#a20a26"/>
<circle cx="83.82" cy="125.97" r="1.15" fill="#a20a26"/>
<circle cx="85.25" cy="125.97" r="1.15" fill="#a20a26"/>
<circle cx="87.38" cy="125.97" r="1.15" fill="#a20a26"/>
<circle cx="89.51" cy="125.97" r="1.15" fill="#a20a26"/>
<circle cx="90.22" cy="124.12" r="1.15" fill="#a20a26"/>
<circle cx="83.11" cy="123.12" r="1.15" fill="#a20a26"/>
<rect x="101.74" y="85.99" width="2.0" height="2.0" fill="#a20a26"/>
<rect x="104.59" y="88.55" width="2.0" height="2.0" fill="#a20a26"/>
<rect x="103.17" y="93.10" width="2.0" height="2.0" fill="#a20a26"/>
<rect x="101.74" y="96.52" width="2.0" height="2.0" fill="#a20a26"/>
<rect x="104.59" y="97.51" width="2.0" height="2.0" fill="#a20a26"/>
<rect x="98.47" y="105.05" width="2.0" height="2.0" fill="#a20a26"/>
<rect x="100.89" y="105.62" width="2.0" height="2.0" fill="#a20a26"/>
<rect x="103.45" y="106.05" width="2.0" height="2.0" fill="#a20a26"/>
<rect x="105.58" y="106.05" width="2.0" height="2.0" fill="#a20a26"/>
<rect x="107.72" y="105.05" width="2.0" height="2.0" fill="#a20a26"/>
<rect x="102.74" y="109.89" width="2.0" height="2.0" fill="#a20a26"/>
<rect x="101.74" y="111.74" width="2.0" height="2.0" fill="#a20a26"/>
<rect x="104.87" y="113.16" width="2.0" height="2.0" fill="#a20a26"/>
<rect x="104.87" y="114.58" width="2.0" height="2.0" fill="#a20a26"/>
<rect x="102.03" y="116.43" width="2.0" height="2.0" fill="#a20a26"/>
<rect x="104.87" y="116.72" width="2.0" height="2.0" fill="#a20a26"/>
<rect x="100.32" y="118.85" width="2.0" height="2.0" fill="#a20a26"/>
<rect x="101.74" y="119.56" width="2.0" height="2.0" fill="#a20a26"/>
<rect x="104.16" y="118.85" width="2.0" height="2.0" fill="#a20a26"/>
<rect x="106.01" y="118.85" width="2.0" height="2.0" fill="#a20a26"/>
<rect x="99.89" y="122.12" width="2.0" height="2.0" fill="#a20a26"/>
<rect x="102.03" y="121.70" width="2.0" height="2.0" fill="#a20a26"/>
<rect x="104.16" y="121.27" width="2.0" height="2.0" fill="#a20a26"/>
<rect x="105.58" y="122.41" width="2.0" height="2.0" fill="#a20a26"/>
<rect x="101.32" y="123.54" width="2.0" height="2.0" fill="#a20a26"/>
<path d="M121.23,112.86L122.43,115.06L120.03,115.06Z" fill="#a20a26"/>
<path d="M124.08,115.28L125.28,117.48L122.88,117.48Z" fill="#a20a26"/>
<path d="M118.67,118.12L119.87,120.32L117.47,120.32Z" fill="#a20a26"/>
<path d="M121.52,118.12L122.72,120.32L120.32,120.32Z" fill="#a20a26"/>
<path d="M126.50,118.12L127.70,120.32L125.30,120.32Z" fill="#a20a26"/>
<path d="M117.25,120.40L118.45,122.60L116.05,122.60Z" fill="#a20a26"/>
<path d="M120.10,120.40L121.30,122.60L118.90,122.60Z" fill="#a20a26"/>
<path d="M122.94,120.40L124.14,122.60L121.74,122.60Z" fill="#a20a26"/>
<path d="M125.08,120.40L126.28,122.60L123.88,122.60Z" fill="#a20a26"/>
<path d="M117.96,122.82L119.16,125.02L116.76,125.02Z" fill="#a20a26"/>
<path d="M120.81,122.82L122.01,125.02L119.61,125.02Z" fill="#a20a26"/>
<path d="M123.65,122.82L124.85,125.02L122.45,125.02Z" fill="#a20a26"/>
<path d="M126.50,121.82L127.70,124.02L125.30,124.02Z" fill="#a20a26"/>
<path d="M119.39,124.24L120.59,126.44L118.19,126.44Z" fill="#a20a26"/>
<path d="M122.23,124.24L123.43,126.44L121.03,126.44Z" fill="#a20a26"/>
<path d="M125.08,124.24L126.28,126.44L123.88,126.44Z" fill="#a20a26"/>
<path d="M141.15,112.76L142.35,110.56L139.95,110.56Z" fill="#a20a26"/>
<path d="M137.17,119.73L138.37,117.53L135.97,117.53Z" fill="#a20a26"/>
<path d="M140.72,119.73L141.92,117.53L139.52,117.53Z" fill="#a20a26"/>
<path d="M145.27,119.30L146.47,117.10L144.07,117.10Z" fill="#a20a26"/>
<path d="M138.59,121.86L139.79,119.66L137.39,119.66Z" fill="#a20a26"/>
<path d="M141.72,121.86L142.92,119.66L140.52,119.66Z" fill="#a20a26"/>
<path d="M144.28,121.58L145.48,119.38L143.08,119.38Z" fill="#a20a26"/>
<path d="M135.74,124.00L136.94,121.80L134.54,121.80Z" fill="#a20a26"/>
<path d="M138.59,124.42L139.79,122.22L137.39,122.22Z" fill="#a20a26"/>
<path d="M141.43,124.42L142.63,122.22L140.23,122.22Z" fill="#a20a26"/>
<path d="M144.28,124.42L145.48,122.22L143.08,122.22Z" fill="#a20a26"/>
<path d="M137.17,126.13L138.37,123.93L135.97,123.93Z" fill="#a20a26"/>
<path d="M140.01,126.13L141.21,123.93L138.81,123.93Z" fill="#a20a26"/>
<path d="M142.86,126.13L144.06,123.93L141.66,123.93Z" fill="#a20a26"/>
<path d="M145.70,126.13L146.90,123.93L144.50,123.93Z" fill="#a20a26"/>
<rect x="224.14" y="51.37" width="2.0" height="2.0" fill="#a20a26"/>
<rect x="225.58" y="71.28" width="2.0" height="2.0" fill="#a20a26"/>
<rect x="222.70" y="74.17" width="2.0" height="2.0" fill="#a20a26"/>
<circle cx="206.81" cy="86.11" r="1.15" fill="#a20a26"/>
<circle cx="203.93" cy="106.46" r="1.15" fill="#a20a26"/>
<circle cx="207.10" cy="107.90" r="1.15" fill="#a20a26"/>
<circle cx="209.70" cy="105.59" r="1.15" fill="#a20a26"/>
<circle cx="208.26" cy="110.35" r="1.15" fill="#a20a26"/>
<circle cx="205.66" cy="112.52" r="1.15" fill="#a20a26"/>
<circle cx="206.52" cy="116.41" r="1.15" fill="#a20a26"/>
<circle cx="204.94" cy="118.29" r="1.15" fill="#a20a26"/>
<rect x="224.14" y="84.39" width="2.0" height="2.0" fill="#a20a26"/>
<rect x="224.14" y="103.15" width="2.0" height="2.0" fill="#a20a26"/>
<rect x="222.70" y="107.19" width="2.0" height="2.0" fill="#a20a26"/>
<rect x="225.58" y="109.06" width="2.0" height="2.0" fill="#a20a26"/>
<rect x="221.25" y="112.67" width="2.0" height="2.0" fill="#a20a26"/>
<rect x="223.42" y="112.67" width="2.0" height="2.0" fill="#a20a26"/>
<rect x="225.58" y="112.67" width="2.0" height="2.0" fill="#a20a26"/>
<rect x="227.46" y="112.96" width="2.0" height="2.0" fill="#a20a26"/>
<rect x="221.97" y="115.13" width="2.0" height="2.0" fill="#a20a26"/>
<rect x="224.86" y="115.13" width="2.0" height="2.0" fill="#a20a26"/>
<rect x="220.53" y="117.00" width="2.0" height="2.0" fill="#a20a26"/>
<rect x="223.42" y="117.29" width="2.0" height="2.0" fill="#a20a26"/>
<rect x="226.30" y="117.00" width="2.0" height="2.0" fill="#a20a26"/>
<path d="M243.46,111.22L244.66,113.42L242.26,113.42Z" fill="#a20a26"/>
<path d="M242.89,115.55L244.09,117.75L241.69,117.75Z" fill="#a20a26"/>
<path d="M241.01,118.72L242.21,120.92L239.81,120.92Z" fill="#a20a26"/>
<path d="M243.18,118.72L244.38,120.92L241.98,120.92Z" fill="#a20a26"/>
<path d="M246.06,118.72L247.26,120.92L244.86,120.92Z" fill="#a20a26"/>
<path d="M239.57,120.60L240.77,122.80L238.37,122.80Z" fill="#a20a26"/>
<path d="M242.02,120.60L243.22,122.80L240.82,122.80Z" fill="#a20a26"/>
<path d="M244.62,120.60L245.82,122.80L243.42,122.80Z" fill="#a20a26"/>
<path d="M247.22,120.60L248.42,122.80L246.02,122.80Z" fill="#a20a26"/>
<path d="M240.29,122.76L241.49,124.96L239.09,124.96Z" fill="#a20a26"/>
<path d="M242.89,122.76L244.09,124.96L241.69,124.96Z" fill="#a20a26"/>
<path d="M245.34,122.76L246.54,124.96L244.14,124.96Z" fill="#a20a26"/>
<path d="M246.78,123.92L247.98,126.12L245.58,126.12Z" fill="#a20a26"/>
<path d="M241.73,124.21L242.93,126.41L240.53,126.41Z" fill="#a20a26"/>
<path d="M258.33,118.87L259.53,116.67L257.13,116.67Z" fill="#a20a26"/>
<path d="M261.65,119.16L262.85,116.96L260.45,116.96Z" fill="#a20a26"/>
<path d="M265.98,118.87L267.18,116.67L264.78,116.67Z" fill="#a20a26"/>
<path d="M259.34,121.03L260.54,118.83L258.14,118.83Z" fill="#a20a26"/>
<path d="M263.67,121.32L264.87,119.12L262.47,119.12Z" fill="#a20a26"/>
<path d="M258.33,123.20L259.53,121.00L257.13,121.00Z" fill="#a20a26"/>
<path d="M261.21,123.63L262.41,121.43L260.01,121.43Z" fill="#a20a26"/>
<path d="M264.82,123.20L266.02,121.00L263.62,121.00Z" fill="#a20a26"/>
<path d="M266.99,122.76L268.19,120.56L265.79,120.56Z" fill="#a20a26"/>
<path d="M260.20,125.36L261.40,123.16L259.00,123.16Z" fill="#a20a26"/>
<path d="M262.66,125.07L263.86,122.87L261.46,122.87Z" fill="#a20a26"/>
<circle cx="202.30" cy="121.30" r="1.15" fill="#a20a26"/>
<circle cx="203.50" cy="123.50" r="1.15" fill="#a20a26"/>
<circle cx="202.50" cy="125.30" r="1.15" fill="#a20a26"/>
<circle cx="205.50" cy="121.80" r="1.15" fill="#a20a26"/>
<circle cx="206.50" cy="123.80" r="1.15" fill="#a20a26"/>
<circle cx="207.50" cy="122.00" r="1.15" fill="#a20a26"/>
<circle cx="208.50" cy="125.00" r="1.15" fill="#a20a26"/>
<circle cx="205.00" cy="125.60" r="1.15" fill="#a20a26"/>
<circle cx="210.50" cy="122.50" r="1.15" fill="#a20a26"/>
<circle cx="211.00" cy="125.00" r="1.15" fill="#a20a26"/>
<circle cx="209.50" cy="120.60" r="1.15" fill="#a20a26"/>
<circle cx="204.00" cy="120.80" r="1.15" fill="#a20a26"/>
<circle cx="207.00" cy="120.30" r="1.15" fill="#a20a26"/>
<rect x="220.00" y="113.00" width="2.0" height="2.0" fill="#a20a26"/>
<rect x="222.50" y="114.20" width="2.0" height="2.0" fill="#a20a26"/>
<rect x="225.50" y="113.00" width="2.0" height="2.0" fill="#a20a26"/>
<rect x="228.00" y="114.50" width="2.0" height="2.0" fill="#a20a26"/>
<rect x="219.80" y="117.50" width="2.0" height="2.0" fill="#a20a26"/>
<rect x="222.00" y="119.00" width="2.0" height="2.0" fill="#a20a26"/>
<rect x="224.50" y="117.80" width="2.0" height="2.0" fill="#a20a26"/>
<rect x="227.00" y="119.50" width="2.0" height="2.0" fill="#a20a26"/>
<rect x="221.00" y="120.80" width="2.0" height="2.0" fill="#a20a26"/>
<rect x="225.80" y="120.50" width="2.0" height="2.0" fill="#a20a26"/>
<rect x="228.50" y="118.00" width="2.0" height="2.0" fill="#a20a26"/>
<rect x="223.50" y="123.60" width="2.0" height="2.0" fill="#a20a26"/>
<rect x="220.50" y="124.20" width="2.0" height="2.0" fill="#a20a26"/>
<rect x="227.50" y="124.30" width="2.0" height="2.0" fill="#a20a26"/>
<circle cx="326.49" cy="73.95" r="1.15" fill="#a20a26"/>
<circle cx="329.38" cy="75.25" r="1.15" fill="#a20a26"/>
<circle cx="332.27" cy="74.96" r="1.15" fill="#a20a26"/>
<circle cx="327.94" cy="77.85" r="1.15" fill="#a20a26"/>
<circle cx="330.39" cy="79.00" r="1.15" fill="#a20a26"/>
<circle cx="329.38" cy="82.90" r="1.15" fill="#a20a26"/>
<rect x="345.70" y="42.50" width="2.0" height="2.0" fill="#a20a26"/>
<rect x="345.70" y="49.72" width="2.0" height="2.0" fill="#a20a26"/>
<rect x="345.70" y="61.26" width="2.0" height="2.0" fill="#a20a26"/>
<rect x="347.14" y="63.86" width="2.0" height="2.0" fill="#a20a26"/>
<rect x="344.25" y="65.30" width="2.0" height="2.0" fill="#a20a26"/>
<rect x="348.58" y="66.02" width="2.0" height="2.0" fill="#a20a26"/>
<rect x="343.24" y="67.03" width="2.0" height="2.0" fill="#a20a26"/>
<rect x="345.70" y="67.90" width="2.0" height="2.0" fill="#a20a26"/>
<rect x="347.14" y="69.92" width="2.0" height="2.0" fill="#a20a26"/>
<rect x="344.69" y="71.36" width="2.0" height="2.0" fill="#a20a26"/>
<rect x="345.70" y="74.68" width="2.0" height="2.0" fill="#a20a26"/>
<rect x="341.37" y="78.58" width="2.0" height="2.0" fill="#a20a26"/>
<rect x="343.53" y="79.01" width="2.0" height="2.0" fill="#a20a26"/>
<rect x="345.70" y="79.01" width="2.0" height="2.0" fill="#a20a26"/>
<rect x="347.86" y="79.01" width="2.0" height="2.0" fill="#a20a26"/>
<rect x="350.02" y="78.00" width="2.0" height="2.0" fill="#a20a26"/>
<rect x="345.70" y="81.90" width="2.0" height="2.0" fill="#a20a26"/>
<path d="M364.16,48.70L365.36,50.90L362.96,50.90Z" fill="#a20a26"/>
<path d="M364.16,57.50L365.36,59.70L362.96,59.70Z" fill="#a20a26"/>
<path d="M364.16,68.18L365.36,70.38L362.96,70.38Z" fill="#a20a26"/>
<path d="M364.73,72.94L365.93,75.14L363.53,75.14Z" fill="#a20a26"/>
<path d="M365.89,73.95L367.09,76.15L364.69,76.15Z" fill="#a20a26"/>
<path d="M363.00,76.26L364.20,78.46L361.80,78.46Z" fill="#a20a26"/>
<path d="M363.00,78.28L364.20,80.48L361.80,80.48Z" fill="#a20a26"/>
<path d="M365.45,80.59L366.65,82.79L364.25,82.79Z" fill="#a20a26"/>
<path d="M381.76,80.88L382.96,78.68L380.56,78.68Z" fill="#a20a26"/>
<circle cx="327.94" cy="86.62" r="1.15" fill="#a20a26"/>
<circle cx="330.82" cy="88.49" r="1.15" fill="#a20a26"/>
<circle cx="325.77" cy="91.81" r="1.15" fill="#a20a26"/>
<circle cx="327.94" cy="91.81" r="1.15" fill="#a20a26"/>
<circle cx="330.39" cy="92.10" r="1.15" fill="#a20a26"/>
<circle cx="332.70" cy="92.10" r="1.15" fill="#a20a26"/>
<circle cx="327.22" cy="94.27" r="1.15" fill="#a20a26"/>
<circle cx="330.82" cy="94.27" r="1.15" fill="#a20a26"/>
<circle cx="325.05" cy="96.72" r="1.15" fill="#a20a26"/>
<circle cx="329.38" cy="97.15" r="1.15" fill="#a20a26"/>
<circle cx="326.49" cy="103.65" r="1.15" fill="#a20a26"/>
<circle cx="329.38" cy="104.37" r="1.15" fill="#a20a26"/>
<circle cx="332.27" cy="103.93" r="1.15" fill="#a20a26"/>
<circle cx="325.48" cy="104.80" r="1.15" fill="#a20a26"/>
<circle cx="328.66" cy="109.13" r="1.15" fill="#a20a26"/>
<circle cx="330.39" cy="110.57" r="1.15" fill="#a20a26"/>
<circle cx="325.77" cy="112.59" r="1.15" fill="#a20a26"/>
<circle cx="327.94" cy="112.59" r="1.15" fill="#a20a26"/>
<circle cx="331.83" cy="112.59" r="1.15" fill="#a20a26"/>
<circle cx="325.77" cy="115.19" r="1.15" fill="#a20a26"/>
<circle cx="328.66" cy="115.48" r="1.15" fill="#a20a26"/>
<circle cx="332.27" cy="114.90" r="1.15" fill="#a20a26"/>
<circle cx="326.93" cy="117.79" r="1.15" fill="#a20a26"/>
<circle cx="330.10" cy="116.92" r="1.15" fill="#a20a26"/>
<circle cx="328.66" cy="120.24" r="1.15" fill="#a20a26"/>
<circle cx="330.82" cy="119.52" r="1.15" fill="#a20a26"/>
<rect x="344.25" y="86.48" width="2.0" height="2.0" fill="#a20a26"/>
<rect x="346.42" y="87.49" width="2.0" height="2.0" fill="#a20a26"/>
<rect x="345.70" y="91.39" width="2.0" height="2.0" fill="#a20a26"/>
<rect x="345.70" y="94.71" width="2.0" height="2.0" fill="#a20a26"/>
<rect x="345.70" y="102.93" width="2.0" height="2.0" fill="#a20a26"/>
<rect x="344.25" y="106.69" width="2.0" height="2.0" fill="#a20a26"/>
<rect x="346.42" y="106.97" width="2.0" height="2.0" fill="#a20a26"/>
<rect x="343.53" y="109.86" width="2.0" height="2.0" fill="#a20a26"/>
<rect x="345.70" y="109.86" width="2.0" height="2.0" fill="#a20a26"/>
<rect x="347.86" y="109.57" width="2.0" height="2.0" fill="#a20a26"/>
<rect x="342.81" y="113.90" width="2.0" height="2.0" fill="#a20a26"/>
<rect x="344.97" y="114.48" width="2.0" height="2.0" fill="#a20a26"/>
<rect x="347.86" y="115.34" width="2.0" height="2.0" fill="#a20a26"/>
<rect x="346.42" y="116.35" width="2.0" height="2.0" fill="#a20a26"/>
<path d="M364.01,83.87L365.21,86.07L362.81,86.07Z" fill="#a20a26"/>
<path d="M364.44,87.19L365.64,89.39L363.24,89.39Z" fill="#a20a26"/>
<path d="M365.45,90.80L366.65,93.00L364.25,93.00Z" fill="#a20a26"/>
<path d="M360.40,94.41L361.60,96.61L359.20,96.61Z" fill="#a20a26"/>
<path d="M363.00,95.13L364.20,97.33L361.80,97.33Z" fill="#a20a26"/>
<path d="M365.89,95.42L367.09,97.62L364.69,97.62Z" fill="#a20a26"/>
<path d="M367.91,94.84L369.11,97.04L366.71,97.04Z" fill="#a20a26"/>
<path d="M364.44,103.07L365.64,105.27L363.24,105.27Z" fill="#a20a26"/>
<path d="M363.00,106.67L364.20,108.87L361.80,108.87Z" fill="#a20a26"/>
<path d="M365.89,107.40L367.09,109.60L364.69,109.60Z" fill="#a20a26"/>
<path d="M362.57,110.28L363.77,112.48L361.37,112.48Z" fill="#a20a26"/>
<path d="M364.73,111.29L365.93,113.49L363.53,113.49Z" fill="#a20a26"/>
<path d="M366.90,111.72L368.10,113.92L365.70,113.92Z" fill="#a20a26"/>
<path d="M361.56,113.89L362.76,116.09L360.36,116.09Z" fill="#a20a26"/>
<path d="M364.01,114.61L365.21,116.81L362.81,116.81Z" fill="#a20a26"/>
<path d="M365.89,115.04L367.09,117.24L364.69,117.24Z" fill="#a20a26"/>
<path d="M363.00,117.06L364.20,119.26L361.80,119.26Z" fill="#a20a26"/>
<path d="M380.61,89.79L381.81,87.59L379.41,87.59Z" fill="#a20a26"/>
<path d="M383.20,90.52L384.40,88.32L382.00,88.32Z" fill="#a20a26"/>
<path d="M382.77,97.73L383.97,95.53L381.57,95.53Z" fill="#a20a26"/>
<path d="M380.32,101.77L381.52,99.57L379.12,99.57Z" fill="#a20a26"/>
<path d="M383.20,102.06L384.40,99.86L382.00,99.86Z" fill="#a20a26"/>
<path d="M377.72,107.11L378.92,104.91L376.52,104.91Z" fill="#a20a26"/>
<path d="M380.32,107.54L381.52,105.34L379.12,105.34Z" fill="#a20a26"/>
<path d="M383.20,107.11L384.40,104.91L382.00,104.91Z" fill="#a20a26"/>
<path d="M386.09,106.68L387.29,104.48L384.89,104.48Z" fill="#a20a26"/>
<path d="M382.05,112.16L383.25,109.96L380.85,109.96Z" fill="#a20a26"/>
<path d="M380.61,113.60L381.81,111.40L379.41,111.40Z" fill="#a20a26"/>
<path d="M383.49,113.89L384.69,111.69L382.29,111.69Z" fill="#a20a26"/>
<path d="M385.66,113.60L386.86,111.40L384.46,111.40Z" fill="#a20a26"/>
<path d="M377.43,115.33L378.63,113.13L376.23,113.13Z" fill="#a20a26"/>
<path d="M379.88,116.49L381.08,114.29L378.68,114.29Z" fill="#a20a26"/>
<path d="M382.05,116.78L383.25,114.58L380.85,114.58Z" fill="#a20a26"/>
<path d="M384.21,116.49L385.41,114.29L383.01,114.29Z" fill="#a20a26"/>
<path d="M386.38,115.77L387.58,113.57L385.18,113.57Z" fill="#a20a26"/>
<path d="M377.72,120.10L378.92,117.90L376.52,117.90Z" fill="#a20a26"/>
<path d="M380.61,121.11L381.81,118.91L379.41,118.91Z" fill="#a20a26"/>
<path d="M383.20,121.54L384.40,119.34L382.00,119.34Z" fill="#a20a26"/>
<path d="M386.09,121.11L387.29,118.91L384.89,118.91Z" fill="#a20a26"/>
<path d="M381.33,124.43L382.53,122.23L380.13,122.23Z" fill="#a20a26"/>
<circle cx="451.38" cy="76.08" r="1.15" fill="#a20a26"/>
<rect x="467.41" y="61.08" width="2.0" height="2.0" fill="#a20a26"/>
<rect x="470.29" y="67.14" width="2.0" height="2.0" fill="#a20a26"/>
<rect x="464.81" y="68.58" width="2.0" height="2.0" fill="#a20a26"/>
<rect x="467.41" y="69.01" width="2.0" height="2.0" fill="#a20a26"/>
<rect x="467.41" y="73.20" width="2.0" height="2.0" fill="#a20a26"/>
<rect x="464.81" y="77.96" width="2.0" height="2.0" fill="#a20a26"/>
<rect x="467.41" y="78.25" width="2.0" height="2.0" fill="#a20a26"/>
<rect x="470.29" y="77.67" width="2.0" height="2.0" fill="#a20a26"/>
<rect x="467.41" y="84.17" width="2.0" height="2.0" fill="#a20a26"/>
<path d="M485.72,47.65L486.92,49.85L484.52,49.85Z" fill="#a20a26"/>
<path d="M504.34,88.63L505.54,86.43L503.14,86.43Z" fill="#a20a26"/>
<circle cx="451.38" cy="94.82" r="1.15" fill="#a20a26"/>
<circle cx="451.38" cy="102.04" r="1.15" fill="#a20a26"/>
<circle cx="447.77" cy="104.92" r="1.15" fill="#a20a26"/>
<circle cx="450.66" cy="106.37" r="1.15" fill="#a20a26"/>
<circle cx="454.27" cy="105.36" r="1.15" fill="#a20a26"/>
<circle cx="448.49" cy="109.25" r="1.15" fill="#a20a26"/>
<circle cx="451.38" cy="109.97" r="1.15" fill="#a20a26"/>
<circle cx="454.27" cy="108.82" r="1.15" fill="#a20a26"/>
<circle cx="449.22" cy="115.02" r="1.15" fill="#a20a26"/>
<circle cx="452.10" cy="115.46" r="1.15" fill="#a20a26"/>
<circle cx="454.70" cy="114.59" r="1.15" fill="#a20a26"/>
<circle cx="447.77" cy="117.48" r="1.15" fill="#a20a26"/>
<circle cx="449.94" cy="117.91" r="1.15" fill="#a20a26"/>
<circle cx="452.10" cy="117.48" r="1.15" fill="#a20a26"/>
<circle cx="454.27" cy="117.91" r="1.15" fill="#a20a26"/>
<circle cx="447.05" cy="120.08" r="1.15" fill="#a20a26"/>
<circle cx="449.22" cy="120.36" r="1.15" fill="#a20a26"/>
<circle cx="451.38" cy="120.80" r="1.15" fill="#a20a26"/>
<circle cx="453.54" cy="120.08" r="1.15" fill="#a20a26"/>
<circle cx="455.71" cy="119.79" r="1.15" fill="#a20a26"/>
<circle cx="448.49" cy="121.81" r="1.15" fill="#a20a26"/>
<circle cx="451.38" cy="122.67" r="1.15" fill="#a20a26"/>
<circle cx="454.27" cy="121.81" r="1.15" fill="#a20a26"/>
<rect x="466.25" y="88.05" width="2.0" height="2.0" fill="#a20a26"/>
<rect x="469.14" y="89.06" width="2.0" height="2.0" fill="#a20a26"/>
<rect x="464.81" y="93.10" width="2.0" height="2.0" fill="#a20a26"/>
<rect x="467.70" y="93.39" width="2.0" height="2.0" fill="#a20a26"/>
<rect x="470.58" y="93.82" width="2.0" height="2.0" fill="#a20a26"/>
<rect x="463.37" y="98.15" width="2.0" height="2.0" fill="#a20a26"/>
<rect x="466.25" y="98.87" width="2.0" height="2.0" fill="#a20a26"/>
<rect x="469.14" y="99.59" width="2.0" height="2.0" fill="#a20a26"/>
<rect x="471.30" y="98.15" width="2.0" height="2.0" fill="#a20a26"/>
<rect x="464.81" y="101.47" width="2.0" height="2.0" fill="#a20a26"/>
<rect x="467.70" y="102.05" width="2.0" height="2.0" fill="#a20a26"/>
<rect x="470.58" y="101.76" width="2.0" height="2.0" fill="#a20a26"/>
<rect x="462.65" y="103.92" width="2.0" height="2.0" fill="#a20a26"/>
<rect x="465.53" y="104.36" width="2.0" height="2.0" fill="#a20a26"/>
<rect x="469.14" y="104.65" width="2.0" height="2.0" fill="#a20a26"/>
<rect x="471.30" y="104.36" width="2.0" height="2.0" fill="#a20a26"/>
<rect x="464.81" y="106.81" width="2.0" height="2.0" fill="#a20a26"/>
<rect x="466.97" y="108.69" width="2.0" height="2.0" fill="#a20a26"/>
<rect x="469.14" y="108.25" width="2.0" height="2.0" fill="#a20a26"/>
<rect x="470.58" y="109.70" width="2.0" height="2.0" fill="#a20a26"/>
<rect x="466.25" y="112.58" width="2.0" height="2.0" fill="#a20a26"/>
<rect x="468.42" y="114.02" width="2.0" height="2.0" fill="#a20a26"/>
<rect x="466.97" y="116.48" width="2.0" height="2.0" fill="#a20a26"/>
<path d="M486.01,95.69L487.21,97.89L484.81,97.89Z" fill="#a20a26"/>
<path d="M483.13,99.29L484.33,101.49L481.93,101.49Z" fill="#a20a26"/>
<path d="M488.18,99.29L489.38,101.49L486.98,101.49Z" fill="#a20a26"/>
<path d="M485.29,101.46L486.49,103.66L484.09,103.66Z" fill="#a20a26"/>
<path d="M488.90,102.90L490.10,105.10L487.70,105.10Z" fill="#a20a26"/>
<path d="M482.40,104.35L483.60,106.55L481.20,106.55Z" fill="#a20a26"/>
<path d="M486.01,105.07L487.21,107.27L484.81,107.27Z" fill="#a20a26"/>
<path d="M488.90,106.08L490.10,108.28L487.70,108.28Z" fill="#a20a26"/>
<path d="M483.13,107.52L484.33,109.72L481.93,109.72Z" fill="#a20a26"/>
<path d="M487.45,107.23L488.65,109.43L486.25,109.43Z" fill="#a20a26"/>
<path d="M484.57,110.84L485.77,113.04L483.37,113.04Z" fill="#a20a26"/>
<path d="M488.18,111.27L489.38,113.47L486.98,113.47Z" fill="#a20a26"/>
<path d="M481.68,113.29L482.88,115.49L480.48,115.49Z" fill="#a20a26"/>
<path d="M486.01,113.72L487.21,115.92L484.81,115.92Z" fill="#a20a26"/>
<path d="M483.13,115.89L484.33,118.09L481.93,118.09Z" fill="#a20a26"/>
<path d="M486.01,117.33L487.21,119.53L484.81,119.53Z" fill="#a20a26"/>
<path d="M488.18,117.33L489.38,119.53L486.98,119.53Z" fill="#a20a26"/>
<path d="M484.57,119.50L485.77,121.70L483.37,121.70Z" fill="#a20a26"/>
<path d="M482.12,120.94L483.32,123.14L480.92,123.14Z" fill="#a20a26"/>
<path d="M486.73,120.51L487.93,122.71L485.53,122.71Z" fill="#a20a26"/>
<path d="M488.90,121.37L490.10,123.57L487.70,123.57Z" fill="#a20a26"/>
<path d="M485.29,122.82L486.49,125.02L484.09,125.02Z" fill="#a20a26"/>
<path d="M504.34,88.47L505.54,86.27L503.14,86.27Z" fill="#a20a26"/>
<path d="M501.88,89.92L503.08,87.72L500.68,87.72Z" fill="#a20a26"/>
<path d="M503.33,93.96L504.53,91.76L502.13,91.76Z" fill="#a20a26"/>
<path d="M501.16,97.57L502.36,95.37L499.96,95.37Z" fill="#a20a26"/>
<path d="M504.05,101.17L505.25,98.97L502.85,98.97Z" fill="#a20a26"/>
<path d="M502.61,105.50L503.81,103.30L501.41,103.30Z" fill="#a20a26"/>
<path d="M499.72,109.11L500.92,106.91L498.52,106.91Z" fill="#a20a26"/>
<path d="M503.33,109.83L504.53,107.63L502.13,107.63Z" fill="#a20a26"/>
<path d="M506.94,109.54L508.14,107.34L505.74,107.34Z" fill="#a20a26"/>
<path d="M501.88,111.27L503.08,109.07L500.68,109.07Z" fill="#a20a26"/>
<path d="M505.49,112.00L506.69,109.80L504.29,109.80Z" fill="#a20a26"/>
<path d="M499.43,114.88L500.63,112.68L498.23,112.68Z" fill="#a20a26"/>
<path d="M502.61,115.60L503.81,113.40L501.41,113.40Z" fill="#a20a26"/>
<path d="M506.94,115.31L508.14,113.11L505.74,113.11Z" fill="#a20a26"/>
<path d="M501.16,117.77L502.36,115.57L499.96,115.57Z" fill="#a20a26"/>
<path d="M504.77,118.20L505.97,116.00L503.57,116.00Z" fill="#a20a26"/>
<path d="M500.44,120.65L501.64,118.45L499.24,118.45Z" fill="#a20a26"/>
<path d="M503.33,120.65L504.53,118.45L502.13,118.45Z" fill="#a20a26"/>
<path d="M506.21,120.22L507.41,118.02L505.01,118.02Z" fill="#a20a26"/>
<path d="M501.88,123.11L503.08,120.91L500.68,120.91Z" fill="#a20a26"/>
<path d="M505.49,123.54L506.69,121.34L504.29,121.34Z" fill="#a20a26"/>
<path d="M501.88,127.15L503.08,124.95L500.68,124.95Z" fill="#a20a26"/>
<rect x="102.74" y="171.09" width="2.0" height="2.0" fill="#a20a26"/>
<rect x="102.74" y="189.58" width="2.0" height="2.0" fill="#a20a26"/>
<rect x="102.74" y="198.54" width="2.0" height="2.0" fill="#a20a26"/>
<rect x="102.74" y="201.67" width="2.0" height="2.0" fill="#a20a26"/>
<circle cx="85.67" cy="218.22" r="1.15" fill="#a20a26"/>
<circle cx="87.10" cy="221.78" r="1.15" fill="#a20a26"/>
<circle cx="85.67" cy="234.16" r="1.15" fill="#a20a26"/>
<rect x="105.16" y="208.97" width="2.0" height="2.0" fill="#a20a26"/>
<rect x="99.89" y="210.82" width="2.0" height="2.0" fill="#a20a26"/>
<rect x="102.74" y="210.82" width="2.0" height="2.0" fill="#a20a26"/>
<rect x="104.87" y="213.24" width="2.0" height="2.0" fill="#a20a26"/>
<rect x="101.32" y="214.10" width="2.0" height="2.0" fill="#a20a26"/>
<rect x="102.74" y="217.94" width="2.0" height="2.0" fill="#a20a26"/>
<rect x="99.89" y="225.76" width="2.0" height="2.0" fill="#a20a26"/>
<rect x="102.74" y="226.04" width="2.0" height="2.0" fill="#a20a26"/>
<rect x="105.58" y="226.90" width="2.0" height="2.0" fill="#a20a26"/>
<rect x="99.89" y="228.89" width="2.0" height="2.0" fill="#a20a26"/>
<rect x="102.74" y="228.89" width="2.0" height="2.0" fill="#a20a26"/>
<rect x="104.87" y="228.89" width="2.0" height="2.0" fill="#a20a26"/>
<rect x="100.60" y="238.56" width="2.0" height="2.0" fill="#a20a26"/>
<rect x="106.01" y="240.27" width="2.0" height="2.0" fill="#a20a26"/>
<path d="M121.23,227.17L122.43,229.37L120.03,229.37Z" fill="#a20a26"/>
<path d="M123.23,227.17L124.43,229.37L122.03,229.37Z" fill="#a20a26"/>
<path d="M119.39,230.44L120.59,232.64L118.19,232.64Z" fill="#a20a26"/>
<path d="M122.23,234.28L123.43,236.48L121.03,236.48Z" fill="#a20a26"/>
<path d="M119.39,235.70L120.59,237.90L118.19,237.90Z" fill="#a20a26"/>
<path d="M124.36,235.13L125.56,237.33L123.16,237.33Z" fill="#a20a26"/>
<path d="M121.23,236.84L122.43,239.04L120.03,239.04Z" fill="#a20a26"/>
<path d="M118.67,237.98L119.87,240.18L117.47,240.18Z" fill="#a20a26"/>
<path d="M122.94,238.26L124.14,240.46L121.74,240.46Z" fill="#a20a26"/>
<path d="M117.25,241.39L118.45,243.59L116.05,243.59Z" fill="#a20a26"/>
<path d="M120.10,241.82L121.30,244.02L118.90,244.02Z" fill="#a20a26"/>
<path d="M122.94,241.82L124.14,244.02L121.74,244.02Z" fill="#a20a26"/>
<path d="M125.79,241.82L126.99,244.02L124.59,244.02Z" fill="#a20a26"/>
<path d="M117.96,243.95L119.16,246.15L116.76,246.15Z" fill="#a20a26"/>
<path d="M120.38,244.24L121.58,246.44L119.18,246.44Z" fill="#a20a26"/>
<path d="M122.94,244.24L124.14,246.44L121.74,246.44Z" fill="#a20a26"/>
<path d="M125.50,244.24L126.70,246.44L124.30,246.44Z" fill="#a20a26"/>
<path d="M138.30,223.51L139.50,221.31L137.10,221.31Z" fill="#a20a26"/>
<path d="M141.43,225.50L142.63,223.30L140.23,223.30Z" fill="#a20a26"/>
<path d="M139.73,229.77L140.93,227.57L138.53,227.57Z" fill="#a20a26"/>
<path d="M138.59,236.31L139.79,234.11L137.39,234.11Z" fill="#a20a26"/>
<path d="M140.72,238.02L141.92,235.82L139.52,235.82Z" fill="#a20a26"/>
<path d="M137.17,240.15L138.37,237.95L135.97,237.95Z" fill="#a20a26"/>
<path d="M142.15,240.15L143.35,237.95L140.95,237.95Z" fill="#a20a26"/>
<path d="M139.30,241.57L140.50,239.37L138.10,239.37Z" fill="#a20a26"/>
<path d="M135.74,243.71L136.94,241.51L134.54,241.51Z" fill="#a20a26"/>
<path d="M138.59,243.99L139.79,241.79L137.39,241.79Z" fill="#a20a26"/>
<path d="M141.43,244.42L142.63,242.22L140.23,242.22Z" fill="#a20a26"/>
<path d="M143.99,243.42L145.19,241.22L142.79,241.22Z" fill="#a20a26"/>
<path d="M136.46,246.55L137.66,244.35L135.26,244.35Z" fill="#a20a26"/>
<path d="M139.30,246.84L140.50,244.64L138.10,244.64Z" fill="#a20a26"/>
<path d="M142.15,246.84L143.35,244.64L140.95,244.64Z" fill="#a20a26"/>
<path d="M144.28,246.55L145.48,244.35L143.08,244.35Z" fill="#a20a26"/>
<circle cx="85.45" cy="234.02" r="1.15" fill="#a20a26"/>
<circle cx="84.48" cy="238.17" r="1.15" fill="#a20a26"/>
<circle cx="86.70" cy="238.31" r="1.15" fill="#a20a26"/>
<circle cx="82.68" cy="239.35" r="1.15" fill="#a20a26"/>
<circle cx="88.43" cy="239.70" r="1.15" fill="#a20a26"/>
<circle cx="85.66" cy="240.39" r="1.15" fill="#a20a26"/>
<circle cx="83.58" cy="244.20" r="1.15" fill="#a20a26"/>
<circle cx="82.54" cy="246.27" r="1.15" fill="#a20a26"/>
<circle cx="85.17" cy="243.85" r="1.15" fill="#a20a26"/>
<circle cx="85.31" cy="245.58" r="1.15" fill="#a20a26"/>
<circle cx="85.31" cy="247.17" r="1.15" fill="#a20a26"/>
<circle cx="87.39" cy="243.85" r="1.15" fill="#a20a26"/>
<circle cx="88.77" cy="245.58" r="1.15" fill="#a20a26"/>
<circle cx="89.47" cy="246.97" r="1.15" fill="#a20a26"/>
<circle cx="81.16" cy="246.97" r="1.15" fill="#a20a26"/>
<rect x="98.51" y="235.58" width="2.0" height="2.0" fill="#a20a26"/>
<rect x="98.51" y="237.31" width="2.0" height="2.0" fill="#a20a26"/>
<rect x="98.51" y="238.83" width="2.0" height="2.0" fill="#a20a26"/>
<rect x="100.58" y="235.93" width="2.0" height="2.0" fill="#a20a26"/>
<rect x="100.58" y="238.00" width="2.0" height="2.0" fill="#a20a26"/>
<rect x="103.70" y="235.58" width="2.0" height="2.0" fill="#a20a26"/>
<rect x="103.70" y="237.66" width="2.0" height="2.0" fill="#a20a26"/>
<rect x="103.70" y="239.39" width="2.0" height="2.0" fill="#a20a26"/>
<rect x="106.82" y="235.58" width="2.0" height="2.0" fill="#a20a26"/>
<rect x="106.82" y="237.31" width="2.0" height="2.0" fill="#a20a26"/>
<rect x="106.82" y="239.39" width="2.0" height="2.0" fill="#a20a26"/>
<rect x="98.51" y="243.89" width="2.0" height="2.0" fill="#a20a26"/>
<rect x="100.58" y="244.37" width="2.0" height="2.0" fill="#a20a26"/>
<rect x="102.32" y="243.89" width="2.0" height="2.0" fill="#a20a26"/>
<rect x="104.39" y="243.68" width="2.0" height="2.0" fill="#a20a26"/>
<rect x="106.82" y="243.68" width="2.0" height="2.0" fill="#a20a26"/>
<rect x="223.13" y="176.03" width="2.0" height="2.0" fill="#a20a26"/>
<rect x="223.13" y="183.96" width="2.0" height="2.0" fill="#a20a26"/>
<rect x="223.13" y="200.13" width="2.0" height="2.0" fill="#a20a26"/>
<path d="M241.44,206.03L242.64,208.23L240.24,208.23Z" fill="#a20a26"/>
<circle cx="207.82" cy="223.48" r="1.15" fill="#a20a26"/>
<circle cx="204.94" cy="225.93" r="1.15" fill="#a20a26"/>
<circle cx="203.49" cy="231.13" r="1.15" fill="#a20a26"/>
<circle cx="206.81" cy="231.13" r="1.15" fill="#a20a26"/>
<circle cx="208.54" cy="233.58" r="1.15" fill="#a20a26"/>
<circle cx="204.94" cy="234.01" r="1.15" fill="#a20a26"/>
<circle cx="206.81" cy="236.03" r="1.15" fill="#a20a26"/>
<circle cx="203.49" cy="238.34" r="1.15" fill="#a20a26"/>
<circle cx="207.82" cy="238.63" r="1.15" fill="#a20a26"/>
<circle cx="205.66" cy="240.80" r="1.15" fill="#a20a26"/>
<circle cx="202.77" cy="241.81" r="1.15" fill="#a20a26"/>
<circle cx="204.94" cy="242.24" r="1.15" fill="#a20a26"/>
<circle cx="207.10" cy="242.24" r="1.15" fill="#a20a26"/>
<circle cx="209.27" cy="242.24" r="1.15" fill="#a20a26"/>
<circle cx="211.43" cy="241.81" r="1.15" fill="#a20a26"/>
<circle cx="202.77" cy="244.40" r="1.15" fill="#a20a26"/>
<circle cx="204.94" cy="244.69" r="1.15" fill="#a20a26"/>
<circle cx="207.10" cy="244.69" r="1.15" fill="#a20a26"/>
<circle cx="209.27" cy="244.69" r="1.15" fill="#a20a26"/>
<circle cx="210.71" cy="244.40" r="1.15" fill="#a20a26"/>
<circle cx="203.49" cy="247.00" r="1.15" fill="#a20a26"/>
<circle cx="205.66" cy="247.00" r="1.15" fill="#a20a26"/>
<circle cx="207.82" cy="247.00" r="1.15" fill="#a20a26"/>
<circle cx="209.99" cy="247.00" r="1.15" fill="#a20a26"/>
<rect x="221.25" y="209.06" width="2.0" height="2.0" fill="#a20a26"/>
<rect x="224.86" y="209.93" width="2.0" height="2.0" fill="#a20a26"/>
<rect x="221.97" y="213.39" width="2.0" height="2.0" fill="#a20a26"/>
<rect x="224.86" y="213.82" width="2.0" height="2.0" fill="#a20a26"/>
<rect x="221.97" y="217.43" width="2.0" height="2.0" fill="#a20a26"/>
<rect x="224.86" y="217.72" width="2.0" height="2.0" fill="#a20a26"/>
<rect x="221.25" y="223.20" width="2.0" height="2.0" fill="#a20a26"/>
<rect x="224.86" y="223.92" width="2.0" height="2.0" fill="#a20a26"/>
<rect x="221.97" y="227.53" width="2.0" height="2.0" fill="#a20a26"/>
<rect x="224.14" y="227.82" width="2.0" height="2.0" fill="#a20a26"/>
<rect x="219.81" y="230.13" width="2.0" height="2.0" fill="#a20a26"/>
<rect x="222.70" y="230.42" width="2.0" height="2.0" fill="#a20a26"/>
<rect x="225.58" y="230.42" width="2.0" height="2.0" fill="#a20a26"/>
<rect x="221.25" y="232.58" width="2.0" height="2.0" fill="#a20a26"/>
<rect x="224.14" y="233.30" width="2.0" height="2.0" fill="#a20a26"/>
<rect x="219.09" y="236.91" width="2.0" height="2.0" fill="#a20a26"/>
<rect x="221.97" y="237.34" width="2.0" height="2.0" fill="#a20a26"/>
<rect x="224.86" y="237.34" width="2.0" height="2.0" fill="#a20a26"/>
<rect x="227.02" y="237.63" width="2.0" height="2.0" fill="#a20a26"/>
<rect x="220.53" y="240.23" width="2.0" height="2.0" fill="#a20a26"/>
<rect x="223.42" y="240.23" width="2.0" height="2.0" fill="#a20a26"/>
<rect x="226.30" y="240.81" width="2.0" height="2.0" fill="#a20a26"/>
<rect x="221.25" y="242.68" width="2.0" height="2.0" fill="#a20a26"/>
<rect x="224.86" y="242.68" width="2.0" height="2.0" fill="#a20a26"/>
<rect x="222.70" y="246.00" width="2.0" height="2.0" fill="#a20a26"/>
<path d="M241.73,207.75L242.93,209.95L240.53,209.95Z" fill="#a20a26"/>
<path d="M241.73,224.35L242.93,226.55L240.53,226.55Z" fill="#a20a26"/>
<path d="M238.13,227.52L239.33,229.72L236.93,229.72Z" fill="#a20a26"/>
<path d="M241.01,228.67L242.21,230.87L239.81,230.87Z" fill="#a20a26"/>
<path d="M242.89,229.83L244.09,232.03L241.69,232.03Z" fill="#a20a26"/>
<path d="M245.77,228.67L246.97,230.87L244.57,230.87Z" fill="#a20a26"/>
<path d="M238.85,232.28L240.05,234.48L237.65,234.48Z" fill="#a20a26"/>
<path d="M242.45,233.00L243.65,235.20L241.25,235.20Z" fill="#a20a26"/>
<path d="M245.34,233.29L246.54,235.49L244.14,235.49Z" fill="#a20a26"/>
<path d="M237.40,237.04L238.60,239.24L236.20,239.24Z" fill="#a20a26"/>
<path d="M240.29,237.33L241.49,239.53L239.09,239.53Z" fill="#a20a26"/>
<path d="M243.18,237.62L244.38,239.82L241.98,239.82Z" fill="#a20a26"/>
<path d="M246.06,237.33L247.26,239.53L244.86,239.53Z" fill="#a20a26"/>
<path d="M238.13,239.93L239.33,242.13L236.93,242.13Z" fill="#a20a26"/>
<path d="M241.01,240.51L242.21,242.71L239.81,242.71Z" fill="#a20a26"/>
<path d="M243.90,240.51L245.10,242.71L242.70,242.71Z" fill="#a20a26"/>
<path d="M240.29,242.82L241.49,245.02L239.09,245.02Z" fill="#a20a26"/>
<path d="M243.18,243.10L244.38,245.30L241.98,245.30Z" fill="#a20a26"/>
<path d="M242.89,245.27L244.09,247.47L241.69,247.47Z" fill="#a20a26"/>
<path d="M259.34,231.27L260.54,229.07L258.14,229.07Z" fill="#a20a26"/>
<path d="M261.65,236.32L262.85,234.12L260.45,234.12Z" fill="#a20a26"/>
<path d="M258.33,238.49L259.53,236.29L257.13,236.29Z" fill="#a20a26"/>
<path d="M260.49,239.21L261.69,237.01L259.29,237.01Z" fill="#a20a26"/>
<path d="M263.38,239.21L264.58,237.01L262.18,237.01Z" fill="#a20a26"/>
<path d="M256.16,241.09L257.36,238.89L254.96,238.89Z" fill="#a20a26"/>
<path d="M259.05,241.66L260.25,239.46L257.85,239.46Z" fill="#a20a26"/>
<path d="M261.94,241.38L263.14,239.18L260.74,239.18Z" fill="#a20a26"/>
<path d="M264.10,241.66L265.30,239.46L262.90,239.46Z" fill="#a20a26"/>
<path d="M255.44,243.97L256.64,241.77L254.24,241.77Z" fill="#a20a26"/>
<path d="M257.61,244.26L258.81,242.06L256.41,242.06Z" fill="#a20a26"/>
<path d="M260.49,244.26L261.69,242.06L259.29,242.06Z" fill="#a20a26"/>
<path d="M263.09,243.97L264.29,241.77L261.89,241.77Z" fill="#a20a26"/>
<path d="M256.16,246.43L257.36,244.23L254.96,244.23Z" fill="#a20a26"/>
<path d="M258.76,246.86L259.96,244.66L257.56,244.66Z" fill="#a20a26"/>
<path d="M261.21,246.86L262.41,244.66L260.01,244.66Z" fill="#a20a26"/>
<path d="M263.67,246.43L264.87,244.23L262.47,244.23Z" fill="#a20a26"/>
<path d="M257.61,248.30L258.81,246.10L256.41,246.10Z" fill="#a20a26"/>
<path d="M260.49,248.30L261.69,246.10L259.29,246.10Z" fill="#a20a26"/>
<circle cx="328.95" cy="203.00" r="1.15" fill="#a20a26"/>
<rect x="344.97" y="172.71" width="2.0" height="2.0" fill="#a20a26"/>
<rect x="344.97" y="179.92" width="2.0" height="2.0" fill="#a20a26"/>
<rect x="345.26" y="183.24" width="2.0" height="2.0" fill="#a20a26"/>
<rect x="344.97" y="193.63" width="2.0" height="2.0" fill="#a20a26"/>
<rect x="344.97" y="199.12" width="2.0" height="2.0" fill="#a20a26"/>
<rect x="344.97" y="205.90" width="2.0" height="2.0" fill="#a20a26"/>
<path d="M363.00,181.50L364.20,183.70L361.80,183.70Z" fill="#a20a26"/>
<path d="M363.29,201.27L364.49,203.47L362.09,203.47Z" fill="#a20a26"/>
<path d="M380.89,208.20L382.09,206.00L379.69,206.00Z" fill="#a20a26"/>
<circle cx="328.95" cy="210.06" r="1.15" fill="#a20a26"/>
<circle cx="328.95" cy="223.05" r="1.15" fill="#a20a26"/>
<circle cx="326.49" cy="226.80" r="1.15" fill="#a20a26"/>
<circle cx="329.81" cy="226.37" r="1.15" fill="#a20a26"/>
<circle cx="331.54" cy="226.80" r="1.15" fill="#a20a26"/>
<circle cx="328.66" cy="229.69" r="1.15" fill="#a20a26"/>
<circle cx="332.99" cy="232.14" r="1.15" fill="#a20a26"/>
<circle cx="325.05" cy="234.01" r="1.15" fill="#a20a26"/>
<circle cx="327.94" cy="234.59" r="1.15" fill="#a20a26"/>
<circle cx="330.39" cy="234.30" r="1.15" fill="#a20a26"/>
<circle cx="325.77" cy="237.48" r="1.15" fill="#a20a26"/>
<circle cx="328.66" cy="237.91" r="1.15" fill="#a20a26"/>
<circle cx="331.54" cy="237.48" r="1.15" fill="#a20a26"/>
<circle cx="325.05" cy="240.36" r="1.15" fill="#a20a26"/>
<circle cx="327.94" cy="240.80" r="1.15" fill="#a20a26"/>
<circle cx="330.39" cy="240.80" r="1.15" fill="#a20a26"/>
<circle cx="332.99" cy="240.08" r="1.15" fill="#a20a26"/>
<circle cx="325.48" cy="242.96" r="1.15" fill="#a20a26"/>
<circle cx="327.94" cy="243.68" r="1.15" fill="#a20a26"/>
<circle cx="330.10" cy="243.25" r="1.15" fill="#a20a26"/>
<circle cx="332.70" cy="243.25" r="1.15" fill="#a20a26"/>
<circle cx="326.49" cy="245.56" r="1.15" fill="#a20a26"/>
<circle cx="329.38" cy="245.85" r="1.15" fill="#a20a26"/>
<circle cx="331.54" cy="245.56" r="1.15" fill="#a20a26"/>
<circle cx="328.66" cy="247.00" r="1.15" fill="#a20a26"/>
<rect x="342.38" y="210.94" width="2.0" height="2.0" fill="#a20a26"/>
<rect x="344.97" y="213.82" width="2.0" height="2.0" fill="#a20a26"/>
<rect x="347.86" y="213.82" width="2.0" height="2.0" fill="#a20a26"/>
<rect x="347.86" y="218.87" width="2.0" height="2.0" fill="#a20a26"/>
<rect x="342.09" y="221.76" width="2.0" height="2.0" fill="#a20a26"/>
<rect x="344.97" y="221.04" width="2.0" height="2.0" fill="#a20a26"/>
<rect x="347.14" y="222.48" width="2.0" height="2.0" fill="#a20a26"/>
<rect x="349.30" y="222.91" width="2.0" height="2.0" fill="#a20a26"/>
<rect x="342.09" y="226.81" width="2.0" height="2.0" fill="#a20a26"/>
<rect x="344.97" y="227.53" width="2.0" height="2.0" fill="#a20a26"/>
<rect x="344.97" y="231.86" width="2.0" height="2.0" fill="#a20a26"/>
<rect x="343.82" y="234.46" width="2.0" height="2.0" fill="#a20a26"/>
<rect x="346.42" y="234.75" width="2.0" height="2.0" fill="#a20a26"/>
<rect x="348.58" y="236.19" width="2.0" height="2.0" fill="#a20a26"/>
<rect x="340.65" y="237.34" width="2.0" height="2.0" fill="#a20a26"/>
<rect x="343.53" y="237.63" width="2.0" height="2.0" fill="#a20a26"/>
<rect x="345.70" y="237.63" width="2.0" height="2.0" fill="#a20a26"/>
<rect x="348.58" y="237.63" width="2.0" height="2.0" fill="#a20a26"/>
<rect x="341.37" y="241.24" width="2.0" height="2.0" fill="#a20a26"/>
<rect x="343.53" y="241.67" width="2.0" height="2.0" fill="#a20a26"/>
<rect x="345.70" y="241.67" width="2.0" height="2.0" fill="#a20a26"/>
<rect x="347.86" y="241.67" width="2.0" height="2.0" fill="#a20a26"/>
<rect x="349.30" y="241.24" width="2.0" height="2.0" fill="#a20a26"/>
<rect x="344.97" y="246.00" width="2.0" height="2.0" fill="#a20a26"/>
<path d="M361.85,208.47L363.05,210.67L360.65,210.67Z" fill="#a20a26"/>
<path d="M364.73,208.47L365.93,210.67L363.53,210.67Z" fill="#a20a26"/>
<path d="M361.13,215.40L362.33,217.60L359.93,217.60Z" fill="#a20a26"/>
<path d="M363.29,217.13L364.49,219.33L362.09,219.33Z" fill="#a20a26"/>
<path d="M365.89,216.84L367.09,219.04L364.69,219.04Z" fill="#a20a26"/>
<path d="M363.29,221.75L364.49,223.95L362.09,223.95Z" fill="#a20a26"/>
<path d="M361.13,225.50L362.33,227.70L359.93,227.70Z" fill="#a20a26"/>
<path d="M364.01,226.08L365.21,228.28L362.81,228.28Z" fill="#a20a26"/>
<path d="M366.18,225.79L367.38,227.99L364.98,227.99Z" fill="#a20a26"/>
<path d="M361.85,231.27L363.05,233.47L360.65,233.47Z" fill="#a20a26"/>
<path d="M364.73,231.56L365.93,233.76L363.53,233.76Z" fill="#a20a26"/>
<path d="M359.68,233.72L360.88,235.92L358.48,235.92Z" fill="#a20a26"/>
<path d="M363.29,234.16L364.49,236.36L362.09,236.36Z" fill="#a20a26"/>
<path d="M366.90,234.16L368.10,236.36L365.70,236.36Z" fill="#a20a26"/>
<path d="M361.13,236.61L362.33,238.81L359.93,238.81Z" fill="#a20a26"/>
<path d="M363.29,237.33L364.49,239.53L362.09,239.53Z" fill="#a20a26"/>
<path d="M365.89,237.04L367.09,239.24L364.69,239.24Z" fill="#a20a26"/>
<path d="M360.12,239.93L361.32,242.13L358.92,242.13Z" fill="#a20a26"/>
<path d="M362.57,240.22L363.77,242.42L361.37,242.42Z" fill="#a20a26"/>
<path d="M365.02,240.51L366.22,242.71L363.82,242.71Z" fill="#a20a26"/>
<path d="M366.90,240.51L368.10,242.71L365.70,242.71Z" fill="#a20a26"/>
<path d="M361.85,242.38L363.05,244.58L360.65,244.58Z" fill="#a20a26"/>
<path d="M364.73,242.82L365.93,245.02L363.53,245.02Z" fill="#a20a26"/>
<path d="M362.57,245.70L363.77,247.90L361.37,247.90Z" fill="#a20a26"/>
<path d="M380.61,224.06L381.81,221.86L379.41,221.86Z" fill="#a20a26"/>
<path d="M377.72,238.78L378.92,236.58L376.52,236.58Z" fill="#a20a26"/>
<path d="M380.61,239.21L381.81,237.01L379.41,237.01Z" fill="#a20a26"/>
<path d="M383.49,238.20L384.69,236.00L382.29,236.00Z" fill="#a20a26"/>
<path d="M377.00,242.82L378.20,240.62L375.80,240.62Z" fill="#a20a26"/>
<path d="M379.88,243.11L381.08,240.91L378.68,240.91Z" fill="#a20a26"/>
<path d="M382.77,243.11L383.97,240.91L381.57,240.91Z" fill="#a20a26"/>
<path d="M384.94,242.53L386.14,240.33L383.74,240.33Z" fill="#a20a26"/>
<path d="M377.72,245.42L378.92,243.22L376.52,243.22Z" fill="#a20a26"/>
<path d="M380.61,245.70L381.81,243.50L379.41,243.50Z" fill="#a20a26"/>
<path d="M383.49,245.42L384.69,243.22L382.29,243.22Z" fill="#a20a26"/>
<path d="M379.16,247.87L380.36,245.67L377.96,245.67Z" fill="#a20a26"/>
<circle cx="450.95" cy="188.86" r="1.15" fill="#a20a26"/>
<rect x="467.26" y="171.70" width="2.0" height="2.0" fill="#a20a26"/>
<rect x="464.81" y="178.05" width="2.0" height="2.0" fill="#a20a26"/>
<rect x="467.26" y="178.91" width="2.0" height="2.0" fill="#a20a26"/>
<rect x="469.86" y="178.91" width="2.0" height="2.0" fill="#a20a26"/>
<rect x="465.82" y="197.67" width="2.0" height="2.0" fill="#a20a26"/>
<rect x="468.71" y="199.69" width="2.0" height="2.0" fill="#a20a26"/>
<rect x="466.97" y="202.58" width="2.0" height="2.0" fill="#a20a26"/>
<path d="M485.29,187.27L486.49,189.47L484.09,189.47Z" fill="#a20a26"/>
<path d="M502.61,196.22L503.81,194.02L501.41,194.02Z" fill="#a20a26"/>
<circle cx="451.38" cy="214.10" r="1.15" fill="#a20a26"/>
<circle cx="449.94" cy="217.71" r="1.15" fill="#a20a26"/>
<circle cx="452.10" cy="218.43" r="1.15" fill="#a20a26"/>
<circle cx="449.94" cy="221.32" r="1.15" fill="#a20a26"/>
<circle cx="452.39" cy="222.47" r="1.15" fill="#a20a26"/>
<circle cx="449.94" cy="224.92" r="1.15" fill="#a20a26"/>
<circle cx="448.49" cy="228.82" r="1.15" fill="#a20a26"/>
<circle cx="450.95" cy="229.25" r="1.15" fill="#a20a26"/>
<circle cx="453.54" cy="228.82" r="1.15" fill="#a20a26"/>
<circle cx="447.77" cy="231.13" r="1.15" fill="#a20a26"/>
<circle cx="450.37" cy="231.42" r="1.15" fill="#a20a26"/>
<circle cx="452.82" cy="231.13" r="1.15" fill="#a20a26"/>
<circle cx="454.99" cy="231.42" r="1.15" fill="#a20a26"/>
<circle cx="447.05" cy="234.59" r="1.15" fill="#a20a26"/>
<circle cx="449.22" cy="235.02" r="1.15" fill="#a20a26"/>
<circle cx="451.38" cy="235.02" r="1.15" fill="#a20a26"/>
<circle cx="453.54" cy="235.02" r="1.15" fill="#a20a26"/>
<circle cx="455.71" cy="234.59" r="1.15" fill="#a20a26"/>
<circle cx="447.05" cy="237.48" r="1.15" fill="#a20a26"/>
<circle cx="449.22" cy="237.91" r="1.15" fill="#a20a26"/>
<circle cx="451.38" cy="237.91" r="1.15" fill="#a20a26"/>
<circle cx="453.54" cy="237.48" r="1.15" fill="#a20a26"/>
<circle cx="455.71" cy="237.91" r="1.15" fill="#a20a26"/>
<circle cx="447.77" cy="241.52" r="1.15" fill="#a20a26"/>
<circle cx="449.94" cy="242.24" r="1.15" fill="#a20a26"/>
<circle cx="452.10" cy="241.81" r="1.15" fill="#a20a26"/>
<circle cx="454.27" cy="242.24" r="1.15" fill="#a20a26"/>
<circle cx="448.93" cy="244.40" r="1.15" fill="#a20a26"/>
<circle cx="450.95" cy="244.69" r="1.15" fill="#a20a26"/>
<circle cx="448.49" cy="242.96" r="1.15" fill="#a20a26"/>
<circle cx="453.26" cy="242.96" r="1.15" fill="#a20a26"/>
<rect x="466.25" y="203.72" width="2.0" height="2.0" fill="#a20a26"/>
<rect x="467.70" y="205.89" width="2.0" height="2.0" fill="#a20a26"/>
<rect x="463.37" y="209.49" width="2.0" height="2.0" fill="#a20a26"/>
<rect x="466.97" y="209.93" width="2.0" height="2.0" fill="#a20a26"/>
<rect x="470.58" y="209.49" width="2.0" height="2.0" fill="#a20a26"/>
<rect x="464.81" y="213.39" width="2.0" height="2.0" fill="#a20a26"/>
<rect x="467.70" y="213.10" width="2.0" height="2.0" fill="#a20a26"/>
<rect x="469.86" y="214.54" width="2.0" height="2.0" fill="#a20a26"/>
<rect x="463.37" y="221.04" width="2.0" height="2.0" fill="#a20a26"/>
<rect x="465.53" y="221.47" width="2.0" height="2.0" fill="#a20a26"/>
<rect x="467.70" y="221.76" width="2.0" height="2.0" fill="#a20a26"/>
<rect x="470.58" y="221.47" width="2.0" height="2.0" fill="#a20a26"/>
<rect x="464.81" y="225.80" width="2.0" height="2.0" fill="#a20a26"/>
<rect x="468.42" y="225.80" width="2.0" height="2.0" fill="#a20a26"/>
<rect x="466.97" y="229.70" width="2.0" height="2.0" fill="#a20a26"/>
<rect x="468.42" y="232.58" width="2.0" height="2.0" fill="#a20a26"/>
<rect x="465.53" y="233.59" width="2.0" height="2.0" fill="#a20a26"/>
<rect x="462.65" y="235.90" width="2.0" height="2.0" fill="#a20a26"/>
<rect x="464.81" y="236.48" width="2.0" height="2.0" fill="#a20a26"/>
<rect x="467.70" y="236.48" width="2.0" height="2.0" fill="#a20a26"/>
<rect x="470.58" y="236.91" width="2.0" height="2.0" fill="#a20a26"/>
<rect x="466.25" y="237.63" width="2.0" height="2.0" fill="#a20a26"/>
<rect x="466.97" y="241.24" width="2.0" height="2.0" fill="#a20a26"/>
<path d="M483.13,205.59L484.33,207.79L481.93,207.79Z" fill="#a20a26"/>
<path d="M485.29,205.59L486.49,207.79L484.09,207.79Z" fill="#a20a26"/>
<path d="M488.18,205.87L489.38,208.07L486.98,208.07Z" fill="#a20a26"/>
<path d="M483.13,209.19L484.33,211.39L481.93,211.39Z" fill="#a20a26"/>
<path d="M486.01,209.19L487.21,211.39L484.81,211.39Z" fill="#a20a26"/>
<path d="M488.18,209.63L489.38,211.83L486.98,211.83Z" fill="#a20a26"/>
<path d="M483.13,213.09L484.33,215.29L481.93,215.29Z" fill="#a20a26"/>
<path d="M485.29,213.52L486.49,215.72L484.09,215.72Z" fill="#a20a26"/>
<path d="M487.89,213.09L489.09,215.29L486.69,215.29Z" fill="#a20a26"/>
<path d="M482.40,216.41L483.60,218.61L481.20,218.61Z" fill="#a20a26"/>
<path d="M484.57,217.13L485.77,219.33L483.37,219.33Z" fill="#a20a26"/>
<path d="M487.02,216.84L488.22,219.04L485.82,219.04Z" fill="#a20a26"/>
<path d="M488.90,216.41L490.10,218.61L487.70,218.61Z" fill="#a20a26"/>
<path d="M483.85,219.73L485.05,221.93L482.65,221.93Z" fill="#a20a26"/>
<path d="M486.73,219.73L487.93,221.93L485.53,221.93Z" fill="#a20a26"/>
<path d="M481.68,223.62L482.88,225.82L480.48,225.82Z" fill="#a20a26"/>
<path d="M484.57,224.06L485.77,226.26L483.37,226.26Z" fill="#a20a26"/>
<path d="M487.45,224.35L488.65,226.55L486.25,226.55Z" fill="#a20a26"/>
<path d="M489.62,223.62L490.82,225.82L488.42,225.82Z" fill="#a20a26"/>
<path d="M483.13,229.40L484.33,231.60L481.93,231.60Z" fill="#a20a26"/>
<path d="M485.29,228.96L486.49,231.16L484.09,231.16Z" fill="#a20a26"/>
<path d="M487.45,229.83L488.65,232.03L486.25,232.03Z" fill="#a20a26"/>
<path d="M482.40,231.56L483.60,233.76L481.20,233.76Z" fill="#a20a26"/>
<path d="M485.29,232.28L486.49,234.48L484.09,234.48Z" fill="#a20a26"/>
<path d="M487.89,231.56L489.09,233.76L486.69,233.76Z" fill="#a20a26"/>
<path d="M483.56,233.72L484.76,235.92L482.36,235.92Z" fill="#a20a26"/>
<path d="M487.02,234.16L488.22,236.36L485.82,236.36Z" fill="#a20a26"/>
<path d="M485.29,236.18L486.49,238.38L484.09,238.38Z" fill="#a20a26"/>
<path d="M500.44,208.91L501.64,206.71L499.24,206.71Z" fill="#a20a26"/>
<path d="M504.77,209.34L505.97,207.14L503.57,207.14Z" fill="#a20a26"/>
<path d="M502.61,211.79L503.81,209.59L501.41,209.59Z" fill="#a20a26"/>
<path d="M499.72,215.69L500.92,213.49L498.52,213.49Z" fill="#a20a26"/>
<path d="M502.61,216.12L503.81,213.92L501.41,213.92Z" fill="#a20a26"/>
<path d="M505.49,215.69L506.69,213.49L504.29,213.49Z" fill="#a20a26"/>
<path d="M500.44,219.73L501.64,217.53L499.24,217.53Z" fill="#a20a26"/>
<path d="M503.33,219.73L504.53,217.53L502.13,217.53Z" fill="#a20a26"/>
<path d="M505.49,219.73L506.69,217.53L504.29,217.53Z" fill="#a20a26"/>
<path d="M501.16,223.77L502.36,221.57L499.96,221.57Z" fill="#a20a26"/>
<path d="M503.33,224.06L504.53,221.86L502.13,221.86Z" fill="#a20a26"/>
<path d="M499.72,226.95L500.92,224.75L498.52,224.75Z" fill="#a20a26"/>
<path d="M502.61,227.67L503.81,225.47L501.41,225.47Z" fill="#a20a26"/>
<path d="M505.49,226.95L506.69,224.75L504.29,224.75Z" fill="#a20a26"/>
<path d="M500.44,230.12L501.64,227.92L499.24,227.92Z" fill="#a20a26"/>
<path d="M502.61,230.55L503.81,228.35L501.41,228.35Z" fill="#a20a26"/>
<path d="M505.49,229.83L506.69,227.63L504.29,227.63Z" fill="#a20a26"/>
<path d="M499.43,232.00L500.63,229.80L498.23,229.80Z" fill="#a20a26"/>
<path d="M501.88,232.43L503.08,230.23L500.68,230.23Z" fill="#a20a26"/>
<path d="M504.77,232.72L505.97,230.52L503.57,230.52Z" fill="#a20a26"/>
<path d="M506.94,232.00L508.14,229.80L505.74,229.80Z" fill="#a20a26"/>
<path d="M501.16,234.88L502.36,232.68L499.96,232.68Z" fill="#a20a26"/>
<path d="M504.05,235.60L505.25,233.40L502.85,233.40Z" fill="#a20a26"/>
<path d="M506.94,235.89L508.14,233.69L505.74,233.69Z" fill="#a20a26"/>
<path d="M503.33,237.33L504.53,235.13L502.13,235.13Z" fill="#a20a26"/>
<path d="M502.61,241.66L503.81,239.46L501.41,239.46Z" fill="#a20a26"/>
<line x1="79.13" y1="122.27" x2="92.36" y2="122.27" stroke="#111" stroke-width="1.4" />
<line x1="97.62" y1="101.64" x2="110.57" y2="101.64" stroke="#111" stroke-width="1.4" />
<line x1="116.11" y1="123.41" x2="128.92" y2="123.41" stroke="#111" stroke-width="1.4" />
<line x1="134.04" y1="123.12" x2="146.70" y2="123.12" stroke="#111" stroke-width="1.4" />
<line x1="200.61" y1="119.30" x2="213.59" y2="119.30" stroke="#111" stroke-width="1.4" />
<line x1="218.93" y1="112.23" x2="231.63" y2="112.23" stroke="#111" stroke-width="1.4" />
<line x1="237.40" y1="121.90" x2="250.10" y2="121.90" stroke="#111" stroke-width="1.4" />
<line x1="255.87" y1="121.90" x2="268.43" y2="121.90" stroke="#111" stroke-width="1.4" />
<line x1="323.17" y1="98.59" x2="335.58" y2="98.59" stroke="#111" stroke-width="1.4" />
<line x1="340.20" y1="85.17" x2="352.90" y2="85.17" stroke="#111" stroke-width="1.4" />
<line x1="357.81" y1="92.82" x2="370.79" y2="92.82" stroke="#111" stroke-width="1.4" />
<line x1="375.27" y1="109.13" x2="388.11" y2="109.13" stroke="#111" stroke-width="1.4" />
<line x1="445.17" y1="112.86" x2="457.58" y2="112.86" stroke="#111" stroke-width="1.4" />
<line x1="462.20" y1="95.98" x2="474.90" y2="95.98" stroke="#111" stroke-width="1.4" />
<line x1="479.81" y1="111.42" x2="491.78" y2="111.42" stroke="#111" stroke-width="1.4" />
<line x1="496.83" y1="111.42" x2="509.10" y2="111.42" stroke="#111" stroke-width="1.4" />
<line x1="79.56" y1="242.12" x2="91.93" y2="242.12" stroke="#111" stroke-width="1.4" />
<line x1="97.62" y1="225.05" x2="110.14" y2="225.05" stroke="#111" stroke-width="1.4" />
<line x1="115.83" y1="242.41" x2="127.92" y2="242.41" stroke="#111" stroke-width="1.4" />
<line x1="133.61" y1="242.41" x2="145.99" y2="242.41" stroke="#111" stroke-width="1.4" />
<line x1="200.61" y1="241.23" x2="212.87" y2="241.23" stroke="#111" stroke-width="1.4" />
<line x1="217.92" y1="227.38" x2="230.48" y2="227.38" stroke="#111" stroke-width="1.4" />
<line x1="235.67" y1="237.48" x2="248.23" y2="237.48" stroke="#111" stroke-width="1.4" />
<line x1="253.71" y1="242.67" x2="265.25" y2="242.67" stroke="#111" stroke-width="1.4" />
<line x1="323.17" y1="237.19" x2="335.15" y2="237.19" stroke="#111" stroke-width="1.4" />
<line x1="340.20" y1="223.91" x2="352.90" y2="223.91" stroke="#111" stroke-width="1.4" />
<line x1="357.23" y1="229.25" x2="369.78" y2="229.25" stroke="#111" stroke-width="1.4" />
<line x1="374.83" y1="241.81" x2="386.67" y2="241.81" stroke="#111" stroke-width="1.4" />
<line x1="445.17" y1="232.86" x2="457.15" y2="232.86" stroke="#111" stroke-width="1.4" />
<line x1="462.20" y1="216.70" x2="474.90" y2="216.70" stroke="#111" stroke-width="1.4" />
<line x1="479.23" y1="220.59" x2="491.78" y2="220.59" stroke="#111" stroke-width="1.4" />
<line x1="496.55" y1="224.92" x2="508.67" y2="224.92" stroke="#111" stroke-width="1.4" />
<circle cx="108.35" cy="321.40" r="1.3" fill="#a20a26"/>
<circle cx="141.22" cy="341.47" r="1.3" fill="#a20a26"/>
<circle cx="136.03" cy="348.74" r="1.3" fill="#a20a26"/>
<circle cx="143.82" cy="351.33" r="1.3" fill="#a20a26"/>
<circle cx="96.24" cy="353.41" r="1.3" fill="#a20a26"/>
<circle cx="120.98" cy="351.68" r="1.3" fill="#a20a26"/>
<circle cx="118.39" cy="353.93" r="1.3" fill="#a20a26"/>
<circle cx="88.98" cy="356.18" r="1.3" fill="#a20a26"/>
<circle cx="115.79" cy="357.39" r="1.3" fill="#a20a26"/>
<circle cx="132.23" cy="357.04" r="1.3" fill="#a20a26"/>
<circle cx="149.18" cy="356.00" r="1.3" fill="#a20a26"/>
<circle cx="150.39" cy="358.60" r="1.3" fill="#a20a26"/>
<circle cx="118.91" cy="359.64" r="1.3" fill="#a20a26"/>
<circle cx="94.17" cy="361.37" r="1.3" fill="#a20a26"/>
<circle cx="121.50" cy="362.06" r="1.3" fill="#a20a26"/>
<circle cx="125.83" cy="360.85" r="1.3" fill="#a20a26"/>
<circle cx="139.49" cy="359.98" r="1.3" fill="#a20a26"/>
<circle cx="159.04" cy="360.33" r="1.3" fill="#a20a26"/>
<circle cx="86.73" cy="363.10" r="1.3" fill="#a20a26"/>
<circle cx="101.43" cy="362.92" r="1.3" fill="#a20a26"/>
<circle cx="104.20" cy="362.92" r="1.3" fill="#a20a26"/>
<circle cx="99.70" cy="366.04" r="1.3" fill="#a20a26"/>
<circle cx="128.77" cy="366.04" r="1.3" fill="#a20a26"/>
<circle cx="129.63" cy="366.56" r="1.3" fill="#a20a26"/>
<circle cx="148.66" cy="365.17" r="1.3" fill="#a20a26"/>
<circle cx="152.12" cy="364.83" r="1.3" fill="#a20a26"/>
<circle cx="152.64" cy="365.69" r="1.3" fill="#a20a26"/>
<circle cx="101.95" cy="368.11" r="1.3" fill="#a20a26"/>
<circle cx="105.76" cy="368.11" r="1.3" fill="#a20a26"/>
<circle cx="113.72" cy="367.42" r="1.3" fill="#a20a26"/>
<circle cx="114.58" cy="367.42" r="1.3" fill="#a20a26"/>
<circle cx="115.79" cy="367.25" r="1.3" fill="#a20a26"/>
<circle cx="121.85" cy="368.11" r="1.3" fill="#a20a26"/>
<circle cx="95.55" cy="368.81" r="1.3" fill="#a20a26"/>
<circle cx="88.98" cy="369.67" r="1.3" fill="#a20a26"/>
<circle cx="135.17" cy="369.15" r="1.3" fill="#a20a26"/>
<circle cx="160.78" cy="367.42" r="1.3" fill="#a20a26"/>
<circle cx="305.20" cy="306.20" r="1.3" fill="#a20a26"/>
<circle cx="281.87" cy="322.46" r="1.3" fill="#a20a26"/>
<circle cx="284.46" cy="331.11" r="1.3" fill="#a20a26"/>
<circle cx="295.71" cy="336.82" r="1.3" fill="#a20a26"/>
<circle cx="313.18" cy="341.14" r="1.3" fill="#a20a26"/>
<circle cx="279.45" cy="346.33" r="1.3" fill="#a20a26"/>
<circle cx="312.66" cy="346.68" r="1.3" fill="#a20a26"/>
<circle cx="315.61" cy="347.20" r="1.3" fill="#a20a26"/>
<circle cx="302.63" cy="348.41" r="1.3" fill="#a20a26"/>
<circle cx="288.96" cy="351.18" r="1.3" fill="#a20a26"/>
<circle cx="291.90" cy="352.91" r="1.3" fill="#a20a26"/>
<circle cx="322.53" cy="351.00" r="1.3" fill="#a20a26"/>
<circle cx="272.01" cy="355.85" r="1.3" fill="#a20a26"/>
<circle cx="278.06" cy="359.31" r="1.3" fill="#a20a26"/>
<circle cx="285.33" cy="359.65" r="1.3" fill="#a20a26"/>
<circle cx="292.77" cy="361.04" r="1.3" fill="#a20a26"/>
<circle cx="298.48" cy="362.77" r="1.3" fill="#a20a26"/>
<circle cx="300.03" cy="364.84" r="1.3" fill="#a20a26"/>
<circle cx="282.04" cy="364.50" r="1.3" fill="#a20a26"/>
<circle cx="285.33" cy="363.98" r="1.3" fill="#a20a26"/>
<circle cx="259.03" cy="365.02" r="1.3" fill="#a20a26"/>
<circle cx="265.09" cy="365.02" r="1.3" fill="#a20a26"/>
<circle cx="265.95" cy="365.36" r="1.3" fill="#a20a26"/>
<circle cx="252.11" cy="366.75" r="1.3" fill="#a20a26"/>
<circle cx="307.47" cy="366.75" r="1.3" fill="#a20a26"/>
<circle cx="312.66" cy="365.88" r="1.3" fill="#a20a26"/>
<circle cx="316.47" cy="366.75" r="1.3" fill="#a20a26"/>
<circle cx="263.36" cy="370.21" r="1.3" fill="#a20a26"/>
<circle cx="267.68" cy="370.55" r="1.3" fill="#a20a26"/>
<circle cx="269.07" cy="369.69" r="1.3" fill="#a20a26"/>
<circle cx="250.03" cy="371.42" r="1.3" fill="#a20a26"/>
<circle cx="251.76" cy="370.90" r="1.3" fill="#a20a26"/>
<circle cx="277.20" cy="371.07" r="1.3" fill="#a20a26"/>
<circle cx="278.93" cy="370.90" r="1.3" fill="#a20a26"/>
<circle cx="324.26" cy="369.34" r="1.3" fill="#a20a26"/>
<circle cx="440.04" cy="305.71" r="1.3" fill="#a20a26"/>
<circle cx="437.79" cy="340.14" r="1.3" fill="#a20a26"/>
<circle cx="462.88" cy="342.39" r="1.3" fill="#a20a26"/>
<circle cx="480.70" cy="338.41" r="1.3" fill="#a20a26"/>
<circle cx="470.66" cy="346.37" r="1.3" fill="#a20a26"/>
<circle cx="473.61" cy="349.83" r="1.3" fill="#a20a26"/>
<circle cx="443.50" cy="357.44" r="1.3" fill="#a20a26"/>
<circle cx="442.64" cy="360.21" r="1.3" fill="#a20a26"/>
<circle cx="465.47" cy="359.69" r="1.3" fill="#a20a26"/>
<circle cx="458.21" cy="361.42" r="1.3" fill="#a20a26"/>
<circle cx="447.31" cy="362.63" r="1.3" fill="#a20a26"/>
<circle cx="453.71" cy="364.01" r="1.3" fill="#a20a26"/>
<circle cx="416.17" cy="364.01" r="1.3" fill="#a20a26"/>
<circle cx="427.41" cy="366.09" r="1.3" fill="#a20a26"/>
<circle cx="439.18" cy="363.15" r="1.3" fill="#a20a26"/>
<circle cx="437.45" cy="366.61" r="1.3" fill="#a20a26"/>
<circle cx="423.95" cy="369.20" r="1.3" fill="#a20a26"/>
<circle cx="422.22" cy="370.59" r="1.3" fill="#a20a26"/>
<circle cx="436.06" cy="369.20" r="1.3" fill="#a20a26"/>
<circle cx="435.20" cy="370.59" r="1.3" fill="#a20a26"/>
<circle cx="449.90" cy="369.55" r="1.3" fill="#a20a26"/>
<circle cx="450.77" cy="370.59" r="1.3" fill="#a20a26"/>
<circle cx="443.50" cy="370.42" r="1.3" fill="#a20a26"/>
<circle cx="470.66" cy="366.61" r="1.3" fill="#a20a26"/>
<circle cx="408.38" cy="370.93" r="1.3" fill="#a20a26"/>
<circle cx="410.98" cy="369.55" r="1.3" fill="#a20a26"/>
<circle cx="410.11" cy="373.53" r="1.3" fill="#a20a26"/>
<circle cx="417.90" cy="373.53" r="1.3" fill="#a20a26"/>
<circle cx="421.01" cy="372.32" r="1.3" fill="#a20a26"/>
<circle cx="456.82" cy="372.15" r="1.3" fill="#a20a26"/>
<circle cx="474.99" cy="372.15" r="1.3" fill="#a20a26"/>
<circle cx="482.43" cy="370.59" r="1.3" fill="#a20a26"/>
<circle cx="122.37" cy="416.25" r="1.3" fill="#a20a26"/>
<circle cx="124.10" cy="423.69" r="1.3" fill="#a20a26"/>
<circle cx="138.63" cy="422.30" r="1.3" fill="#a20a26"/>
<circle cx="155.24" cy="423.51" r="1.3" fill="#a20a26"/>
<circle cx="129.98" cy="428.01" r="1.3" fill="#a20a26"/>
<circle cx="134.82" cy="433.55" r="1.3" fill="#a20a26"/>
<circle cx="147.28" cy="433.20" r="1.3" fill="#a20a26"/>
<circle cx="148.66" cy="433.20" r="1.3" fill="#a20a26"/>
<circle cx="118.91" cy="439.60" r="1.3" fill="#a20a26"/>
<circle cx="96.24" cy="443.58" r="1.3" fill="#a20a26"/>
<circle cx="127.90" cy="444.45" r="1.3" fill="#a20a26"/>
<circle cx="91.57" cy="448.60" r="1.3" fill="#a20a26"/>
<circle cx="127.90" cy="449.46" r="1.3" fill="#a20a26"/>
<circle cx="143.99" cy="449.12" r="1.3" fill="#a20a26"/>
<circle cx="89.84" cy="453.10" r="1.3" fill="#a20a26"/>
<circle cx="122.71" cy="455.52" r="1.3" fill="#a20a26"/>
<circle cx="111.47" cy="454.83" r="1.3" fill="#a20a26"/>
<circle cx="107.14" cy="457.42" r="1.3" fill="#a20a26"/>
<circle cx="89.84" cy="457.77" r="1.3" fill="#a20a26"/>
<circle cx="97.11" cy="457.77" r="1.3" fill="#a20a26"/>
<circle cx="93.30" cy="460.02" r="1.3" fill="#a20a26"/>
<circle cx="119.25" cy="460.36" r="1.3" fill="#a20a26"/>
<circle cx="109.22" cy="462.09" r="1.3" fill="#a20a26"/>
<circle cx="97.28" cy="464.34" r="1.3" fill="#a20a26"/>
<circle cx="127.90" cy="461.75" r="1.3" fill="#a20a26"/>
<circle cx="127.90" cy="465.03" r="1.3" fill="#a20a26"/>
<circle cx="121.85" cy="465.90" r="1.3" fill="#a20a26"/>
<circle cx="133.09" cy="465.90" r="1.3" fill="#a20a26"/>
<circle cx="134.82" cy="464.69" r="1.3" fill="#a20a26"/>
<circle cx="86.38" cy="468.67" r="1.3" fill="#a20a26"/>
<circle cx="127.56" cy="469.88" r="1.3" fill="#a20a26"/>
<circle cx="90.36" cy="472.13" r="1.3" fill="#a20a26"/>
<circle cx="319.07" cy="425.76" r="1.3" fill="#a20a26"/>
<circle cx="293.11" cy="430.09" r="1.3" fill="#a20a26"/>
<circle cx="301.94" cy="434.07" r="1.3" fill="#a20a26"/>
<circle cx="298.30" cy="436.14" r="1.3" fill="#a20a26"/>
<circle cx="285.85" cy="437.35" r="1.3" fill="#a20a26"/>
<circle cx="291.04" cy="440.81" r="1.3" fill="#a20a26"/>
<circle cx="311.28" cy="439.08" r="1.3" fill="#a20a26"/>
<circle cx="282.21" cy="451.71" r="1.3" fill="#a20a26"/>
<circle cx="307.47" cy="449.98" r="1.3" fill="#a20a26"/>
<circle cx="282.39" cy="457.77" r="1.3" fill="#a20a26"/>
<circle cx="274.60" cy="458.29" r="1.3" fill="#a20a26"/>
<circle cx="287.58" cy="459.50" r="1.3" fill="#a20a26"/>
<circle cx="291.56" cy="455.52" r="1.3" fill="#a20a26"/>
<circle cx="312.32" cy="460.88" r="1.3" fill="#a20a26"/>
<circle cx="270.80" cy="465.03" r="1.3" fill="#a20a26"/>
<circle cx="291.38" cy="465.55" r="1.3" fill="#a20a26"/>
<circle cx="297.96" cy="464.69" r="1.3" fill="#a20a26"/>
<circle cx="286.37" cy="468.15" r="1.3" fill="#a20a26"/>
<circle cx="291.38" cy="471.09" r="1.3" fill="#a20a26"/>
<circle cx="296.23" cy="469.88" r="1.3" fill="#a20a26"/>
<circle cx="285.33" cy="475.93" r="1.3" fill="#a20a26"/>
<circle cx="256.44" cy="473.34" r="1.3" fill="#a20a26"/>
<circle cx="254.71" cy="475.93" r="1.3" fill="#a20a26"/>
<circle cx="253.49" cy="476.80" r="1.3" fill="#a20a26"/>
<circle cx="258.17" cy="476.80" r="1.3" fill="#a20a26"/>
<circle cx="260.76" cy="478.01" r="1.3" fill="#a20a26"/>
<circle cx="252.46" cy="478.01" r="1.3" fill="#a20a26"/>
<circle cx="250.38" cy="479.39" r="1.3" fill="#a20a26"/>
<circle cx="253.84" cy="479.74" r="1.3" fill="#a20a26"/>
<circle cx="272.53" cy="479.05" r="1.3" fill="#a20a26"/>
<circle cx="444.37" cy="420.92" r="1.3" fill="#a20a26"/>
<circle cx="451.63" cy="437.35" r="1.3" fill="#a20a26"/>
<circle cx="469.80" cy="439.26" r="1.3" fill="#a20a26"/>
<circle cx="460.63" cy="447.91" r="1.3" fill="#a20a26"/>
<circle cx="477.24" cy="463.30" r="1.3" fill="#a20a26"/>
<circle cx="440.91" cy="466.07" r="1.3" fill="#a20a26"/>
<circle cx="456.82" cy="468.15" r="1.3" fill="#a20a26"/>
<circle cx="470.66" cy="471.26" r="1.3" fill="#a20a26"/>
<circle cx="449.90" cy="471.26" r="1.3" fill="#a20a26"/>
<circle cx="440.91" cy="471.61" r="1.3" fill="#a20a26"/>
<circle cx="444.37" cy="473.34" r="1.3" fill="#a20a26"/>
<circle cx="433.47" cy="470.40" r="1.3" fill="#a20a26"/>
<circle cx="429.14" cy="472.13" r="1.3" fill="#a20a26"/>
<circle cx="417.90" cy="473.86" r="1.3" fill="#a20a26"/>
<circle cx="419.11" cy="475.93" r="1.3" fill="#a20a26"/>
<circle cx="417.38" cy="476.28" r="1.3" fill="#a20a26"/>
<circle cx="408.38" cy="476.45" r="1.3" fill="#a20a26"/>
<circle cx="412.19" cy="477.32" r="1.3" fill="#a20a26"/>
<circle cx="414.96" cy="477.66" r="1.3" fill="#a20a26"/>
<circle cx="411.84" cy="479.74" r="1.3" fill="#a20a26"/>
<circle cx="413.57" cy="480.78" r="1.3" fill="#a20a26"/>
<circle cx="443.33" cy="477.32" r="1.3" fill="#a20a26"/>
<circle cx="449.56" cy="475.93" r="1.3" fill="#a20a26"/>
<circle cx="449.56" cy="477.66" r="1.3" fill="#a20a26"/>
<circle cx="449.56" cy="479.05" r="1.3" fill="#a20a26"/>
<circle cx="455.09" cy="476.28" r="1.3" fill="#a20a26"/>
<circle cx="456.48" cy="480.78" r="1.3" fill="#a20a26"/>
<circle cx="82.92" cy="560.73" r="1.3" fill="#a20a26"/>
<circle cx="150.39" cy="587.20" r="1.3" fill="#a20a26"/>
<circle cx="103.16" cy="589.45" r="1.3" fill="#a20a26"/>
<circle cx="119.60" cy="591.52" r="1.3" fill="#a20a26"/>
<circle cx="113.20" cy="595.50" r="1.3" fill="#a20a26"/>
<circle cx="118.39" cy="596.71" r="1.3" fill="#a20a26"/>
<circle cx="124.96" cy="594.46" r="1.3" fill="#a20a26"/>
<circle cx="87.25" cy="599.31" r="1.3" fill="#a20a26"/>
<circle cx="85.52" cy="601.90" r="1.3" fill="#a20a26"/>
<circle cx="84.65" cy="603.63" r="1.3" fill="#a20a26"/>
<circle cx="83.79" cy="605.02" r="1.3" fill="#a20a26"/>
<circle cx="91.22" cy="603.98" r="1.3" fill="#a20a26"/>
<circle cx="82.92" cy="608.82" r="1.3" fill="#a20a26"/>
<circle cx="85.52" cy="609.69" r="1.3" fill="#a20a26"/>
<circle cx="90.71" cy="609.69" r="1.3" fill="#a20a26"/>
<circle cx="92.96" cy="610.55" r="1.3" fill="#a20a26"/>
<circle cx="97.63" cy="608.82" r="1.3" fill="#a20a26"/>
<circle cx="96.76" cy="609.69" r="1.3" fill="#a20a26"/>
<circle cx="81.19" cy="611.94" r="1.3" fill="#a20a26"/>
<circle cx="80.33" cy="612.63" r="1.3" fill="#a20a26"/>
<circle cx="82.57" cy="613.15" r="1.3" fill="#a20a26"/>
<circle cx="86.38" cy="612.28" r="1.3" fill="#a20a26"/>
<circle cx="94.69" cy="613.67" r="1.3" fill="#a20a26"/>
<circle cx="99.01" cy="612.28" r="1.3" fill="#a20a26"/>
<circle cx="108.01" cy="606.23" r="1.3" fill="#a20a26"/>
<circle cx="115.27" cy="613.67" r="1.3" fill="#a20a26"/>
<circle cx="78.60" cy="616.26" r="1.3" fill="#a20a26"/>
<circle cx="83.79" cy="616.61" r="1.3" fill="#a20a26"/>
<circle cx="82.57" cy="617.99" r="1.3" fill="#a20a26"/>
<circle cx="84.65" cy="617.47" r="1.3" fill="#a20a26"/>
<circle cx="103.68" cy="617.47" r="1.3" fill="#a20a26"/>
<circle cx="104.55" cy="618.34" r="1.3" fill="#a20a26"/>
<circle cx="164.24" cy="620.07" r="1.3" fill="#a20a26"/>
<circle cx="248.30" cy="554.33" r="1.3" fill="#a20a26"/>
<circle cx="288.96" cy="557.27" r="1.3" fill="#a20a26"/>
<circle cx="283.25" cy="562.63" r="1.3" fill="#a20a26"/>
<circle cx="278.93" cy="590.66" r="1.3" fill="#a20a26"/>
<circle cx="250.03" cy="601.56" r="1.3" fill="#a20a26"/>
<circle cx="251.25" cy="600.52" r="1.3" fill="#a20a26"/>
<circle cx="258.51" cy="602.25" r="1.3" fill="#a20a26"/>
<circle cx="276.85" cy="603.98" r="1.3" fill="#a20a26"/>
<circle cx="314.05" cy="601.90" r="1.3" fill="#a20a26"/>
<circle cx="246.57" cy="610.90" r="1.3" fill="#a20a26"/>
<circle cx="281.52" cy="611.76" r="1.3" fill="#a20a26"/>
<circle cx="261.63" cy="613.67" r="1.3" fill="#a20a26"/>
<circle cx="267.34" cy="613.67" r="1.3" fill="#a20a26"/>
<circle cx="242.60" cy="616.61" r="1.3" fill="#a20a26"/>
<circle cx="246.06" cy="616.61" r="1.3" fill="#a20a26"/>
<circle cx="254.19" cy="616.09" r="1.3" fill="#a20a26"/>
<circle cx="255.92" cy="617.47" r="1.3" fill="#a20a26"/>
<circle cx="262.15" cy="617.82" r="1.3" fill="#a20a26"/>
<circle cx="266.82" cy="617.82" r="1.3" fill="#a20a26"/>
<circle cx="272.01" cy="618.34" r="1.3" fill="#a20a26"/>
<circle cx="243.46" cy="620.07" r="1.3" fill="#a20a26"/>
<circle cx="245.19" cy="620.59" r="1.3" fill="#a20a26"/>
<circle cx="246.92" cy="619.55" r="1.3" fill="#a20a26"/>
<circle cx="247.79" cy="620.93" r="1.3" fill="#a20a26"/>
<circle cx="249.52" cy="621.28" r="1.3" fill="#a20a26"/>
<circle cx="260.42" cy="620.59" r="1.3" fill="#a20a26"/>
<circle cx="268.03" cy="620.93" r="1.3" fill="#a20a26"/>
<circle cx="327.37" cy="618.86" r="1.3" fill="#a20a26"/>
<circle cx="486.24" cy="570.24" r="1.3" fill="#a20a26"/>
<circle cx="447.31" cy="575.61" r="1.3" fill="#a20a26"/>
<circle cx="441.60" cy="585.99" r="1.3" fill="#a20a26"/>
<circle cx="437.45" cy="587.72" r="1.3" fill="#a20a26"/>
<circle cx="425.16" cy="591.18" r="1.3" fill="#a20a26"/>
<circle cx="407.00" cy="592.56" r="1.3" fill="#a20a26"/>
<circle cx="409.25" cy="597.92" r="1.3" fill="#a20a26"/>
<circle cx="413.22" cy="601.04" r="1.3" fill="#a20a26"/>
<circle cx="420.15" cy="603.29" r="1.3" fill="#a20a26"/>
<circle cx="435.20" cy="604.84" r="1.3" fill="#a20a26"/>
<circle cx="416.69" cy="607.09" r="1.3" fill="#a20a26"/>
<circle cx="407.00" cy="609.17" r="1.3" fill="#a20a26"/>
<circle cx="412.71" cy="609.69" r="1.3" fill="#a20a26"/>
<circle cx="425.68" cy="609.69" r="1.3" fill="#a20a26"/>
<circle cx="430.01" cy="611.42" r="1.3" fill="#a20a26"/>
<circle cx="439.87" cy="611.76" r="1.3" fill="#a20a26"/>
<circle cx="405.27" cy="612.63" r="1.3" fill="#a20a26"/>
<circle cx="406.30" cy="613.67" r="1.3" fill="#a20a26"/>
<circle cx="407.52" cy="613.15" r="1.3" fill="#a20a26"/>
<circle cx="404.92" cy="614.88" r="1.3" fill="#a20a26"/>
<circle cx="420.49" cy="614.88" r="1.3" fill="#a20a26"/>
<circle cx="418.76" cy="615.74" r="1.3" fill="#a20a26"/>
<circle cx="426.55" cy="617.82" r="1.3" fill="#a20a26"/>
<circle cx="415.30" cy="619.20" r="1.3" fill="#a20a26"/>
<circle cx="401.11" cy="619.55" r="1.3" fill="#a20a26"/>
<circle cx="403.19" cy="618.86" r="1.3" fill="#a20a26"/>
<circle cx="405.27" cy="619.55" r="1.3" fill="#a20a26"/>
<circle cx="406.30" cy="620.59" r="1.3" fill="#a20a26"/>
<circle cx="408.38" cy="620.93" r="1.3" fill="#a20a26"/>
<circle cx="404.06" cy="620.93" r="1.3" fill="#a20a26"/>
<circle cx="82.06" cy="674.90" r="1.3" fill="#a20a26"/>
<circle cx="151.26" cy="669.36" r="1.3" fill="#a20a26"/>
<circle cx="155.24" cy="675.24" r="1.3" fill="#a20a26"/>
<circle cx="163.89" cy="675.42" r="1.3" fill="#a20a26"/>
<circle cx="109.74" cy="690.99" r="1.3" fill="#a20a26"/>
<circle cx="124.79" cy="692.20" r="1.3" fill="#a20a26"/>
<circle cx="133.44" cy="695.14" r="1.3" fill="#a20a26"/>
<circle cx="115.79" cy="696.87" r="1.3" fill="#a20a26"/>
<circle cx="88.63" cy="697.39" r="1.3" fill="#a20a26"/>
<circle cx="95.03" cy="702.23" r="1.3" fill="#a20a26"/>
<circle cx="101.95" cy="702.58" r="1.3" fill="#a20a26"/>
<circle cx="105.07" cy="700.85" r="1.3" fill="#a20a26"/>
<circle cx="107.66" cy="701.19" r="1.3" fill="#a20a26"/>
<circle cx="99.36" cy="705.17" r="1.3" fill="#a20a26"/>
<circle cx="106.80" cy="706.56" r="1.3" fill="#a20a26"/>
<circle cx="118.91" cy="703.96" r="1.3" fill="#a20a26"/>
<circle cx="87.76" cy="708.29" r="1.3" fill="#a20a26"/>
<circle cx="83.79" cy="710.36" r="1.3" fill="#a20a26"/>
<circle cx="100.74" cy="710.02" r="1.3" fill="#a20a26"/>
<circle cx="91.57" cy="713.82" r="1.3" fill="#a20a26"/>
<circle cx="103.16" cy="716.94" r="1.3" fill="#a20a26"/>
<circle cx="105.76" cy="721.61" r="1.3" fill="#a20a26"/>
<circle cx="82.92" cy="720.40" r="1.3" fill="#a20a26"/>
<circle cx="83.44" cy="722.99" r="1.3" fill="#a20a26"/>
<circle cx="88.63" cy="721.09" r="1.3" fill="#a20a26"/>
<circle cx="89.49" cy="720.74" r="1.3" fill="#a20a26"/>
<circle cx="78.08" cy="722.47" r="1.3" fill="#a20a26"/>
<circle cx="139.49" cy="725.93" r="1.3" fill="#a20a26"/>
<circle cx="314.74" cy="673.51" r="1.3" fill="#a20a26"/>
<circle cx="318.72" cy="680.43" r="1.3" fill="#a20a26"/>
<circle cx="327.02" cy="698.60" r="1.3" fill="#a20a26"/>
<circle cx="263.01" cy="692.54" r="1.3" fill="#a20a26"/>
<circle cx="272.87" cy="700.85" r="1.3" fill="#a20a26"/>
<circle cx="258.69" cy="709.15" r="1.3" fill="#a20a26"/>
<circle cx="271.14" cy="708.63" r="1.3" fill="#a20a26"/>
<circle cx="278.93" cy="707.25" r="1.3" fill="#a20a26"/>
<circle cx="282.39" cy="711.75" r="1.3" fill="#a20a26"/>
<circle cx="287.58" cy="707.25" r="1.3" fill="#a20a26"/>
<circle cx="296.57" cy="706.04" r="1.3" fill="#a20a26"/>
<circle cx="269.76" cy="716.42" r="1.3" fill="#a20a26"/>
<circle cx="269.07" cy="718.67" r="1.3" fill="#a20a26"/>
<circle cx="279.27" cy="716.59" r="1.3" fill="#a20a26"/>
<circle cx="254.71" cy="718.67" r="1.3" fill="#a20a26"/>
<circle cx="251.76" cy="723.34" r="1.3" fill="#a20a26"/>
<circle cx="252.46" cy="725.59" r="1.3" fill="#a20a26"/>
<circle cx="246.57" cy="723.86" r="1.3" fill="#a20a26"/>
<circle cx="246.92" cy="726.28" r="1.3" fill="#a20a26"/>
<circle cx="246.06" cy="728.53" r="1.3" fill="#a20a26"/>
<circle cx="247.79" cy="729.39" r="1.3" fill="#a20a26"/>
<circle cx="265.61" cy="724.20" r="1.3" fill="#a20a26"/>
<circle cx="266.30" cy="725.59" r="1.3" fill="#a20a26"/>
<circle cx="264.22" cy="728.88" r="1.3" fill="#a20a26"/>
<circle cx="302.63" cy="725.07" r="1.3" fill="#a20a26"/>
<circle cx="478.97" cy="671.96" r="1.3" fill="#a20a26"/>
<circle cx="474.99" cy="678.36" r="1.3" fill="#a20a26"/>
<circle cx="456.48" cy="691.68" r="1.3" fill="#a20a26"/>
<circle cx="441.60" cy="699.64" r="1.3" fill="#a20a26"/>
<circle cx="432.26" cy="700.50" r="1.3" fill="#a20a26"/>
<circle cx="447.83" cy="703.96" r="1.3" fill="#a20a26"/>
<circle cx="462.53" cy="703.10" r="1.3" fill="#a20a26"/>
<circle cx="427.76" cy="706.38" r="1.3" fill="#a20a26"/>
<circle cx="438.66" cy="706.56" r="1.3" fill="#a20a26"/>
<circle cx="417.38" cy="711.23" r="1.3" fill="#a20a26"/>
<circle cx="427.76" cy="711.75" r="1.3" fill="#a20a26"/>
<circle cx="423.09" cy="716.94" r="1.3" fill="#a20a26"/>
<circle cx="425.68" cy="714.69" r="1.3" fill="#a20a26"/>
<circle cx="428.80" cy="717.63" r="1.3" fill="#a20a26"/>
<circle cx="430.53" cy="719.01" r="1.3" fill="#a20a26"/>
<circle cx="438.66" cy="715.55" r="1.3" fill="#a20a26"/>
<circle cx="413.57" cy="717.63" r="1.3" fill="#a20a26"/>
<circle cx="411.49" cy="719.01" r="1.3" fill="#a20a26"/>
<circle cx="410.11" cy="720.40" r="1.3" fill="#a20a26"/>
<circle cx="409.76" cy="721.61" r="1.3" fill="#a20a26"/>
<circle cx="410.98" cy="724.55" r="1.3" fill="#a20a26"/>
<circle cx="404.92" cy="722.82" r="1.3" fill="#a20a26"/>
<circle cx="406.30" cy="722.99" r="1.3" fill="#a20a26"/>
<circle cx="424.82" cy="722.82" r="1.3" fill="#a20a26"/>
<circle cx="422.22" cy="725.59" r="1.3" fill="#a20a26"/>
<circle cx="404.92" cy="727.66" r="1.3" fill="#a20a26"/>
<circle cx="403.19" cy="729.74" r="1.3" fill="#a20a26"/>
<circle cx="400.08" cy="729.05" r="1.3" fill="#a20a26"/>
<circle cx="404.57" cy="730.78" r="1.3" fill="#a20a26"/>
</svg>
</body></html>
